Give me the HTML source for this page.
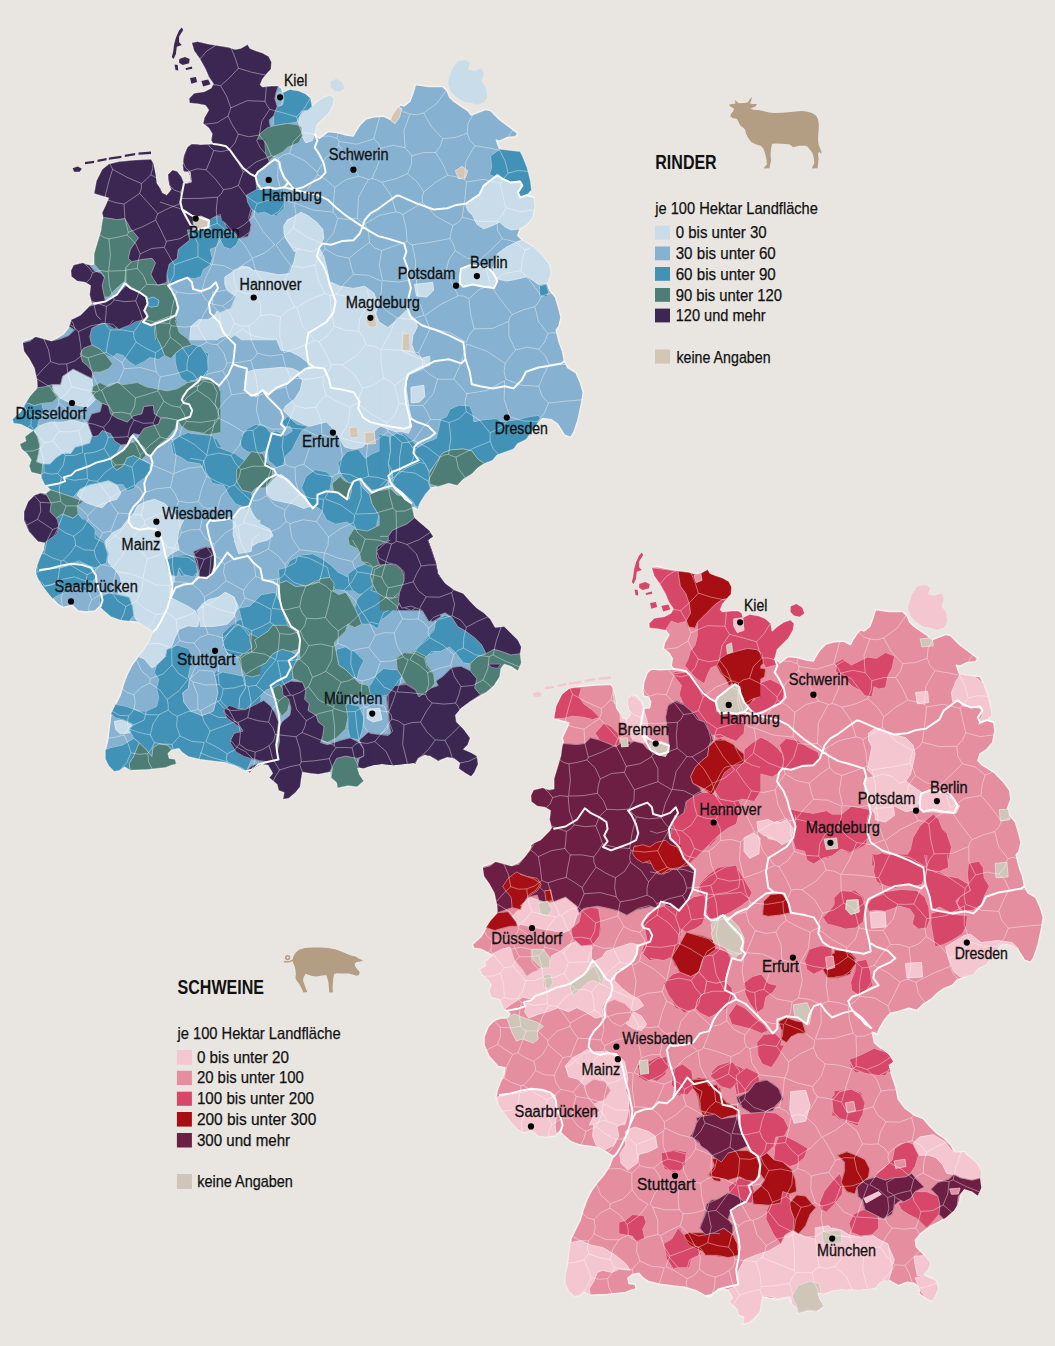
<!DOCTYPE html><html><head><meta charset="utf-8"><title>Rinder und Schweine</title>
<style>html,body{margin:0;padding:0;background:#e9e6e1;}body{width:1055px;height:1346px;overflow:hidden;position:relative;font-family:"Liberation Sans",sans-serif;}svg{position:absolute;left:0;top:0;}text{font-family:"Liberation Sans",sans-serif;fill:#111;}</style></head><body>
<svg width="1055" height="1346" viewBox="0 0 1055 1346">
<defs><clipPath id="ger"><path d="M191.8,42.7 194.1,50.7 199.8,58.7 205.5,68.9 208.9,76.9 213.5,83.7 211.2,88.2 204.4,91.7 194.1,93.3 189.1,98.5 189.6,103.0 197.5,103.7 205.5,105.3 208.9,109.9 204.4,117.8 203.2,123.5 208.9,128.1 212.3,133.7 211.2,140.6 213.5,144.0 199.8,144.7 191.8,144.0 187.3,147.4 183.9,156.5 182.7,165.6 183.9,171.3 188.4,172.0 190.7,177.0 189.6,182.7 183.9,183.3 181.6,177.0 177.1,171.3 172.5,170.1 168.0,174.7 169.1,183.8 171.4,189.5 166.8,195.2 162.3,192.9 160.1,188.2 156.7,183.2 155.5,174.1 154.4,168.4 153.3,162.7 151.0,159.3 135.1,160.0 119.1,161.6 108.9,163.9 102.1,169.6 96.4,180.9 94.1,193.5 100.9,195.7 108.9,198.0 105.5,206.0 102.1,212.8 103.2,217.3 102.1,221.9 100.9,231.0 97.5,242.4 94.1,253.7 94.1,264.0 87.3,264.7 82.7,262.8 73.6,265.1 70.9,270.8 71.4,276.5 77.1,281.0 85.0,282.2 90.7,285.6 89.6,294.7 91.8,302.7 89.6,306.1 80.5,315.2 71.4,319.7 69.1,326.5 63.7,333.6 51.6,341.2 36.4,336.7 22.7,341.2 24.0,351.3 29.2,358.6 34.4,368.0 37.1,380.5 37.5,387.8 30.2,396.1 26.1,402.4 20.9,411.8 12.5,419.1 13.6,423.2 20.9,424.3 29.2,428.4 33.4,430.5 29.2,433.6 25.0,436.8 26.1,440.9 19.8,444.1 21.9,449.3 27.1,453.5 31.3,459.7 29.2,466.0 31.3,472.2 39.6,474.3 41.7,478.5 44.8,484.7 50.0,488.9 46.9,493.1 40.7,493.1 34.4,495.2 28.2,501.4 24.0,511.8 24.0,520.2 29.1,531.4 38.2,541.6 45.0,542.7 43.9,549.6 40.5,556.4 37.1,565.5 35.9,572.3 38.2,579.1 42.7,586.0 49.6,595.1 57.5,604.2 63.2,607.6 72.3,605.3 78.0,611.0 86.0,612.1 95.1,611.0 99.6,606.4 104.2,611.0 111.0,616.7 120.1,620.1 129.2,621.2 138.3,622.4 146.3,626.9 153.1,631.5 149.7,640.6 144.0,649.7 137.2,657.6 131.5,665.6 126.9,674.7 123.5,683.8 120.1,695.2 115.5,704.3 111.0,713.4 109.9,722.5 108.7,731.6 107.6,740.7 105.3,749.8 105.3,758.9 108.7,765.7 114.4,771.4 120.1,770.2 124.6,766.8 130.3,770.2 147.4,769.6 165.6,767.5 171.3,765.2 176.5,763.9 175.1,759.3 169.0,758.4 167.9,753.2 172.0,749.8 178.8,748.2 182.0,752.0 188.3,756.6 199.7,759.3 213.4,761.1 224.7,762.3 236.1,765.7 244.1,770.2 249.8,772.5 254.6,767.5 261.4,764.1 268.2,765.2 272.8,773.2 269.4,777.7 277.3,784.5 278.5,790.2 284.2,792.5 283.0,799.3 288.7,798.2 295.5,792.5 300.1,786.8 301.2,778.9 302.4,772.0 309.2,773.2 318.3,774.3 329.7,772.0 330.8,777.7 336.5,782.3 337.6,788.0 347.9,785.7 357.0,786.8 363.8,781.1 359.2,774.3 357.0,767.5 363.8,768.6 372.9,765.2 382.0,764.1 393.4,765.2 404.7,764.1 413.8,762.9 415.5,764.1 417.8,758.4 424.6,755.0 430.3,756.1 438.2,760.7 447.3,757.3 454.2,758.4 459.9,762.9 458.7,768.6 465.5,773.2 471.2,776.6 474.6,772.0 478.1,764.1 476.9,756.1 471.2,752.7 463.3,749.3 467.8,744.7 470.1,737.9 463.3,728.8 456.4,722.0 455.3,715.2 461.0,708.3 470.1,701.5 479.2,697.0 486.0,692.4 494.0,685.6 499.7,676.5 500.8,668.5 504.2,664.0 511.0,666.3 517.9,670.8 521.3,662.8 520.1,653.7 521.3,646.9 517.9,640.1 511.0,633.3 504.2,626.4 495.1,627.6 490.6,619.6 483.7,612.8 476.9,608.2 470.1,601.4 463.3,593.5 454.2,590.0 445.1,583.2 438.2,574.1 436.0,562.7 431.4,549.1 428.0,540.0 433.2,536.4 429.0,530.2 421.7,523.9 414.4,517.7 412.3,507.3 417.5,509.3 419.6,503.1 424.8,494.7 430.0,488.5 438.4,486.4 448.8,483.3 457.2,485.4 463.4,479.1 471.8,473.9 478.0,467.6 484.3,463.5 492.6,460.3 496.8,455.1 505.1,452.0 513.5,448.9 517.6,443.6 526.0,439.5 530.1,434.3 534.3,428.0 538.5,421.8 542.7,418.6 551.0,419.7 557.3,423.8 561.4,430.1 564.5,435.3 570.8,437.4 573.9,432.2 578.1,419.7 581.2,405.1 583.3,392.6 580.2,382.1 576.0,372.7 567.7,367.5 564.5,361.3 562.5,350.9 559.3,342.5 556.2,330.0 558.8,326.6 561.1,317.5 558.8,308.4 555.4,297.1 549.7,290.2 547.4,283.4 550.9,274.3 549.7,265.2 542.9,256.1 533.8,247.0 522.4,240.2 517.9,235.6 520.1,228.8 527.0,224.3 532.7,217.4 534.9,206.1 533.8,197.0 527.0,194.7 531.5,190.1 530.4,181.0 527.0,167.4 522.4,156.0 520.1,151.5 499.7,149.2 496.3,140.1 499.7,141.2 506.5,137.8 515.6,136.7 517.9,133.3 508.8,126.4 499.7,119.6 490.6,110.5 486.0,109.4 476.9,112.8 471.2,115.1 467.8,110.5 461.0,106.0 454.2,101.4 449.6,96.9 447.3,91.2 442.8,86.6 429.1,86.6 415.5,84.4 413.2,92.3 409.8,101.4 404.1,106.0 400.7,104.8 397.3,108.2 392.7,115.1 390.5,119.6 383.6,116.2 373.8,116.7 365.9,119.0 360.2,124.6 355.6,131.5 353.4,136.0 346.5,134.9 337.4,132.6 328.3,131.5 323.8,134.9 319.2,138.3 314.7,133.7 317.0,124.6 321.5,120.1 328.3,113.3 332.9,105.3 334.0,98.5 330.6,95.1 323.8,97.3 317.0,101.9 312.0,106.4 310.6,98.5 305.6,93.9 298.8,91.0 289.7,89.4 282.8,92.8 281.7,88.2 278.3,86.0 271.5,86.0 262.4,87.1 260.1,84.8 262.4,79.1 266.9,73.5 271.0,68.9 271.5,62.1 268.7,56.4 262.4,53.0 255.5,50.7 249.9,48.4 247.6,44.6 240.8,48.4 235.1,49.6 228.2,47.3 216.9,45.5 207.8,43.9 197.5,41.6Z"/></clipPath><path id="tex" d="M216.1,45.3 L206.9,50.9 L200.0,59.0M231.2,48.3 L235.3,58.1 L238.4,68.2M212.9,84.8 L216.8,84.9 L220.6,85.7M238.4,68.2 L229.9,77.4 L220.6,85.7M513.5,130.0 L510.1,133.2 L508.3,137.6M473.3,114.2 L468.1,123.0 L467.2,133.2M467.2,133.2 L469.8,140.2 L474.9,145.7M499.6,150.3 L487.3,147.7 L474.9,145.7M528.0,171.4 L517.9,170.6 L508.1,173.1M499.6,150.3 L505.2,161.2 L508.1,173.1M498.6,454.4 L493.1,448.7 L490.2,441.3M490.2,441.3 L472.8,448.5 L456.0,457.1M456.0,457.1 L458.4,468.5 L465.3,477.9M52.8,440.9 L48.7,442.3 L44.4,442.7M52.8,440.9 L55.5,435.9 L59.4,431.7M44.4,442.7 L37.1,434.6 L30.8,425.6M59.4,431.7 L54.4,422.1 L53.1,411.3M53.1,411.3 L43.0,415.3 L32.3,415.3M32.3,415.3 L31.3,420.4 L30.8,425.6M59.4,431.7 L69.0,431.8 L78.6,430.5M65.4,455.5 L59.0,448.3 L52.8,440.9M65.4,455.5 L74.4,455.4 L82.8,452.5M78.6,430.5 L81.7,441.3 L82.8,452.5M534.2,209.9 L519.8,211.7 L505.8,207.7M508.1,173.1 L504.1,178.2 L500.2,183.4M505.8,207.7 L502.9,195.5 L500.2,183.4M238.4,68.2 L251.8,72.3 L265.6,75.1M532.6,246.3 L529.2,248.7 L525.2,249.9M525.2,249.9 L515.0,241.8 L502.3,238.7M505.8,207.7 L502.4,215.1 L496.9,221.2M502.3,238.7 L497.6,230.6 L496.9,221.2M566.2,364.6 L557.7,364.2 L549.1,364.5M582.1,399.8 L565.2,401.2 L548.4,403.1M549.1,364.5 L543.5,375.2 L538.8,386.3M538.8,386.3 L541.8,395.7 L548.4,403.1M548.4,403.1 L544.4,413.1 L537.6,421.4M501.2,626.8 L496.3,640.7 L493.1,655.0M493.1,655.0 L506.1,661.5 L519.5,666.9M477.1,757.1 L468.9,761.2 L459.8,763.0M493.1,655.0 L490.9,655.6 L489.1,656.8M491.8,687.5 L487.6,683.5 L483.1,680.0M483.1,680.0 L487.8,668.8 L489.1,656.8M359.2,767.9 L354.5,758.2 L352.1,747.8M352.1,747.8 L344.0,747.5 L336.0,747.7M331.1,778.0 L332.4,768.1 L329.3,758.6M336.0,747.7 L332.2,752.8 L329.3,758.6M374.8,741.5 L383.9,730.6 L391.9,719.0M374.8,741.5 L386.1,751.5 L392.5,765.1M407.5,763.7 L402.7,744.6 L404.0,724.9M404.0,724.9 L398.4,721.0 L391.9,719.0M359.3,742.3 L367.1,743.5 L374.8,741.5M352.1,747.8 L355.1,744.3 L359.3,742.3M420.5,722.1 L425.8,712.2 L432.2,702.9M420.5,722.1 L426.8,731.8 L435.3,739.8M435.3,739.8 L440.1,740.2 L444.9,740.3M444.9,740.3 L452.6,733.1 L460.1,725.6M432.2,702.9 L443.9,704.1 L455.6,703.1M455.6,703.1 L458.0,706.2 L459.8,709.7M404.0,724.9 L412.1,722.5 L420.5,722.1M414.7,763.5 L415.4,762.2 L416.6,761.2M420.1,757.2 L428.6,749.3 L435.3,739.8M452.3,758.1 L449.5,748.8 L444.9,740.3M460.9,686.5 L472.7,685.6 L483.1,680.0M460.9,686.5 L458.8,694.9 L455.6,703.1M207.9,144.3 L210.5,147.6 L213.7,150.5M213.7,150.5 L210.2,160.3 L206.2,169.8M183.2,162.2 L185.3,167.4 L189.4,171.2M206.2,169.8 L197.6,168.8 L189.4,171.2M40.5,448.2 L32.7,451.0 L24.4,451.3M40.5,448.2 L43.6,460.2 L44.2,472.6M44.2,472.6 L42.1,473.9 L40.1,475.2M44.4,442.7 L42.4,445.4 L40.5,448.2M30.8,425.6 L29.1,426.4 L27.6,427.7M65.4,455.5 L63.2,465.3 L57.6,473.6M57.6,473.6 L50.8,474.1 L44.2,472.6M61.3,477.3 L59.6,475.3 L57.6,473.6M61.3,477.3 L59.2,489.3 L60.7,501.3M60.7,501.3 L50.4,502.9 L40.1,502.3M40.1,502.3 L37.2,498.8 L34.1,495.5M24.0,406.1 L27.3,411.4 L32.3,415.3M73.7,536.2 L65.3,532.8 L57.9,527.7M73.7,536.2 L82.6,529.3 L88.3,519.6M57.9,527.7 L62.2,516.8 L66.1,505.9M88.3,519.6 L87.8,517.5 L87.7,515.5M87.7,515.5 L82.8,510.5 L77.6,506.0M66.1,505.9 L71.8,505.9 L77.6,506.0M52.7,529.5 L55.3,528.5 L57.9,527.7M37.5,519.4 L45.1,524.4 L52.7,529.5M37.5,519.4 L40.8,511.1 L40.1,502.3M60.7,501.3 L63.1,503.9 L66.1,505.9M43.8,338.9 L48.5,349.9 L50.7,361.7M36.3,376.6 L43.2,368.9 L50.7,361.7M61.3,477.3 L74.3,480.3 L87.5,478.6M84.4,453.5 L86.7,466.0 L87.5,478.6M77.6,506.0 L82.1,492.5 L88.9,480.1M87.5,478.6 L88.2,479.4 L88.9,480.1M150.3,734.8 L152.9,724.0 L159.0,714.8M128.8,728.9 L139.4,732.6 L150.3,734.8M128.6,715.9 L131.7,712.6 L134.0,708.7M128.8,728.9 L127.3,722.4 L128.6,715.9M159.0,714.8 L145.8,714.6 L134.0,708.7M150.4,678.7 L149.9,680.9 L149.9,683.1M150.4,678.7 L141.1,670.4 L136.3,658.9M122.2,688.2 L127.4,692.8 L134.0,694.6M149.9,683.1 L141.0,687.5 L134.0,694.6M147.8,753.6 L151.7,748.5 L154.4,742.7M147.8,753.6 L148.6,761.7 L152.1,769.0M154.4,742.7 L163.3,744.0 L172.3,744.4M172.3,744.4 L172.6,747.0 L173.3,749.5M175.4,760.1 L176.1,762.0 L176.1,764.0M130.9,752.8 L139.3,754.3 L147.8,753.6M130.9,752.8 L128.1,743.7 L124.1,734.9M124.1,734.9 L126.2,731.7 L128.8,728.9M150.3,734.8 L152.3,738.8 L154.4,742.7M119.5,770.4 L126.8,762.7 L130.9,752.8M199.0,759.1 L201.8,750.9 L204.3,742.5M172.3,744.4 L175.9,740.0 L180.0,736.0M180.0,736.0 L191.6,741.3 L204.3,742.5M239.3,744.1 L234.3,750.3 L227.1,753.7M239.3,744.1 L240.4,733.1 L238.2,722.3M238.2,722.3 L236.8,722.0 L235.4,721.5M235.4,721.5 L222.8,726.4 L210.1,731.0M227.1,753.7 L216.8,747.1 L205.9,741.6M205.9,741.6 L208.0,736.3 L210.1,731.0M255.2,752.0 L246.5,749.5 L239.3,744.1M255.2,752.0 L254.6,761.8 L251.2,771.0M227.4,763.1 L226.3,758.4 L227.1,753.7M220.2,700.4 L229.1,710.0 L235.4,721.5M200.7,710.5 L210.3,705.1 L220.2,700.4M200.7,710.5 L204.0,721.4 L210.1,731.0M446.4,90.2 L436.8,103.4 L423.6,113.0M467.2,133.2 L455.3,137.6 L442.7,138.6M442.7,138.6 L431.6,126.9 L423.6,113.0M474.9,145.7 L465.8,161.4 L464.5,179.5M500.2,183.4 L483.5,179.3 L466.5,182.0M464.5,179.5 L465.5,180.7 L466.5,182.0M496.9,221.2 L479.4,221.6 L462.3,217.3M466.5,182.0 L464.8,199.7 L462.3,217.3M487.8,616.8 L476.8,621.6 L466.4,627.3M489.1,656.8 L475.4,654.8 L463.3,648.1M463.3,648.1 L463.8,637.5 L466.4,627.3M388.2,480.6 L389.4,494.6 L393.1,508.1M388.2,480.6 L394.6,476.8 L399.6,471.3M399.6,471.3 L414.8,473.0 L428.0,481.0M396.0,511.2 L394.5,509.7 L393.1,508.1M396.0,511.2 L404.5,511.1 L412.4,507.8M413.2,507.6 L415.9,507.1 L418.5,506.5M430.9,488.3 L429.2,484.7 L428.0,481.0M414.0,440.4 L408.2,442.4 L402.1,442.7M402.1,442.7 L399.6,456.9 L399.6,471.3M440.0,457.4 L427.8,447.7 L414.0,440.4M440.0,457.4 L434.3,469.4 L428.0,481.0M448.5,454.3 L452.2,456.0 L456.0,457.1M448.5,454.3 L444.0,455.1 L440.0,457.4M294.9,467.4 L299.1,465.2 L303.8,464.5M294.9,467.4 L290.0,466.8 L285.5,464.4M285.5,464.4 L282.1,446.8 L284.1,428.9M286.3,427.7 L285.2,428.3 L284.1,428.9M286.3,427.7 L303.3,429.2 L318.7,436.4M318.7,436.4 L308.9,449.2 L303.8,464.5M299.8,494.6 L311.3,498.4 L323.5,499.2M324.6,498.6 L330.3,488.3 L332.1,476.7M294.9,467.4 L295.7,481.3 L299.8,494.6M303.8,464.5 L316.5,473.9 L332.1,476.7M324.6,498.6 L340.6,504.9 L354.5,515.1M323.5,499.2 L322.4,511.1 L316.5,521.5M316.5,521.5 L322.7,529.1 L328.5,537.0M354.5,515.1 L354.3,518.9 L353.4,522.7M353.4,522.7 L340.3,528.6 L328.5,537.0M430.4,532.2 L419.3,539.6 L406.9,544.5M396.0,511.2 L396.5,526.2 L396.1,541.2M406.9,544.5 L401.6,542.6 L396.1,541.2M251.8,630.7 L261.1,626.9 L269.9,622.1M251.9,652.2 L250.9,641.5 L251.8,630.7M251.9,652.2 L264.5,654.0 L275.7,659.8M275.7,659.8 L278.7,646.9 L279.6,633.7M279.6,633.7 L276.1,626.8 L269.9,622.1M406.9,544.5 L416.3,553.7 L421.1,566.0M436.4,564.9 L428.7,565.0 L421.1,566.0M273.1,780.9 L276.1,775.3 L279.6,770.0M255.2,752.0 L262.5,749.6 L269.2,745.6M269.2,745.6 L272.5,758.6 L279.6,770.0M302.5,772.1 L301.0,768.4 L299.8,764.6M279.6,770.0 L289.6,766.8 L299.8,764.6M329.3,758.6 L315.4,760.7 L301.3,761.8M299.8,764.6 L300.8,763.3 L301.3,761.8M388.9,711.8 L391.2,715.0 L391.9,719.0M388.9,711.8 L392.7,702.1 L396.1,692.4M425.5,694.5 L411.2,692.8 L396.9,691.9M425.5,694.5 L427.9,699.4 L432.2,702.9M176.4,291.8 L172.2,307.5 L169.6,323.5M176.4,291.8 L188.8,293.9 L201.4,292.7M210.1,303.4 L205.0,298.6 L201.4,292.7M210.1,303.4 L203.7,314.4 L197.7,325.7M197.7,325.7 L184.4,327.1 L171.1,325.7M169.6,323.5 L170.6,324.5 L171.1,325.7M233.4,270.4 L223.4,265.5 L212.3,264.5M222.3,306.0 L231.4,299.9 L237.2,290.5M222.3,306.0 L216.1,304.8 L210.1,303.4M237.2,290.5 L234.2,280.7 L233.4,270.4M211.9,264.7 L205.4,278.2 L201.4,292.7M217.1,344.7 L228.3,336.1 L234.4,323.4M222.3,306.0 L230.3,313.4 L234.4,323.4M207.1,342.3 L201.9,334.3 L197.7,325.7M217.1,344.7 L211.9,344.2 L207.1,342.3M110.0,163.6 L111.3,166.5 L112.6,169.3M112.6,169.3 L108.4,183.0 L105.0,196.9M137.3,268.3 L138.2,261.0 L140.2,253.9M108.6,271.1 L123.0,270.7 L137.3,268.3M108.9,238.8 L110.4,255.0 L108.6,271.1M108.9,238.8 L118.0,237.2 L126.9,234.9M126.9,234.9 L135.4,243.1 L140.2,253.9M217.2,223.4 L216.3,210.3 L217.5,197.2M217.2,223.4 L205.5,227.9 L193.0,229.1M217.5,197.2 L199.7,198.4 L181.8,198.5M193.0,229.1 L185.1,217.1 L179.6,203.9M179.6,203.9 L180.1,201.0 L181.8,198.5M206.2,169.8 L215.4,179.1 L223.4,189.5M184.2,183.3 L182.9,188.1 L180.3,192.2M223.4,189.5 L221.3,194.0 L217.5,197.2M181.8,198.5 L181.3,195.3 L180.3,192.2M153.2,162.7 L152.6,168.9 L150.7,174.8M180.3,192.2 L174.6,190.2 L170.1,186.2M156.0,177.9 L153.4,176.2 L150.7,174.8M112.6,169.3 L126.7,177.1 L141.4,183.5M150.7,174.8 L146.3,179.4 L141.4,183.5M319.0,341.7 L316.8,341.0 L314.6,340.4M319.0,341.7 L328.0,335.4 L334.2,326.4M314.6,340.4 L302.5,325.6 L296.9,307.3M334.2,326.4 L331.2,311.1 L329.9,295.6M296.9,307.3 L310.4,299.2 L325.1,293.7M329.9,295.6 L327.7,294.3 L325.1,293.7M248.9,326.1 L241.4,326.2 L234.4,323.4M237.2,290.5 L246.3,293.3 L255.8,294.3M248.9,326.1 L255.2,321.3 L260.7,315.6M255.8,294.3 L260.6,304.4 L260.7,315.6M283.8,352.8 L299.5,347.4 L314.6,340.4M283.8,352.8 L279.6,335.1 L280.4,316.9M296.9,307.3 L295.8,307.1 L294.6,307.0M280.4,316.9 L286.9,311.1 L294.6,307.0M150.4,678.7 L162.8,674.1 L172.1,664.9M172.1,664.9 L171.8,656.6 L171.8,648.3M147.6,643.9 L160.1,643.6 L171.8,648.3M52.7,529.5 L46.9,540.8 L44.1,553.2M37.5,519.4 L31.9,522.4 L26.3,525.3M44.1,553.2 L43.0,553.7 L41.8,553.7M128.6,715.9 L119.8,715.4 L112.1,711.2M134.0,708.7 L135.2,701.7 L134.0,694.6M124.1,734.9 L116.1,737.1 L107.9,738.1M73.7,536.2 L75.2,540.6 L75.6,545.3M75.6,545.3 L70.2,553.4 L63.2,560.2M44.1,553.2 L52.2,557.8 L61.2,560.8M63.2,560.2 L62.2,560.5 L61.2,560.8M42.9,586.2 L50.5,585.3 L57.6,582.5M61.2,560.8 L59.1,571.6 L57.6,582.5M62.6,607.2 L61.2,597.7 L64.1,588.6M64.1,588.6 L60.8,585.6 L57.6,582.5M286.3,427.7 L290.9,416.8 L295.3,405.7M318.7,436.4 L320.4,435.8 L321.9,434.9M295.3,405.7 L305.5,408.4 L315.9,407.1M315.9,407.1 L321.2,420.5 L321.9,434.9M173.8,473.5 L176.1,456.3 L172.3,439.5M173.8,473.5 L187.6,468.2 L202.3,466.6M202.3,466.6 L204.0,460.8 L206.8,455.5M206.7,455.1 L194.2,444.2 L179.5,436.2M179.5,436.2 L176.3,438.6 L172.3,439.5M160.3,376.8 L173.9,374.4 L187.1,370.2M160.3,376.8 L158.0,374.6 L156.3,371.8M156.3,371.8 L154.7,362.3 L155.5,352.7M187.1,370.2 L187.0,363.4 L188.6,356.8M188.6,356.8 L181.1,345.5 L170.3,337.2M170.3,337.2 L164.5,346.5 L155.5,352.7M207.1,342.3 L196.3,347.5 L188.6,356.8M171.1,325.7 L169.6,331.4 L170.3,337.2M109.9,501.3 L97.3,506.0 L87.7,515.5M109.9,501.3 L110.1,499.7 L110.2,498.1M88.9,480.1 L93.1,481.0 L97.4,481.2M110.2,498.1 L104.0,489.5 L97.4,481.2M149.9,683.1 L159.8,689.9 L167.1,699.5M172.1,664.9 L178.7,673.7 L188.0,679.4M188.0,679.4 L178.9,690.8 L167.1,699.5M180.0,736.0 L176.6,726.4 L177.3,716.3M200.7,710.5 L199.2,710.1 L197.9,709.5M197.9,709.5 L187.2,711.9 L177.3,716.3M159.0,714.8 L163.5,712.3 L168.2,710.2M177.3,716.3 L172.4,713.8 L168.2,710.2M167.1,699.5 L168.2,704.8 L168.2,710.2M244.9,684.8 L246.5,685.7 L248.1,686.6M244.9,684.8 L234.1,687.9 L223.0,688.9M223.0,688.9 L222.2,694.8 L220.2,700.4M238.2,722.3 L243.0,720.1 L247.7,717.7M247.7,717.7 L251.2,702.2 L248.1,686.6M240.6,658.3 L245.8,654.5 L251.9,652.2M240.6,658.3 L241.7,671.7 L244.9,684.8M275.9,660.0 L265.4,672.2 L256.0,685.4M256.0,685.4 L252.0,685.8 L248.1,686.6M201.8,660.7 L210.3,663.4 L219.1,662.2M201.8,660.7 L194.3,669.1 L189.9,679.6M189.9,679.6 L191.5,680.5 L192.6,681.9M192.6,681.9 L205.7,684.9 L219.2,684.7M219.2,684.7 L218.0,673.4 L219.1,662.2M193.9,643.0 L199.7,651.0 L201.8,660.7M193.9,643.0 L186.7,642.5 L179.7,640.7M171.8,648.3 L175.8,644.6 L179.7,640.7M197.9,709.5 L197.7,695.2 L192.6,681.9M223.0,688.9 L221.4,686.6 L219.2,684.7M240.6,658.3 L233.9,657.2 L227.8,654.1M227.8,654.1 L223.9,658.7 L219.1,662.2M227.8,654.1 L223.9,646.5 L222.8,638.1M193.9,643.0 L200.3,637.3 L208.2,634.1M208.2,634.1 L215.6,635.7 L222.8,638.1M251.8,630.7 L243.9,626.9 L235.6,623.9M222.8,638.1 L230.3,632.0 L235.6,623.9M269.9,622.1 L270.9,615.8 L271.1,609.4M245.0,597.9 L258.4,602.8 L271.1,609.4M245.0,597.9 L240.5,606.4 L233.8,613.3M233.8,613.3 L235.9,618.4 L235.6,623.9M423.6,113.0 L416.9,114.8 L409.9,114.0M409.9,114.0 L403.4,111.8 L398.4,107.1M338.4,132.8 L337.2,135.7 L337.3,138.7M337.3,138.7 L338.4,139.9 L338.9,141.4M379.8,116.4 L376.7,127.6 L373.8,138.9M338.9,141.4 L356.7,144.2 L373.8,138.9M405.1,147.7 L404.0,130.3 L409.9,114.0M405.1,147.7 L392.8,145.3 L380.6,148.2M380.6,148.2 L378.1,142.9 L373.8,138.9M310.4,98.3 L304.4,108.2 L296.6,116.8M337.3,138.7 L329.9,136.1 L322.0,136.2M316.2,135.3 L309.2,133.1 L301.9,132.9M296.6,116.8 L299.0,124.9 L301.9,132.9M226.9,231.5 L229.4,231.8 L232.0,231.8M232.0,231.8 L243.8,225.0 L253.9,216.1M217.2,223.4 L222.2,227.2 L226.9,231.5M238.4,185.5 L246.2,196.1 L257.0,203.6M238.4,185.5 L231.2,188.5 L223.4,189.5M253.9,216.1 L254.9,209.7 L257.0,203.6M372.0,178.4 L370.2,179.2 L368.3,179.4M372.0,178.4 L378.4,163.9 L380.6,148.2M338.8,145.4 L338.7,143.4 L338.9,141.4M338.8,145.4 L349.4,160.3 L358.6,176.2M358.6,176.2 L363.5,177.6 L368.3,179.4M381.9,182.2 L377.1,180.0 L372.0,178.4M381.9,182.2 L391.3,196.0 L396.0,211.9M364.9,224.0 L379.4,215.4 L396.0,211.9M364.9,224.0 L360.9,221.7 L357.5,218.5M368.3,179.4 L358.4,197.7 L357.5,218.5M301.9,132.9 L293.3,141.7 L289.5,153.4M338.8,145.4 L326.2,157.3 L317.1,172.1M289.5,153.4 L304.7,160.7 L317.1,172.1M452.8,225.5 L435.9,216.2 L422.5,202.3M452.8,225.5 L451.1,232.0 L450.0,238.5M407.2,241.2 L406.0,227.7 L402.8,214.6M422.5,202.3 L412.7,208.5 L402.8,214.6M407.2,241.2 L409.4,243.6 L412.4,244.8M412.4,244.8 L431.3,242.1 L450.0,238.5M450.8,665.5 L452.1,660.0 L453.7,654.5M450.8,665.5 L438.9,668.3 L427.6,672.6M453.7,654.5 L442.6,644.9 L429.8,637.8M429.8,637.8 L418.1,647.2 L409.9,659.6M427.6,672.6 L419.4,665.2 L409.9,659.6M460.9,686.5 L454.4,676.7 L450.8,665.5M463.3,648.1 L458.0,650.4 L453.7,654.5M425.5,694.5 L428.9,683.8 L427.6,672.6M408.2,659.7 L402.2,675.7 L396.9,691.9M418.0,618.9 L420.3,607.2 L426.2,596.8M418.0,618.9 L424.0,622.8 L428.4,628.3M428.4,628.3 L438.9,619.4 L452.2,615.8M426.2,596.8 L439.3,597.2 L451.6,592.6M452.2,615.8 L454.5,604.1 L451.6,592.6M466.4,627.3 L460.6,620.0 L452.2,615.8M429.8,637.8 L428.0,633.2 L428.4,628.3M453.7,589.7 L452.7,591.2 L451.6,592.6M421.1,566.0 L416.6,573.6 L413.2,581.8M413.2,581.8 L418.2,590.6 L426.2,596.8M260.1,424.0 L256.3,410.0 L258.2,395.7M284.1,428.9 L271.6,429.1 L260.1,424.0M295.3,405.7 L288.7,397.3 L285.9,386.9M258.2,395.7 L271.9,390.7 L285.9,386.9M248.9,326.1 L251.4,340.2 L257.3,353.3M260.7,315.6 L270.7,314.3 L280.4,316.9M257.3,353.3 L269.9,356.1 L282.6,354.4M331.2,365.1 L328.4,371.9 L323.0,376.7M323.0,376.7 L306.8,379.4 L290.4,377.8M319.0,341.7 L325.7,353.1 L331.2,365.1M282.6,354.4 L285.4,366.5 L290.4,377.8M323.0,376.7 L323.4,386.3 L326.3,395.4M315.9,407.1 L320.2,400.5 L326.3,395.4M285.9,386.9 L288.4,382.5 L290.4,377.8M299.8,494.6 L291.6,501.5 L285.0,509.9M285.0,509.9 L284.3,515.9 L286.4,521.5M316.5,521.5 L302.9,519.8 L289.7,523.7M289.7,523.7 L288.0,522.6 L286.4,521.5M285.0,509.9 L274.4,504.8 L266.8,495.8M285.5,464.4 L278.4,467.2 L271.0,469.1M266.8,495.8 L266.8,482.1 L271.0,469.1M260.1,424.0 L256.7,427.5 L252.8,430.5M252.8,430.5 L256.1,449.3 L265.1,466.2M271.0,469.1 L268.4,467.0 L265.1,466.2M243.5,432.2 L248.0,430.3 L252.8,430.5M231.1,455.5 L239.7,445.1 L243.5,432.2M231.1,455.5 L235.3,463.1 L240.9,469.6M265.1,466.2 L252.8,466.2 L240.9,469.6M367.6,443.6 L353.6,441.5 L340.1,437.5M367.6,443.6 L366.2,460.0 L368.6,476.3M338.4,473.1 L342.3,455.6 L339.5,437.8M338.4,473.1 L350.1,474.4 L360.7,479.7M360.7,479.7 L364.5,477.7 L368.6,476.3M357.6,403.6 L353.6,404.8 L350.2,407.3M350.2,407.3 L348.3,423.4 L340.1,437.5M387.0,422.6 L386.5,427.2 L388.0,431.6M387.0,422.6 L371.6,414.2 L357.6,403.6M388.0,431.6 L378.5,438.7 L367.6,443.6M402.1,442.7 L395.4,436.7 L388.0,431.6M388.2,480.6 L378.6,477.6 L368.6,476.3M321.9,434.9 L330.6,437.1 L339.5,437.8M332.1,476.7 L335.2,474.9 L338.4,473.1M355.4,514.1 L361.3,497.4 L360.7,479.7M326.3,395.4 L338.0,401.8 L350.2,407.3M355.4,514.1 L374.6,513.4 L393.1,508.1M365.1,539.0 L361.1,551.5 L352.5,561.5M365.1,539.0 L378.6,540.1 L391.6,543.9M391.6,543.9 L386.4,560.4 L381.7,577.1M381.7,577.1 L369.7,573.8 L357.4,571.9M357.4,571.9 L354.1,567.2 L352.5,561.5M353.4,522.7 L357.3,532.3 L365.1,539.0M324.6,552.8 L338.2,558.2 L352.5,561.5M328.5,537.0 L328.0,545.2 L324.6,552.8M396.1,541.2 L394.1,543.0 L391.6,543.9M388.1,587.9 L400.7,585.2 L413.2,581.8M388.1,587.9 L384.4,582.8 L381.7,577.1M418.0,618.9 L410.3,619.4 L402.5,618.9M388.1,587.9 L386.8,592.5 L386.2,597.2M402.5,618.9 L396.9,606.2 L386.2,597.2M361.7,612.0 L354.7,599.7 L343.9,590.5M343.9,590.5 L351.8,582.0 L357.4,571.9M386.2,597.2 L374.9,605.6 L362.3,612.0M343.9,590.5 L337.5,589.6 L331.2,591.2M331.2,591.2 L328.9,604.5 L325.4,617.5M361.7,612.0 L350.9,622.6 L338.2,630.9M338.2,630.9 L331.2,624.7 L325.4,617.5M279.6,633.7 L290.3,634.4 L300.4,631.0M299.7,606.6 L286.1,609.8 L272.1,608.5M299.7,606.6 L302.2,612.9 L306.5,618.2M306.5,618.2 L304.9,625.3 L300.4,631.0M359.3,742.3 L356.8,727.0 L355.3,711.5M388.9,711.8 L376.0,710.5 L363.8,706.3M363.8,706.3 L359.6,708.9 L355.3,711.5M375.1,676.5 L383.8,686.9 L396.1,692.4M375.1,676.5 L368.8,679.4 L362.2,680.9M363.8,706.3 L361.1,693.7 L362.2,680.9M169.2,284.1 L158.0,284.8 L146.9,284.3M146.9,284.3 L139.5,291.3 L135.7,300.8M169.6,323.5 L155.9,322.5 L142.5,319.0M176.4,291.8 L172.3,288.4 L169.2,284.1M142.5,319.0 L139.5,309.8 L135.7,300.8M92.6,272.6 L100.3,270.5 L108.2,271.6M92.6,272.6 L90.4,278.4 L86.1,282.8M108.2,271.6 L109.4,286.1 L114.1,299.9M91.4,301.0 L98.8,303.8 L106.4,306.4M106.4,306.4 L110.9,303.9 L114.1,299.9M99.8,234.8 L104.0,237.6 L108.9,238.8M84.3,263.5 L88.9,267.6 L92.6,272.6M135.7,300.8 L124.8,301.7 L114.1,299.9M137.3,268.3 L143.4,275.5 L146.9,284.3M78.4,331.6 L91.2,325.7 L105.0,323.4M69.8,324.3 L74.3,327.7 L78.4,331.6M105.0,323.4 L105.9,314.9 L106.4,306.4M174.3,264.8 L169.3,256.0 L164.2,247.3M174.3,264.8 L186.1,260.6 L198.0,256.7M198.0,256.7 L197.9,243.4 L191.8,231.6M191.8,231.6 L179.9,238.8 L166.2,241.3M166.2,241.3 L165.5,244.4 L164.2,247.3M140.2,253.9 L151.6,248.5 L164.2,247.3M169.2,284.1 L174.0,275.1 L174.3,264.8M211.9,264.7 L204.9,260.8 L198.0,256.7M226.9,231.5 L216.1,246.5 L212.3,264.5M193.0,229.1 L192.2,230.2 L191.8,231.6M155.6,220.1 L142.3,226.9 L128.3,232.3M155.6,220.1 L156.4,216.8 L157.8,213.7M157.8,213.7 L148.8,203.4 L139.6,193.5M128.3,232.3 L124.9,218.4 L124.0,204.1M124.0,204.1 L131.8,198.8 L139.6,193.5M126.9,234.9 L127.8,233.7 L128.3,232.3M166.2,241.3 L161.1,230.6 L155.6,220.1M179.6,203.9 L168.5,208.3 L157.8,213.7M141.4,183.5 L141.3,188.6 L139.6,193.5M108.0,200.2 L115.9,202.7 L124.0,204.1M407.2,241.2 L394.5,246.0 L381.7,250.5M402.8,214.6 L399.7,212.6 L396.0,211.9M364.9,224.0 L368.6,232.9 L369.5,242.5M381.7,250.5 L374.7,247.9 L369.5,242.5M412.4,244.8 L415.7,261.7 L414.8,279.0M414.8,279.0 L398.9,282.1 L382.6,280.6M381.7,250.5 L379.3,265.6 L382.6,280.6M75.6,545.3 L84.3,549.8 L94.2,550.4M88.3,519.6 L95.4,526.1 L102.8,532.5M102.8,532.5 L98.4,541.4 L94.2,550.4M342.0,364.8 L354.6,374.6 L362.7,388.3M342.0,364.8 L355.4,356.6 L365.9,345.1M365.9,345.1 L373.7,346.0 L380.8,349.4M380.8,349.4 L381.2,363.9 L383.6,378.2M383.6,378.2 L373.9,384.9 L362.7,388.3M331.2,365.1 L336.6,364.3 L342.0,364.8M357.6,403.6 L359.7,395.8 L362.7,388.3M358.6,331.2 L363.7,337.4 L365.9,345.1M334.2,326.4 L346.1,330.3 L358.6,331.2M387.0,422.6 L395.3,414.2 L399.0,402.9M399.0,402.9 L396.9,394.2 L394.6,385.6M394.6,385.6 L389.7,380.9 L383.6,378.2M186.4,421.4 L184.0,413.9 L180.0,407.3M186.4,421.4 L200.8,422.4 L215.1,420.2M180.0,407.3 L187.2,397.3 L197.1,390.1M197.1,390.1 L209.2,398.4 L218.6,409.6M218.6,409.6 L218.3,413.8 L218.0,417.9M215.1,420.2 L216.8,419.4 L218.0,417.9M160.2,437.1 L166.2,438.6 L172.3,439.5M163.8,401.3 L171.4,405.7 L180.0,407.3M163.8,401.3 L157.7,411.7 L153.1,422.9M153.1,422.9 L156.7,429.9 L160.2,437.1M179.5,436.2 L181.6,428.1 L186.4,421.4M206.7,455.1 L210.5,437.6 L215.1,420.2M187.1,370.2 L192.9,373.3 L196.8,378.7M157.9,390.9 L161.0,396.0 L163.8,401.3M196.8,378.7 L198.3,384.3 L197.1,390.1M157.9,390.9 L158.8,383.8 L160.3,376.8M231.1,455.5 L219.0,453.1 L206.8,455.5M243.5,432.2 L231.2,424.4 L218.0,417.9M84.9,422.3 L83.6,418.8 L83.2,415.0M78.6,430.5 L82.3,426.9 L84.9,422.3M53.1,411.3 L56.9,407.9 L58.8,403.2M83.2,415.0 L70.0,411.3 L58.8,403.2M36.7,378.7 L50.1,387.0 L58.7,400.1M58.8,403.2 L58.9,401.6 L58.7,400.1M135.5,397.8 L134.6,406.4 L130.5,414.0M157.9,390.9 L146.8,394.5 L135.5,397.8M153.1,422.9 L143.3,423.3 L134.1,420.0M130.5,414.0 L131.7,417.3 L134.1,420.0M105.0,323.4 L107.4,327.0 L110.4,329.9M142.5,319.0 L138.4,325.7 L133.7,332.0M110.4,329.9 L122.2,329.9 L133.7,332.0M155.5,352.7 L145.5,348.0 L136.1,342.1M136.1,342.1 L133.9,337.3 L133.7,332.0M115.5,465.1 L123.9,464.2 L131.9,467.2M115.5,465.1 L109.5,457.0 L104.2,448.4M127.9,436.6 L118.1,437.3 L108.2,437.2M127.9,436.6 L135.9,444.6 L140.2,455.2M131.9,467.2 L135.2,462.3 L139.7,458.4M104.2,448.4 L106.7,443.0 L108.2,437.2M140.2,455.2 L139.9,456.8 L139.7,458.4M110.2,498.1 L122.1,491.1 L134.6,485.1M97.4,481.2 L105.5,472.1 L115.5,465.1M134.6,485.1 L133.7,476.1 L131.9,467.2M84.4,453.5 L94.6,452.3 L104.2,448.4M113.0,412.8 L109.3,420.9 L103.4,427.4M113.0,412.8 L121.8,412.2 L130.5,414.0M134.1,420.0 L130.0,427.9 L127.9,436.6M103.4,427.4 L105.9,432.3 L108.2,437.2M160.2,437.1 L149.5,445.4 L140.2,455.2M142.8,493.3 L156.3,488.8 L170.5,487.3M142.8,493.3 L139.7,488.2 L134.6,485.1M173.4,473.9 L156.2,466.8 L139.7,458.4M173.4,473.9 L172.1,480.6 L170.5,487.3M84.9,422.3 L94.3,424.3 L103.4,427.4M226.3,580.7 L223.5,572.7 L224.5,564.3M226.3,580.7 L235.0,585.5 L243.6,590.4M224.5,564.3 L235.4,557.7 L248.0,556.5M243.6,590.4 L248.8,582.7 L255.7,576.4M255.7,576.4 L254.6,566.0 L249.2,557.0M245.0,597.9 L243.5,594.3 L243.6,590.4M277.7,579.0 L266.4,580.3 L255.7,576.4M277.7,579.0 L276.5,594.0 L272.1,608.5M268.4,549.0 L259.1,553.7 L249.2,557.0M271.0,531.5 L270.1,540.3 L268.4,549.0M271.0,531.5 L257.3,526.5 L243.3,522.7M248.0,556.5 L240.4,542.0 L238.0,525.8M238.0,525.8 L241.0,524.9 L243.3,522.7M266.8,495.8 L259.6,499.8 L251.6,501.3M271.0,531.5 L279.6,527.8 L286.4,521.5M243.3,522.7 L247.7,512.1 L251.6,501.3M240.9,469.6 L239.0,478.0 L234.3,485.1M251.6,501.3 L242.8,493.3 L234.3,485.1M423.8,191.9 L416.9,181.7 L407.6,173.7M423.8,191.9 L435.1,182.6 L447.7,175.2M435.7,152.5 L423.5,152.6 L411.8,155.7M435.7,152.5 L442.5,163.4 L447.7,175.2M411.8,155.7 L411.2,165.0 L407.6,173.7M422.5,202.3 L422.2,197.0 L423.8,191.9M381.9,182.2 L395.1,179.1 L407.6,173.7M452.8,225.5 L458.3,222.3 L462.3,217.3M464.5,179.5 L456.2,176.9 L447.7,175.2M442.7,138.6 L440.4,146.2 L435.7,152.5M405.1,147.7 L408.5,151.6 L411.8,155.7M257.0,203.6 L269.9,199.8 L283.0,197.1M238.4,185.5 L240.6,178.7 L243.3,171.9M278.5,158.1 L277.6,178.0 L283.0,197.1M278.5,158.1 L275.1,156.6 L271.4,155.9M243.3,171.9 L256.2,161.9 L271.4,155.9M213.7,150.5 L221.5,151.7 L229.2,149.7M243.3,171.9 L237.0,160.3 L229.2,149.7M349.2,258.2 L359.1,250.0 L369.5,242.5M357.5,218.5 L347.6,219.3 L337.8,218.5M337.8,218.5 L333.6,232.7 L324.4,244.2M349.2,258.2 L336.3,255.6 L325.1,248.8M324.4,244.2 L324.5,246.5 L325.1,248.8M333.1,212.1 L333.7,199.8 L334.9,187.4M333.1,212.1 L313.3,210.1 L294.6,203.0M294.6,203.0 L307.3,189.9 L317.5,174.7M334.9,187.4 L326.7,180.4 L317.5,174.7M337.8,218.5 L335.6,215.2 L333.1,212.1M358.6,176.2 L345.7,179.6 L334.9,187.4M293.4,227.9 L308.0,237.7 L324.4,244.2M294.2,203.2 L296.1,215.6 L293.4,227.9M278.5,158.1 L283.6,154.8 L289.5,153.4M283.0,197.1 L287.9,201.4 L294.2,203.2M317.1,172.1 L317.0,173.5 L317.5,174.7M414.0,440.4 L421.5,429.4 L430.5,419.5M399.0,402.9 L410.9,405.6 L423.1,405.6M430.5,419.5 L427.3,412.3 L423.1,405.6M448.5,454.3 L450.9,438.5 L449.1,422.6M430.5,419.5 L440.0,419.6 L449.1,422.6M381.2,349.2 L399.9,350.3 L418.6,352.7M394.6,385.6 L407.8,375.4 L423.2,368.9M418.6,352.7 L422.3,360.4 L423.2,368.9M423.1,405.6 L433.2,393.9 L437.6,379.1M423.2,368.9 L429.9,374.6 L437.6,379.1M557.0,333.3 L552.4,332.5 L547.9,333.6M549.1,364.5 L545.4,355.9 L538.8,349.2M547.9,333.6 L544.6,342.2 L538.8,349.2M551.8,292.8 L546.6,294.3 L541.5,296.1M525.2,249.9 L522.1,260.1 L521.0,270.6M521.0,270.6 L531.7,283.0 L541.5,296.1M547.9,333.6 L538.5,321.5 L534.8,306.6M541.5,296.1 L538.9,301.8 L534.8,306.6M416.4,280.1 L431.5,275.6 L446.3,270.4M450.0,238.5 L453.4,244.1 L455.2,250.5M455.2,250.5 L448.9,259.6 L446.3,270.4M502.3,238.7 L491.5,249.3 L480.5,259.6M455.2,250.5 L466.8,258.1 L480.5,259.6M521.0,270.6 L504.2,273.5 L490.4,283.5M480.5,259.6 L486.7,271.0 L490.4,283.5M512.2,314.6 L523.3,309.9 L534.8,306.6M512.2,314.6 L500.9,299.9 L490.0,284.9M258.1,395.6 L256.2,377.6 L250.7,360.3M258.1,395.6 L244.8,392.8 L231.4,394.9M231.4,394.9 L228.5,382.2 L222.7,370.5M250.7,360.3 L238.8,362.3 L226.8,363.1M226.8,363.1 L225.6,367.3 L222.7,370.5M257.3,353.3 L254.5,357.3 L250.7,360.3M218.6,409.6 L224.4,401.7 L231.4,394.9M196.8,378.7 L209.5,373.6 L222.7,370.5M217.1,344.7 L223.9,352.9 L226.8,363.1M284.5,574.1 L285.5,569.4 L285.1,564.6M284.5,574.1 L293.8,582.4 L305.7,586.4M285.1,564.6 L291.5,556.3 L299.8,549.8M305.7,586.4 L312.0,583.0 L319.2,582.6M319.2,582.6 L323.0,567.9 L324.4,552.9M299.8,549.8 L312.1,551.2 L324.4,552.9M268.4,549.0 L277.9,555.6 L285.1,564.6M277.7,579.0 L281.6,577.3 L284.5,574.1M299.7,606.6 L301.9,596.3 L305.7,586.4M289.7,523.7 L291.8,537.9 L299.8,549.8M325.4,617.5 L316.0,618.8 L306.5,618.2M331.2,591.2 L325.8,586.0 L319.2,582.6M380.6,661.6 L392.3,660.9 L403.3,656.9M380.6,661.6 L374.4,654.7 L368.8,647.4M368.8,647.4 L372.2,641.4 L375.4,635.3M375.4,635.3 L384.6,632.7 L394.2,633.0M403.3,656.9 L396.9,645.6 L394.2,633.0M408.2,659.7 L405.6,658.5 L403.3,656.9M375.1,676.5 L377.9,669.1 L380.6,661.6M402.5,618.9 L398.3,625.9 L394.2,633.0M362.3,612.0 L369.5,623.3 L375.4,635.3M338.2,630.9 L338.3,637.2 L337.7,643.5M368.8,647.4 L359.9,648.8 L351.2,651.0M351.2,651.0 L345.1,646.0 L337.7,643.5M362.2,680.9 L358.2,679.9 L355.1,677.3M351.2,651.0 L350.8,664.5 L355.1,677.3M333.6,707.4 L335.8,694.4 L341.1,682.3M355.3,711.5 L344.3,711.9 L333.8,708.4M355.1,677.3 L348.5,680.8 L341.1,682.3M336.0,747.7 L335.0,746.7 L334.4,745.4M333.8,708.4 L333.2,709.3 L332.6,710.2M334.4,745.4 L334.7,727.7 L332.6,710.2M336.1,294.1 L344.4,283.7 L353.5,274.2M336.1,294.1 L352.6,297.7 L365.7,308.2M353.5,274.2 L368.4,275.3 L381.9,281.4M381.9,281.4 L381.4,291.7 L378.2,301.5M365.7,308.2 L372.2,305.4 L378.2,301.5M325.1,293.7 L318.1,280.0 L315.0,264.9M315.0,264.9 L319.6,256.6 L325.1,248.8M349.2,258.2 L351.0,266.3 L353.5,274.2M329.9,295.6 L333.2,295.4 L336.1,294.1M358.6,331.2 L359.7,319.0 L365.7,308.2M423.9,315.1 L418.1,298.1 L416.4,280.1M423.9,315.1 L410.6,319.6 L396.6,317.6M396.6,317.6 L386.4,310.7 L378.2,301.5M381.2,349.2 L389.9,333.9 L396.6,317.6M178.4,501.2 L175.2,493.9 L170.5,487.3M173.8,513.0 L158.6,514.1 L144.7,520.5M178.4,501.2 L176.7,507.3 L173.8,513.0M142.8,493.3 L143.9,504.3 L141.3,515.0M141.3,515.0 L142.5,518.1 L144.7,520.5M109.9,501.3 L113.8,507.3 L118.0,513.1M141.3,515.0 L129.7,513.8 L118.0,513.1M102.8,532.5 L106.7,531.9 L110.6,531.4M118.0,513.1 L114.2,522.2 L110.6,531.4M112.8,567.2 L106.7,565.5 L100.5,564.5M112.8,567.2 L114.6,569.2 L116.0,571.5M116.0,571.5 L113.4,582.0 L111.9,592.8M100.5,564.5 L94.8,571.0 L87.0,574.8M111.9,592.8 L101.1,594.1 L91.8,599.8M87.0,574.8 L86.4,580.0 L84.5,585.0M91.8,599.8 L88.7,592.2 L84.5,585.0M126.8,543.0 L118.2,537.9 L110.6,531.4M126.8,543.0 L122.1,556.4 L112.8,567.2M94.2,550.4 L96.0,558.0 L100.5,564.5M63.2,560.2 L74.9,567.8 L87.0,574.8M125.8,606.4 L117.6,600.8 L111.9,592.8M120.7,620.2 L123.9,613.5 L125.8,606.4M88.6,611.8 L89.1,605.5 L91.8,599.8M64.1,588.6 L74.5,587.9 L84.5,585.0M136.1,342.1 L129.0,352.3 L122.2,362.6M110.4,329.9 L108.0,341.1 L106.2,352.4M106.2,352.4 L114.4,357.3 L122.2,362.6M113.0,412.8 L106.6,402.0 L101.7,390.3M135.5,397.8 L126.8,390.1 L118.4,382.2M101.7,390.3 L109.3,384.7 L118.4,382.2M156.3,371.8 L140.5,367.6 L124.1,368.8M118.4,382.2 L121.3,375.5 L124.1,368.8M124.1,368.8 L123.1,365.7 L122.2,362.6M213.2,555.0 L219.8,558.5 L224.5,564.3M213.2,555.0 L213.5,549.6 L214.4,544.3M237.0,525.8 L224.4,533.5 L214.4,544.3M181.4,532.9 L177.6,540.2 L174.1,547.6M181.4,532.9 L190.4,529.9 L199.9,529.6M204.2,559.2 L188.4,555.3 L174.1,547.6M213.2,555.0 L208.7,557.3 L204.2,559.2M214.4,544.3 L205.6,538.5 L199.9,529.6M198.5,501.6 L202.2,506.0 L207.0,509.1M198.5,501.6 L201.7,488.6 L206.7,476.2M206.7,476.2 L217.8,482.1 L229.5,486.6M229.5,486.6 L220.9,496.4 L217.4,508.9M207.0,509.1 L212.2,507.8 L217.4,508.9M181.4,532.9 L179.5,522.2 L173.8,513.0M199.9,529.6 L202.2,518.9 L207.0,509.1M178.4,501.2 L188.4,502.7 L198.5,501.6M202.3,466.6 L204.3,471.5 L206.7,476.2M234.3,485.1 L231.9,485.9 L229.5,486.6M237.0,525.8 L227.5,517.0 L217.4,508.9M259.3,135.0 L248.7,136.8 L238.3,134.1M259.3,135.0 L261.8,121.1 L269.7,109.3M265.0,101.3 L267.1,105.5 L269.7,109.3M265.0,101.3 L247.2,100.7 L230.8,107.8M238.3,134.1 L232.6,125.4 L228.0,116.0M228.0,116.0 L229.5,112.0 L230.8,107.8M271.4,155.9 L266.7,144.7 L259.3,135.0M229.2,149.7 L235.1,142.7 L238.3,134.1M296.6,116.8 L283.2,112.9 L269.7,109.3M266.3,86.6 L265.8,94.0 L265.0,101.3M220.6,85.7 L226.7,96.3 L230.8,107.8M204.2,124.3 L217.0,122.8 L228.0,116.0M274.8,245.0 L264.5,253.1 L252.4,258.1M276.0,245.0 L283.2,255.7 L291.3,265.8M252.3,258.5 L256.2,272.2 L264.6,283.8M291.3,265.8 L287.4,274.9 L282.6,283.5M264.6,283.8 L273.6,284.0 L282.6,283.5M253.9,216.1 L263.1,231.4 L274.8,245.0M293.4,227.9 L284.6,236.4 L276.0,245.0M232.0,231.8 L243.7,243.7 L252.4,258.1M315.0,264.9 L303.2,267.6 L291.3,265.8M233.4,270.4 L243.1,265.0 L252.3,258.5M255.8,294.3 L259.0,288.1 L264.6,283.8M294.6,307.0 L288.8,295.1 L282.6,283.5M449.1,422.6 L458.8,418.8 L466.3,411.6M490.2,441.3 L490.1,437.1 L490.1,432.8M466.3,411.6 L479.8,420.4 L490.1,432.8M537.6,421.4 L523.6,421.0 L510.1,416.9M490.1,432.8 L502.0,427.2 L510.1,416.9M446.3,270.4 L451.8,283.3 L458.3,295.7M490.0,284.9 L478.3,290.1 L468.9,298.8M458.3,295.7 L463.9,296.1 L468.9,298.8M458.3,295.7 L440.7,304.4 L424.7,315.7M418.6,352.7 L424.3,340.8 L430.0,328.9M424.7,315.7 L427.3,322.3 L430.0,328.9M538.8,386.3 L521.7,385.3 L505.7,379.2M510.1,416.9 L504.1,399.2 L504.7,380.6M466.3,411.6 L464.9,402.6 L466.7,393.7M504.7,380.6 L486.9,390.5 L466.7,393.7M437.6,379.1 L445.7,379.4 L453.8,379.0M453.8,379.0 L460.3,386.2 L466.7,393.7M332.9,646.7 L331.8,659.8 L325.7,671.4M332.9,646.7 L320.9,644.0 L308.7,645.5M308.7,645.5 L305.2,653.0 L299.7,659.3M299.7,659.3 L308.1,666.8 L312.4,677.2M312.4,677.2 L319.2,674.7 L325.7,671.4M337.7,643.5 L335.3,645.0 L332.9,646.7M341.1,682.3 L333.6,676.6 L325.7,671.4M300.4,631.0 L303.6,638.8 L308.7,645.5M277.5,660.8 L288.7,660.9 L299.7,659.3M333.6,707.4 L318.6,699.9 L308.5,686.7M308.5,686.7 L310.7,682.1 L312.4,677.2M306.2,720.6 L304.8,726.8 L302.0,732.5M306.2,720.6 L296.8,709.5 L292.9,695.4M296.0,736.8 L285.6,735.6 L275.3,734.5M296.0,736.8 L298.9,734.6 L302.0,732.5M275.3,734.5 L273.0,727.8 L268.6,722.2M268.6,722.2 L271.7,710.3 L279.3,700.5M279.3,700.5 L284.3,696.7 L290.5,695.1M290.5,695.1 L291.7,695.1 L292.9,695.4M334.4,745.4 L318.1,739.0 L302.0,732.5M332.6,710.2 L318.7,713.5 L306.2,720.6M308.5,686.7 L301.1,691.9 L292.9,695.4M301.3,761.8 L299.9,749.0 L296.0,736.8M269.2,745.6 L273.6,740.8 L275.3,734.5M247.7,717.7 L258.0,720.7 L268.6,722.2M256.0,685.4 L266.9,694.1 L279.3,700.5M277.5,660.8 L281.2,679.0 L290.5,695.1M81.8,355.4 L84.8,356.9 L88.1,357.8M81.8,355.4 L74.9,360.9 L66.7,363.9M88.1,357.8 L92.7,374.3 L99.5,390.0M66.7,363.9 L68.2,375.6 L71.9,386.7M71.9,386.7 L83.7,389.8 L95.7,391.9M95.7,391.9 L97.8,391.4 L99.5,390.0M78.4,331.6 L80.4,343.5 L81.8,355.4M106.2,352.4 L97.1,354.8 L88.1,357.8M50.7,361.7 L58.5,364.2 L66.7,363.9M101.7,390.3 L100.6,390.4 L99.5,390.0M58.7,400.1 L65.9,394.0 L71.9,386.7M83.2,415.0 L87.8,402.5 L95.7,391.9M147.4,558.9 L158.8,555.4 L167.9,547.7M147.4,558.9 L139.6,549.8 L130.2,542.2M167.9,547.7 L158.4,533.8 L144.4,524.4M130.2,542.2 L136.3,532.5 L144.4,524.4M116.0,571.5 L129.8,573.8 L143.2,578.1M126.8,543.0 L128.5,542.4 L130.2,542.2M143.2,578.1 L145.0,568.4 L147.4,558.9M144.7,520.5 L144.6,522.5 L144.4,524.4M173.1,548.2 L170.6,547.6 L167.9,547.7M125.8,606.4 L131.0,604.0 L136.2,601.5M136.2,601.5 L141.5,590.6 L143.5,578.6M147.8,627.9 L153.2,622.0 L155.8,614.5M136.2,601.5 L145.4,608.9 L155.8,614.5M515.6,350.0 L508.9,336.4 L508.8,321.3M515.6,350.0 L510.2,356.6 L505.2,363.5M505.2,363.5 L487.2,351.4 L466.8,343.9M508.8,321.3 L492.2,328.5 L474.1,328.9M474.1,328.9 L469.2,335.0 L466.4,342.3M538.8,349.2 L527.1,347.1 L515.6,350.0M512.2,314.6 L509.8,317.5 L508.8,321.3M505.7,379.2 L504.1,371.4 L505.2,363.5M453.8,379.0 L461.4,361.9 L466.8,343.9M468.9,298.8 L470.6,314.0 L474.1,328.9M430.0,328.9 L449.4,332.3 L466.4,342.3M176.1,619.5 L171.2,615.3 L165.7,611.9M176.1,619.5 L190.5,614.5 L203.1,606.1M165.7,611.9 L170.1,599.0 L169.3,585.4M192.5,584.3 L183.8,582.0 L174.9,581.9M192.5,584.3 L199.3,589.8 L204.3,596.9M174.9,581.9 L171.8,583.2 L169.3,585.4M204.3,596.9 L204.6,600.0 L204.8,603.0M203.1,606.1 L204.2,604.7 L204.8,603.0M179.7,640.7 L177.1,630.3 L176.1,619.5M155.8,614.5 L161.0,614.0 L165.7,611.9M208.2,634.1 L203.1,620.5 L203.1,606.1M143.5,578.6 L155.6,585.0 L169.3,585.4M204.2,559.2 L198.9,572.0 L192.5,584.3M173.1,548.2 L172.4,565.1 L174.9,581.9M226.3,580.7 L216.0,589.8 L204.3,596.9M233.8,613.3 L218.8,609.5 L204.8,603.0"/><path id="stb" d="M213.5,144.0 219.6,144.7 226.0,146.3 230.5,150.8 236.2,158.8 243.0,167.9 249.9,173.6 255.5,176.5M255.5,176.5 257.8,172.0 263.5,167.9 269.2,163.3 274.9,159.2 279.4,162.2 280.6,169.0 284.0,177.0 288.5,182.7 284.0,187.2 276.0,188.8 268.1,187.2 261.2,188.8 257.4,183.8 255.5,176.5M315.1,134.2 317.4,140.6 314.7,147.4 319.2,154.2 323.8,163.3 325.6,172.4 320.4,178.1 312.4,182.0 303.3,187.2 294.2,189.5 288.5,182.7M284.0,187.2 296.5,190.2 307.9,192.9 319.2,195.6 328.3,200.2 336.3,207.7 345.4,215.2 354.5,221.3 362.5,226.6M362.5,226.6 364.7,220.2 370.4,213.4 378.4,208.8 387.5,202.0 396.6,195.6 399.6,195.8 409.8,200.4 417.8,203.8 433.7,209.5 447.3,208.3 456.4,204.9 465.5,203.8 472.4,199.2 479.2,194.7 483.7,185.6 492.8,178.8 497.4,175.4 503.1,179.2 511.0,182.6 520.1,181.5 522.4,185.6 517.9,192.4 520.1,197.4 527.0,195.1 533.8,197.0M362.5,226.6 359.7,233.8 353.4,240.2 342.0,241.1 331.1,244.8 322.7,243.4 319.2,247.5 317.0,256.6 323.3,265.7 327.2,274.8 329.5,283.9 335.6,301.4 333.3,312.7 326.5,321.8 317.4,327.5 308.3,333.2 306.0,346.9 308.3,362.8 314.0,367.3M362.5,226.6 370.4,231.6 378.4,236.1 388.6,238.8 404.1,243.6 406.4,251.6 404.1,258.4 407.5,267.5 408.7,278.9 410.9,288.0 408.7,297.1 407.5,308.4 410.9,317.5 422.3,325.5 436.0,330.0 449.6,335.7 463.4,342.5 465.5,359.2M459.9,276.6 461.0,268.6 470.1,265.2 488.3,267.5 494.0,274.3 497.4,281.1 494.0,288.0 483.7,286.8 472.4,284.5 463.3,286.8 459.9,283.4 459.9,276.6M183.9,183.3 182.1,192.9 180.5,202.0 182.1,209.3 191.8,215.6 200.9,217.9 208.9,220.6 208.2,227.0 199.1,229.7 190.7,225.2 182.1,209.3M314.0,367.3 324.2,368.5 328.8,378.7 331.0,387.8 344.7,390.1 353.8,392.4 359.5,401.5 358.3,408.3 362.9,417.4 369.7,421.9 378.8,424.2 390.2,426.5 403.8,428.8 410.7,426.5M410.7,426.5 409.5,417.4 406.1,403.7 405.0,390.1 406.1,381.0 408.4,374.2 417.5,369.6 434.2,361.3 448.8,359.2 461.3,363.4 465.5,359.2M465.5,359.2 469.7,371.7 471.8,384.2 480.1,386.3 492.6,388.4 505.1,386.3 513.5,388.4 521.8,380.0 526.0,371.7 538.5,367.5 551.0,365.5 561.4,363.4 564.5,361.3M411.3,418.6 416.5,421.8 428.0,425.9 435.3,433.2 430.0,437.4 418.6,442.6 414.4,446.8 413.4,453.0 418.6,460.3 411.3,463.5 400.9,468.7 392.5,471.8 388.3,476.0 390.4,482.2 395.6,489.5 401.9,494.7 405.0,498.9 411.3,503.1M276.4,474.3 285.5,478.8 292.4,485.6 299.2,492.5 306.0,499.3 312.8,508.4 317.4,503.8 317.4,494.7 326.5,491.3 337.9,492.5 347.0,499.3 349.2,490.2 353.8,481.1 360.6,478.8 365.2,485.6 372.0,492.5 383.4,487.9 392.5,485.6 401.6,492.5 411.3,503.2M262.8,390.1 267.3,396.9 274.2,403.7 281.0,410.6 283.3,417.4 281.0,424.2 285.5,428.8 281.0,435.6 271.9,433.3 268.5,444.7 266.2,453.8 265.1,465.2 274.2,469.7 276.4,474.3M262.8,390.1 268.5,394.6 276.4,387.8 287.8,383.3 296.9,375.3 306.0,368.5 314.0,367.3M94.1,303.8 105.5,301.5 116.9,294.7 124.8,283.3 130.5,287.9 139.6,292.4 146.4,297.0 147.6,303.8 144.2,310.6 147.6,316.3 143.0,322.0 151.0,325.4 160.1,322.0 169.2,318.6 176.0,315.2 178.3,308.3 176.0,299.2 171.5,290.1 168.1,285.6 178.3,281.0 187.4,277.6 191.9,282.2 193.1,289.0 201.0,291.3 210.1,287.9 215.8,282.2 218.1,287.9 212.4,297.0 209.0,303.8 210.1,312.9 219.2,322.0 223.8,333.4 235.2,344.7 234.0,356.1 232.9,364.1 238.9,366.2 246.9,368.5 245.7,381.0 244.6,390.1 251.4,395.8 258.2,393.5 262.8,390.1M132.8,435.5 138.0,441.7 142.2,448.0 146.4,454.2 150.5,456.3 153.6,452.1 156.8,448.0 163.0,443.8 169.3,439.6 173.5,435.5 176.6,429.2 177.6,420.9 183.9,418.8 190.1,416.7 192.2,410.4 189.1,404.2 183.9,403.1 181.8,400.0 182.8,397.1 187.4,390.2 198.8,381.1 201.0,376.6 210.1,378.9 219.2,385.7 228.3,374.3 232.9,364.1M40.0,487.6 48.3,485.5 58.8,483.4 65.0,481.3 64.0,477.2 71.3,475.1 75.5,470.9 81.7,468.8 90.0,465.7 96.3,462.6 104.6,460.5 110.9,458.4 117.2,454.2 123.4,450.0 127.6,444.8 130.7,438.6 132.8,435.5M150.5,456.3 152.6,462.6 150.5,470.9 146.4,477.2 144.3,483.4 145.3,491.8 140.1,500.1 133.8,506.4 129.7,513.6 128.6,522.0 132.8,527.6 140.1,529.7 148.4,528.2 155.7,528.9 159.9,534.5 163.0,543.9 165.1,554.3 168.2,564.7 170.3,575.2 172.4,585.6 171.4,593.9 169.7,600.2 167.2,608.5 163.0,616.9 159.9,623.1 156.8,628.3 153.6,631.5M169.7,600.2 175.5,587.7 183.9,584.5 192.2,583.5 198.5,577.3 206.8,578.3 213.1,573.1 215.2,564.7 214.7,554.3 212.0,546.0 208.9,535.5 206.8,525.1 210.0,519.9M40.0,570.0 50.4,568.5 60.9,565.8 71.3,563.7 81.7,564.7 91.1,567.9 95.9,575.2 96.7,583.5 100.5,591.8 102.6,600.2 100.5,606.4M278.5,585.5 279.6,599.1 281.9,608.2 286.4,617.3 291.0,626.4 297.8,631.0 300.1,640.1 299.0,651.5 295.5,656.0 288.7,660.6 291.0,667.4 286.4,676.5 277.3,681.0 270.5,685.6 275.1,699.2 278.5,712.9 279.6,722.0 278.5,733.4 276.2,744.7 277.3,753.8 278.5,759.5 268.2,761.8 259.1,764.1 252.3,769.8 246.6,770.9M276.4,474.3 267.3,478.8 258.2,487.9 253.7,494.7 249.1,506.1 240.0,508.4 233.2,517.5 224.1,519.8 212.7,520.9 210.0,519.9M213.0,573.0 220.5,562.7 227.3,552.5 234.1,559.3 247.8,555.9 253.5,562.7 260.3,568.4 262.6,579.8 272.8,582.1 278.5,585.5"/></defs>
<g transform="translate(0,0)">
<path d="M191.8,42.7 194.1,50.7 199.8,58.7 205.5,68.9 208.9,76.9 213.5,83.7 211.2,88.2 204.4,91.7 194.1,93.3 189.1,98.5 189.6,103.0 197.5,103.7 205.5,105.3 208.9,109.9 204.4,117.8 203.2,123.5 208.9,128.1 212.3,133.7 211.2,140.6 213.5,144.0 199.8,144.7 191.8,144.0 187.3,147.4 183.9,156.5 182.7,165.6 183.9,171.3 188.4,172.0 190.7,177.0 189.6,182.7 183.9,183.3 181.6,177.0 177.1,171.3 172.5,170.1 168.0,174.7 169.1,183.8 171.4,189.5 166.8,195.2 162.3,192.9 160.1,188.2 156.7,183.2 155.5,174.1 154.4,168.4 153.3,162.7 151.0,159.3 135.1,160.0 119.1,161.6 108.9,163.9 102.1,169.6 96.4,180.9 94.1,193.5 100.9,195.7 108.9,198.0 105.5,206.0 102.1,212.8 103.2,217.3 102.1,221.9 100.9,231.0 97.5,242.4 94.1,253.7 94.1,264.0 87.3,264.7 82.7,262.8 73.6,265.1 70.9,270.8 71.4,276.5 77.1,281.0 85.0,282.2 90.7,285.6 89.6,294.7 91.8,302.7 89.6,306.1 80.5,315.2 71.4,319.7 69.1,326.5 63.7,333.6 51.6,341.2 36.4,336.7 22.7,341.2 24.0,351.3 29.2,358.6 34.4,368.0 37.1,380.5 37.5,387.8 30.2,396.1 26.1,402.4 20.9,411.8 12.5,419.1 13.6,423.2 20.9,424.3 29.2,428.4 33.4,430.5 29.2,433.6 25.0,436.8 26.1,440.9 19.8,444.1 21.9,449.3 27.1,453.5 31.3,459.7 29.2,466.0 31.3,472.2 39.6,474.3 41.7,478.5 44.8,484.7 50.0,488.9 46.9,493.1 40.7,493.1 34.4,495.2 28.2,501.4 24.0,511.8 24.0,520.2 29.1,531.4 38.2,541.6 45.0,542.7 43.9,549.6 40.5,556.4 37.1,565.5 35.9,572.3 38.2,579.1 42.7,586.0 49.6,595.1 57.5,604.2 63.2,607.6 72.3,605.3 78.0,611.0 86.0,612.1 95.1,611.0 99.6,606.4 104.2,611.0 111.0,616.7 120.1,620.1 129.2,621.2 138.3,622.4 146.3,626.9 153.1,631.5 149.7,640.6 144.0,649.7 137.2,657.6 131.5,665.6 126.9,674.7 123.5,683.8 120.1,695.2 115.5,704.3 111.0,713.4 109.9,722.5 108.7,731.6 107.6,740.7 105.3,749.8 105.3,758.9 108.7,765.7 114.4,771.4 120.1,770.2 124.6,766.8 130.3,770.2 147.4,769.6 165.6,767.5 171.3,765.2 176.5,763.9 175.1,759.3 169.0,758.4 167.9,753.2 172.0,749.8 178.8,748.2 182.0,752.0 188.3,756.6 199.7,759.3 213.4,761.1 224.7,762.3 236.1,765.7 244.1,770.2 249.8,772.5 254.6,767.5 261.4,764.1 268.2,765.2 272.8,773.2 269.4,777.7 277.3,784.5 278.5,790.2 284.2,792.5 283.0,799.3 288.7,798.2 295.5,792.5 300.1,786.8 301.2,778.9 302.4,772.0 309.2,773.2 318.3,774.3 329.7,772.0 330.8,777.7 336.5,782.3 337.6,788.0 347.9,785.7 357.0,786.8 363.8,781.1 359.2,774.3 357.0,767.5 363.8,768.6 372.9,765.2 382.0,764.1 393.4,765.2 404.7,764.1 413.8,762.9 415.5,764.1 417.8,758.4 424.6,755.0 430.3,756.1 438.2,760.7 447.3,757.3 454.2,758.4 459.9,762.9 458.7,768.6 465.5,773.2 471.2,776.6 474.6,772.0 478.1,764.1 476.9,756.1 471.2,752.7 463.3,749.3 467.8,744.7 470.1,737.9 463.3,728.8 456.4,722.0 455.3,715.2 461.0,708.3 470.1,701.5 479.2,697.0 486.0,692.4 494.0,685.6 499.7,676.5 500.8,668.5 504.2,664.0 511.0,666.3 517.9,670.8 521.3,662.8 520.1,653.7 521.3,646.9 517.9,640.1 511.0,633.3 504.2,626.4 495.1,627.6 490.6,619.6 483.7,612.8 476.9,608.2 470.1,601.4 463.3,593.5 454.2,590.0 445.1,583.2 438.2,574.1 436.0,562.7 431.4,549.1 428.0,540.0 433.2,536.4 429.0,530.2 421.7,523.9 414.4,517.7 412.3,507.3 417.5,509.3 419.6,503.1 424.8,494.7 430.0,488.5 438.4,486.4 448.8,483.3 457.2,485.4 463.4,479.1 471.8,473.9 478.0,467.6 484.3,463.5 492.6,460.3 496.8,455.1 505.1,452.0 513.5,448.9 517.6,443.6 526.0,439.5 530.1,434.3 534.3,428.0 538.5,421.8 542.7,418.6 551.0,419.7 557.3,423.8 561.4,430.1 564.5,435.3 570.8,437.4 573.9,432.2 578.1,419.7 581.2,405.1 583.3,392.6 580.2,382.1 576.0,372.7 567.7,367.5 564.5,361.3 562.5,350.9 559.3,342.5 556.2,330.0 558.8,326.6 561.1,317.5 558.8,308.4 555.4,297.1 549.7,290.2 547.4,283.4 550.9,274.3 549.7,265.2 542.9,256.1 533.8,247.0 522.4,240.2 517.9,235.6 520.1,228.8 527.0,224.3 532.7,217.4 534.9,206.1 533.8,197.0 527.0,194.7 531.5,190.1 530.4,181.0 527.0,167.4 522.4,156.0 520.1,151.5 499.7,149.2 496.3,140.1 499.7,141.2 506.5,137.8 515.6,136.7 517.9,133.3 508.8,126.4 499.7,119.6 490.6,110.5 486.0,109.4 476.9,112.8 471.2,115.1 467.8,110.5 461.0,106.0 454.2,101.4 449.6,96.9 447.3,91.2 442.8,86.6 429.1,86.6 415.5,84.4 413.2,92.3 409.8,101.4 404.1,106.0 400.7,104.8 397.3,108.2 392.7,115.1 390.5,119.6 383.6,116.2 373.8,116.7 365.9,119.0 360.2,124.6 355.6,131.5 353.4,136.0 346.5,134.9 337.4,132.6 328.3,131.5 323.8,134.9 319.2,138.3 314.7,133.7 317.0,124.6 321.5,120.1 328.3,113.3 332.9,105.3 334.0,98.5 330.6,95.1 323.8,97.3 317.0,101.9 312.0,106.4 310.6,98.5 305.6,93.9 298.8,91.0 289.7,89.4 282.8,92.8 281.7,88.2 278.3,86.0 271.5,86.0 262.4,87.1 260.1,84.8 262.4,79.1 266.9,73.5 271.0,68.9 271.5,62.1 268.7,56.4 262.4,53.0 255.5,50.7 249.9,48.4 247.6,44.6 240.8,48.4 235.1,49.6 228.2,47.3 216.9,45.5 207.8,43.9 197.5,41.6Z" fill="#86b1d0" stroke="#f4f1ee" stroke-width="1.5" stroke-linejoin="round"/>
<g clip-path="url(#ger)">
<path d="M227.2,276.5 242.0,266.3 250.0,267.4 253.4,271.9 265.9,274.2 276.1,277.6 287.5,276.5 300.0,274.2 300.0,340.0 242.0,340.0 232.9,333.4 219.2,337.9 217.0,340.0 189.7,340.0 190.8,326.5 198.8,319.7 207.9,319.7 219.2,312.9 235.2,309.5 236.3,299.2 228.3,287.9Z" fill="#c8dcea" stroke="#c8dcea" stroke-width="0.6"/>
<path d="M227.2,276.5L242.0,266.3L250.0,267.4L253.4,271.9L265.9,274.2L276.1,277.6L287.5,276.5L300.0,274.2M242.0,340.0L232.9,333.4L219.2,337.9L217.0,340.0M189.7,340.0L190.8,326.5L198.8,319.7L207.9,319.7L219.2,312.9L235.2,309.5L236.3,299.2L228.3,287.9L227.2,276.5" fill="none" stroke="#fff" stroke-opacity="0.5" stroke-width="0.8" stroke-linejoin="round"/>
<path d="M287.5,219.6 300.0,215.1 300.0,249.2 294.3,251.5 285.2,237.8 284.1,226.4Z" fill="#c8dcea" stroke="#c8dcea" stroke-width="0.6"/>
<path d="M287.5,219.6L300.0,215.1M300.0,249.2L294.3,251.5L285.2,237.8L284.1,226.4L287.5,219.6" fill="none" stroke="#fff" stroke-opacity="0.5" stroke-width="0.8" stroke-linejoin="round"/>
<path d="M299.9,115.5 305.6,109.9 311.3,107.6 317.0,101.9 323.8,97.3 330.6,95.1 334.0,98.5 332.9,105.3 328.3,113.3 321.5,120.1 317.0,124.6 314.7,133.7 312.4,140.6 305.6,142.8 302.2,136.0 302.2,129.2 298.8,122.4Z" fill="#c8dcea" stroke="#c8dcea" stroke-width="0.6"/>
<path d="M299.9,115.5L305.6,109.9L311.3,107.6L317.0,101.9L323.8,97.3L330.6,95.1L334.0,98.5L332.9,105.3L328.3,113.3L321.5,120.1L317.0,124.6L314.7,133.7L312.4,140.6L305.6,142.8L302.2,136.0L302.2,129.2L298.8,122.4L299.9,115.5" fill="none" stroke="#fff" stroke-opacity="0.5" stroke-width="0.8" stroke-linejoin="round"/>
<path d="M284.0,224.7 291.9,217.9 301.0,212.2 307.9,215.6 317.0,222.5 322.7,229.3 323.8,238.4 319.2,247.5 312.4,252.0 303.3,249.8 294.2,247.5 287.4,240.7 284.0,233.8Z" fill="#c8dcea" stroke="#c8dcea" stroke-width="0.6"/>
<path d="M284.0,224.7L291.9,217.9L301.0,212.2L307.9,215.6L317.0,222.5L322.7,229.3L323.8,238.4L319.2,247.5L312.4,252.0L303.3,249.8L294.2,247.5L287.4,240.7L284.0,233.8L284.0,224.7" fill="none" stroke="#fff" stroke-opacity="0.5" stroke-width="0.8" stroke-linejoin="round"/>
<path d="M224.8,277.1 235.1,270.2 246.4,266.8 253.3,270.2 266.9,272.5 278.3,274.8 289.7,273.6 294.2,261.1 296.5,249.8 303.3,249.8 312.4,252.0 319.2,247.5 323.8,256.6 327.2,270.2 329.5,281.6 339.7,286.2 353.4,288.4 364.7,286.2 373.8,293.0 378.4,304.4 373.8,320.1 212.3,320.1 216.9,311.2 226.0,304.4 228.2,293.0 224.8,283.9Z" fill="#c8dcea" stroke="#c8dcea" stroke-width="0.6"/>
<path d="M224.8,277.1L235.1,270.2L246.4,266.8L253.3,270.2L266.9,272.5L278.3,274.8L289.7,273.6L294.2,261.1L296.5,249.8L303.3,249.8L312.4,252.0L319.2,247.5L323.8,256.6L327.2,270.2L329.5,281.6L339.7,286.2L353.4,288.4L364.7,286.2L373.8,293.0L378.4,304.4L373.8,320.1M212.3,320.1L216.9,311.2L226.0,304.4L228.2,293.0L224.8,283.9L224.8,277.1" fill="none" stroke="#fff" stroke-opacity="0.5" stroke-width="0.8" stroke-linejoin="round"/>
<path d="M465.5,203.8 472.4,199.2 479.2,194.7 483.7,185.6 492.8,178.8 497.4,175.4 503.1,179.2 511.0,182.6 520.1,181.5 522.4,185.6 517.9,192.4 520.1,197.4 527.0,195.1 533.8,197.0 534.9,206.1 532.7,217.4 527.0,224.3 520.1,228.8 511.0,230.0 504.2,226.5 499.7,222.0 492.8,225.4 483.7,228.8 476.9,224.3 472.4,215.2 467.8,210.6Z" fill="#c8dcea" stroke="#c8dcea" stroke-width="0.6"/>
<path d="M465.5,203.8L472.4,199.2L479.2,194.7L483.7,185.6L492.8,178.8L497.4,175.4L503.1,179.2L511.0,182.6L520.1,181.5L522.4,185.6L517.9,192.4L520.1,197.4L527.0,195.1L533.8,197.0L534.9,206.1L532.7,217.4L527.0,224.3L520.1,228.8L511.0,230.0L504.2,226.5L499.7,222.0L492.8,225.4L483.7,228.8L476.9,224.3L472.4,215.2L467.8,210.6L465.5,203.8" fill="none" stroke="#fff" stroke-opacity="0.5" stroke-width="0.8" stroke-linejoin="round"/>
<path d="M497.4,253.8 506.5,247.0 517.9,241.3 522.4,240.2 533.8,247.0 542.9,256.1 549.7,265.2 550.9,274.3 547.4,283.4 538.3,284.5 533.8,281.1 527.0,276.6 517.9,278.9 506.5,281.1 497.4,278.9 494.0,274.3 492.8,267.5 496.3,260.7Z" fill="#c8dcea" stroke="#c8dcea" stroke-width="0.6"/>
<path d="M497.4,253.8L506.5,247.0L517.9,241.3L522.4,240.2L533.8,247.0L542.9,256.1L549.7,265.2L550.9,274.3L547.4,283.4L538.3,284.5L533.8,281.1L527.0,276.6L517.9,278.9L506.5,281.1L497.4,278.9L494.0,274.3L492.8,267.5L496.3,260.7L497.4,253.8" fill="none" stroke="#fff" stroke-opacity="0.5" stroke-width="0.8" stroke-linejoin="round"/>
<path d="M459.9,276.6 461.0,268.6 470.1,265.2 488.3,267.5 494.0,274.3 497.4,281.1 494.0,288.0 483.7,286.8 472.4,284.5 463.3,286.8 459.9,283.4Z" fill="#c8dcea" stroke="#c8dcea" stroke-width="0.6"/>
<path d="M459.9,276.6L461.0,268.6L470.1,265.2L488.3,267.5L494.0,274.3L497.4,281.1L494.0,288.0L483.7,286.8L472.4,284.5L463.3,286.8L459.9,283.4L459.9,276.6" fill="none" stroke="#fff" stroke-opacity="0.5" stroke-width="0.8" stroke-linejoin="round"/>
<path d="M414.4,284.5 432.6,282.3 433.7,290.2 426.9,297.1 416.6,295.9Z" fill="#c8dcea" stroke="#c8dcea" stroke-width="0.6"/>
<path d="M414.4,284.5L432.6,282.3L433.7,290.2L426.9,297.1L416.6,295.9L414.4,284.5" fill="none" stroke="#fff" stroke-opacity="0.5" stroke-width="0.8" stroke-linejoin="round"/>
<path d="M33.4,430.5 37.5,426.4 50.0,422.2 62.6,422.2 73.0,420.1 87.6,424.3 91.8,436.8 89.7,443.0 83.4,445.1 75.1,447.2 70.9,453.5 62.6,453.5 56.3,457.6 50.0,463.9 42.7,463.9 36.5,461.8 38.6,453.5 39.6,445.1 37.5,436.8Z" fill="#c8dcea" stroke="#c8dcea" stroke-width="0.6"/>
<path d="M33.4,430.5L37.5,426.4L50.0,422.2L62.6,422.2L73.0,420.1L87.6,424.3L91.8,436.8L89.7,443.0L83.4,445.1L75.1,447.2L70.9,453.5L62.6,453.5L56.3,457.6L50.0,463.9L42.7,463.9L36.5,461.8L38.6,453.5L39.6,445.1L37.5,436.8L33.4,430.5" fill="none" stroke="#fff" stroke-opacity="0.5" stroke-width="0.8" stroke-linejoin="round"/>
<path d="M62.6,376.3 68.8,372.1 73.0,369.0 79.2,372.1 85.5,375.3 91.8,378.4 92.8,386.7 91.8,393.0 95.9,399.2 91.8,403.4 87.6,407.6 79.2,405.5 70.9,403.4 62.6,399.2 58.4,397.2 53.2,390.9 52.1,384.6 60.5,384.6Z" fill="#c8dcea" stroke="#c8dcea" stroke-width="0.6"/>
<path d="M62.6,376.3L68.8,372.1L73.0,369.0L79.2,372.1L85.5,375.3L91.8,378.4L92.8,386.7L91.8,393.0L95.9,399.2L91.8,403.4L87.6,407.6L79.2,405.5L70.9,403.4L62.6,399.2L58.4,397.2L53.2,390.9L52.1,384.6L60.5,384.6L62.6,376.3" fill="none" stroke="#fff" stroke-opacity="0.5" stroke-width="0.8" stroke-linejoin="round"/>
<path d="M83.4,450.3 90.7,449.3 92.8,457.6 89.7,463.9 83.4,461.8Z" fill="#c8dcea" stroke="#c8dcea" stroke-width="0.6"/>
<path d="M83.4,450.3L90.7,449.3L92.8,457.6L89.7,463.9L83.4,461.8L83.4,450.3" fill="none" stroke="#fff" stroke-opacity="0.5" stroke-width="0.8" stroke-linejoin="round"/>
<path d="M80.3,488.9 89.7,484.7 100.1,482.7 108.4,480.6 116.8,484.7 120.9,493.1 116.8,499.3 108.4,501.4 102.2,507.7 93.8,505.6 83.4,501.4 77.2,495.2Z" fill="#c8dcea" stroke="#c8dcea" stroke-width="0.6"/>
<path d="M80.3,488.9L89.7,484.7L100.1,482.7L108.4,480.6L116.8,484.7L120.9,493.1L116.8,499.3L108.4,501.4L102.2,507.7L93.8,505.6L83.4,501.4L77.2,495.2L80.3,488.9" fill="none" stroke="#fff" stroke-opacity="0.5" stroke-width="0.8" stroke-linejoin="round"/>
<path d="M105.3,541.0 112.6,532.7 120.9,528.5 127.2,520.2 133.5,513.9 137.6,505.6 146.0,501.4 154.3,499.3 164.7,503.5 173.1,511.8 179.3,520.2 177.3,530.6 173.1,536.9 173.1,545.2 171.0,553.6 164.7,557.7 162.7,566.1 160.6,578.6 166.8,589.0 164.7,600.1 116.8,600.1 118.9,591.1 123.0,580.7 120.9,570.2 112.6,561.9 108.4,553.6 104.3,547.3Z" fill="#c8dcea" stroke="#c8dcea" stroke-width="0.6"/>
<path d="M105.3,541.0L112.6,532.7L120.9,528.5L127.2,520.2L133.5,513.9L137.6,505.6L146.0,501.4L154.3,499.3L164.7,503.5L173.1,511.8L179.3,520.2L177.3,530.6L173.1,536.9L173.1,545.2L171.0,553.6L164.7,557.7L162.7,566.1L160.6,578.6L166.8,589.0L164.7,600.1M116.8,600.1L118.9,591.1L123.0,580.7L120.9,570.2L112.6,561.9L108.4,553.6L104.3,547.3L105.3,541.0" fill="none" stroke="#fff" stroke-opacity="0.5" stroke-width="0.8" stroke-linejoin="round"/>
<path d="M235.5,290.0 220.7,301.4 219.6,312.7 221.8,328.7 230.9,337.8 242.3,328.7 251.4,335.5 267.3,338.9 276.4,338.9 281.0,350.3 290.1,351.4 299.2,356.0 308.3,362.8 309.4,368.5 301.5,373.0 292.4,368.5 281.0,367.3 269.6,368.5 256.0,369.6 246.9,371.9 244.6,383.3 246.9,392.4 256.0,396.9 262.8,390.1 268.5,394.6 276.4,387.8 287.8,383.3 296.9,375.3 302.6,379.9 300.3,390.1 294.6,399.2 285.5,406.0 283.3,410.6 290.1,417.4 299.2,421.9 308.3,426.5 317.4,424.2 326.5,421.9 331.0,426.5 337.9,435.6 344.7,447.0 353.8,449.2 362.9,447.0 369.7,437.9 376.5,428.8 383.4,424.2 390.2,426.5 399.3,431.0 408.4,433.3 411.8,426.5 409.5,417.4 406.1,403.7 405.0,390.1 406.1,381.0 408.4,374.2 417.5,369.6 430.0,365.1 430.0,356.0 422.0,358.2 415.2,353.7 411.8,344.6 412.9,335.5 417.5,326.4 415.2,319.6 408.4,312.7 406.1,310.5 394.7,321.8 387.9,327.5 378.8,321.8 375.4,312.7 372.0,308.2 367.4,290.0Z" fill="#c8dcea" stroke="#c8dcea" stroke-width="0.6"/>
<path d="M235.5,290.0L220.7,301.4L219.6,312.7L221.8,328.7L230.9,337.8L242.3,328.7L251.4,335.5L267.3,338.9L276.4,338.9L281.0,350.3L290.1,351.4L299.2,356.0L308.3,362.8L309.4,368.5L301.5,373.0L292.4,368.5L281.0,367.3L269.6,368.5L256.0,369.6L246.9,371.9L244.6,383.3L246.9,392.4L256.0,396.9L262.8,390.1L268.5,394.6L276.4,387.8L287.8,383.3L296.9,375.3L302.6,379.9L300.3,390.1L294.6,399.2L285.5,406.0L283.3,410.6L290.1,417.4L299.2,421.9L308.3,426.5L317.4,424.2L326.5,421.9L331.0,426.5L337.9,435.6L344.7,447.0L353.8,449.2L362.9,447.0L369.7,437.9L376.5,428.8L383.4,424.2L390.2,426.5L399.3,431.0L408.4,433.3L411.8,426.5L409.5,417.4L406.1,403.7L405.0,390.1L406.1,381.0L408.4,374.2L417.5,369.6L430.0,365.1M430.0,356.0L422.0,358.2L415.2,353.7L411.8,344.6L412.9,335.5L417.5,326.4L415.2,319.6L408.4,312.7L406.1,310.5L394.7,321.8L387.9,327.5L378.8,321.8L375.4,312.7L372.0,308.2L367.4,290.0" fill="none" stroke="#fff" stroke-opacity="0.5" stroke-width="0.8" stroke-linejoin="round"/>
<path d="M266.2,487.9 274.2,478.8 281.0,474.3 290.1,481.1 296.9,490.2 306.0,497.0 310.6,506.1 303.7,508.4 292.4,503.8 281.0,501.6 271.9,499.3 267.3,494.7Z" fill="#c8dcea" stroke="#c8dcea" stroke-width="0.6"/>
<path d="M266.2,487.9L274.2,478.8L281.0,474.3L290.1,481.1L296.9,490.2L306.0,497.0L310.6,506.1L303.7,508.4L292.4,503.8L281.0,501.6L271.9,499.3L267.3,494.7L266.2,487.9" fill="none" stroke="#fff" stroke-opacity="0.5" stroke-width="0.8" stroke-linejoin="round"/>
<path d="M233.2,519.8 240.0,508.4 249.1,506.1 253.7,515.2 260.5,524.3 269.6,528.9 273.0,535.7 267.3,540.2 258.2,542.5 246.9,549.3 237.8,547.1 233.2,535.7Z" fill="#c8dcea" stroke="#c8dcea" stroke-width="0.6"/>
<path d="M233.2,519.8L240.0,508.4L249.1,506.1L253.7,515.2L260.5,524.3L269.6,528.9L273.0,535.7L267.3,540.2L258.2,542.5L246.9,549.3L237.8,547.1L233.2,535.7L233.2,519.8" fill="none" stroke="#fff" stroke-opacity="0.5" stroke-width="0.8" stroke-linejoin="round"/>
<path d="M380.0,330.0 402.9,330.0 401.9,350.9 411.3,355.0 425.9,361.3 421.7,365.5 407.1,373.8 406.1,388.4 409.2,409.2 411.3,417.6 409.2,428.0 396.7,432.2 380.0,425.9Z" fill="#c8dcea" stroke="#c8dcea" stroke-width="0.6"/>
<path d="M402.9,330.0L401.9,350.9L411.3,355.0L425.9,361.3L421.7,365.5L407.1,373.8L406.1,388.4L409.2,409.2L411.3,417.6L409.2,428.0L396.7,432.2L380.0,425.9" fill="none" stroke="#fff" stroke-opacity="0.5" stroke-width="0.8" stroke-linejoin="round"/>
<path d="M410.9,387.3 423.8,385.3 424.8,396.7 419.6,401.9 411.3,403.0Z" fill="#c8dcea" stroke="#c8dcea" stroke-width="0.6"/>
<path d="M410.9,387.3L423.8,385.3L424.8,396.7L419.6,401.9L411.3,403.0L410.9,387.3" fill="none" stroke="#fff" stroke-opacity="0.5" stroke-width="0.8" stroke-linejoin="round"/>
<path d="M106.4,542.7 115.5,535.9 122.4,529.1 129.2,520.0 183.8,520.0 179.2,529.1 177.0,540.5 179.2,549.6 170.1,554.1 165.6,559.8 167.9,567.8 174.7,574.6 172.4,586.0 170.1,597.3 179.2,601.9 188.3,606.4 195.2,611.0 199.7,620.1 197.4,626.9 188.3,625.8 179.2,629.2 174.7,638.3 171.3,647.4 165.6,656.5 156.5,665.6 151.9,667.9 144.0,658.8 138.3,656.5 144.0,649.7 149.7,640.6 153.1,631.5 146.3,626.9 138.3,622.4 133.7,615.5 132.6,606.4 129.2,597.3 122.4,588.2 120.1,576.9 115.5,570.0 108.7,563.2 106.4,554.1Z" fill="#c8dcea" stroke="#c8dcea" stroke-width="0.6"/>
<path d="M106.4,542.7L115.5,535.9L122.4,529.1L129.2,520.0M183.8,520.0L179.2,529.1L177.0,540.5L179.2,549.6L170.1,554.1L165.6,559.8L167.9,567.8L174.7,574.6L172.4,586.0L170.1,597.3L179.2,601.9L188.3,606.4L195.2,611.0L199.7,620.1L197.4,626.9L188.3,625.8L179.2,629.2L174.7,638.3L171.3,647.4L165.6,656.5L156.5,665.6L151.9,667.9L144.0,658.8L138.3,656.5L144.0,649.7L149.7,640.6L153.1,631.5L146.3,626.9L138.3,622.4L133.7,615.5L132.6,606.4L129.2,597.3L122.4,588.2L120.1,576.9L115.5,570.0L108.7,563.2L106.4,554.1L106.4,542.7" fill="none" stroke="#fff" stroke-opacity="0.5" stroke-width="0.8" stroke-linejoin="round"/>
<path d="M197.4,611.0 202.0,604.2 208.8,599.6 217.9,597.3 225.9,592.8 233.8,597.3 238.4,606.4 233.8,615.5 224.7,620.1 217.9,624.6 206.5,624.6 199.7,620.1Z" fill="#c8dcea" stroke="#c8dcea" stroke-width="0.6"/>
<path d="M197.4,611.0L202.0,604.2L208.8,599.6L217.9,597.3L225.9,592.8L233.8,597.3L238.4,606.4L233.8,615.5L224.7,620.1L217.9,624.6L206.5,624.6L199.7,620.1L197.4,611.0" fill="none" stroke="#fff" stroke-opacity="0.5" stroke-width="0.8" stroke-linejoin="round"/>
<path d="M235.0,520.0 260.0,520.0 260.0,533.6 247.5,542.7 238.4,538.2 235.0,529.1Z" fill="#c8dcea" stroke="#c8dcea" stroke-width="0.6"/>
<path d="M260.0,533.6L247.5,542.7L238.4,538.2L235.0,529.1L235.0,520.0" fill="none" stroke="#fff" stroke-opacity="0.5" stroke-width="0.8" stroke-linejoin="round"/>
<path d="M114.4,721.3 122.4,720.2 131.5,724.7 130.3,732.7 120.1,733.8 115.5,729.3Z" fill="#c8dcea" stroke="#c8dcea" stroke-width="0.6"/>
<path d="M114.4,721.3L122.4,720.2L131.5,724.7L130.3,732.7L120.1,733.8L115.5,729.3L114.4,721.3" fill="none" stroke="#fff" stroke-opacity="0.5" stroke-width="0.8" stroke-linejoin="round"/>
<path d="M200.0,608.2 213.6,601.4 225.0,592.3 234.1,596.9 236.4,606.0 234.1,617.3 227.3,624.2 213.6,626.4 200.0,626.4Z" fill="#c8dcea" stroke="#c8dcea" stroke-width="0.6"/>
<path d="M200.0,608.2L213.6,601.4L225.0,592.3L234.1,596.9L236.4,606.0L234.1,617.3L227.3,624.2L213.6,626.4L200.0,626.4" fill="none" stroke="#fff" stroke-opacity="0.5" stroke-width="0.8" stroke-linejoin="round"/>
<path d="M234.1,540.0 252.3,540.0 251.2,551.4 238.7,553.6Z" fill="#c8dcea" stroke="#c8dcea" stroke-width="0.6"/>
<path d="M252.3,540.0L251.2,551.4L238.7,553.6L234.1,540.0" fill="none" stroke="#fff" stroke-opacity="0.5" stroke-width="0.8" stroke-linejoin="round"/>
<path d="M256.8,186.6 278.4,188.9 285.2,196.9 284.1,208.2 276.1,216.2 267.0,212.8 260.2,209.4 252.2,210.5 247.7,206.0 245.4,198.0 248.8,191.2Z" fill="#4192b6" stroke="#4192b6" stroke-width="0.6"/>
<path d="M256.8,186.6L278.4,188.9L285.2,196.9L284.1,208.2L276.1,216.2L267.0,212.8L260.2,209.4L252.2,210.5L247.7,206.0L245.4,198.0L248.8,191.2L256.8,186.6" fill="none" stroke="#fff" stroke-opacity="0.5" stroke-width="0.8" stroke-linejoin="round"/>
<path d="M209.0,216.2 214.7,217.3 219.2,216.2 222.7,217.3 226.1,226.4 229.5,231.0 235.2,231.0 239.7,237.8 236.3,244.6 230.6,249.2 223.8,246.9 219.2,237.8 217.0,231.0 210.1,228.7Z" fill="#4192b6" stroke="#4192b6" stroke-width="0.6"/>
<path d="M209.0,216.2L214.7,217.3L219.2,216.2L222.7,217.3L226.1,226.4L229.5,231.0L235.2,231.0L239.7,237.8L236.3,244.6L230.6,249.2L223.8,246.9L219.2,237.8L217.0,231.0L210.1,228.7L209.0,216.2" fill="none" stroke="#fff" stroke-opacity="0.5" stroke-width="0.8" stroke-linejoin="round"/>
<path d="M187.4,229.9 193.1,229.9 201.0,228.7 209.0,228.7 217.0,231.0 219.2,237.8 217.0,246.9 210.1,249.2 212.4,258.3 210.1,265.1 203.3,269.7 201.0,276.5 194.2,278.8 187.4,277.6 178.3,281.0 169.2,284.5 166.9,274.2 169.2,264.0 177.2,258.3 178.3,249.2 189.7,240.1Z" fill="#4192b6" stroke="#4192b6" stroke-width="0.6"/>
<path d="M187.4,229.9L193.1,229.9L201.0,228.7L209.0,228.7L217.0,231.0L219.2,237.8L217.0,246.9L210.1,249.2L212.4,258.3L210.1,265.1L203.3,269.7L201.0,276.5L194.2,278.8L187.4,277.6L178.3,281.0L169.2,284.5L166.9,274.2L169.2,264.0L177.2,258.3L178.3,249.2L189.7,240.1L187.4,229.9" fill="none" stroke="#fff" stroke-opacity="0.5" stroke-width="0.8" stroke-linejoin="round"/>
<path d="M89.6,340.0 90.7,328.8 103.2,322.0 114.6,328.8 119.1,325.4 128.2,326.5 135.1,322.0 144.2,319.7 151.0,324.3 155.5,322.0 154.4,331.1 155.5,340.0Z" fill="#4192b6" stroke="#4192b6" stroke-width="0.6"/>
<path d="M89.6,340.0L90.7,328.8L103.2,322.0L114.6,328.8L119.1,325.4L128.2,326.5L135.1,322.0L144.2,319.7L151.0,324.3L155.5,322.0L154.4,331.1L155.5,340.0" fill="none" stroke="#fff" stroke-opacity="0.5" stroke-width="0.8" stroke-linejoin="round"/>
<path d="M282.8,92.8 289.7,89.4 298.8,91.0 305.6,93.9 310.6,98.5 312.0,106.4 307.9,109.9 302.2,111.0 299.9,115.5 296.5,122.4 287.4,123.5 273.7,125.8 273.7,115.5 277.2,106.4 282.8,104.2 284.0,97.3Z" fill="#4192b6" stroke="#4192b6" stroke-width="0.6"/>
<path d="M282.8,92.8L289.7,89.4L298.8,91.0L305.6,93.9L310.6,98.5L312.0,106.4L307.9,109.9L302.2,111.0L299.9,115.5L296.5,122.4L287.4,123.5L273.7,125.8L273.7,115.5L277.2,106.4L282.8,104.2L284.0,97.3L282.8,92.8" fill="none" stroke="#fff" stroke-opacity="0.5" stroke-width="0.8" stroke-linejoin="round"/>
<path d="M246.4,195.2 256.7,189.5 266.9,188.3 282.8,188.3 285.1,195.2 284.0,204.3 278.3,212.2 271.5,215.6 264.6,212.2 257.8,213.4 251.0,208.8 247.6,202.0Z" fill="#4192b6" stroke="#4192b6" stroke-width="0.6"/>
<path d="M246.4,195.2L256.7,189.5L266.9,188.3L282.8,188.3L285.1,195.2L284.0,204.3L278.3,212.2L271.5,215.6L264.6,212.2L257.8,213.4L251.0,208.8L247.6,202.0L246.4,195.2" fill="none" stroke="#fff" stroke-opacity="0.5" stroke-width="0.8" stroke-linejoin="round"/>
<path d="M490.6,156.0 499.7,149.2 520.1,151.5 522.4,156.0 527.0,167.4 530.4,181.0 531.5,190.1 527.0,194.7 520.1,197.0 517.9,192.4 522.4,185.6 520.1,181.0 511.0,182.2 503.1,178.8 497.4,174.2 494.0,176.5 489.4,174.2 491.7,167.4Z" fill="#4192b6" stroke="#4192b6" stroke-width="0.6"/>
<path d="M490.6,156.0L499.7,149.2L520.1,151.5L522.4,156.0L527.0,167.4L530.4,181.0L531.5,190.1L527.0,194.7L520.1,197.0L517.9,192.4L522.4,185.6L520.1,181.0L511.0,182.2L503.1,178.8L497.4,174.2L494.0,176.5L489.4,174.2L491.7,167.4L490.6,156.0" fill="none" stroke="#fff" stroke-opacity="0.5" stroke-width="0.8" stroke-linejoin="round"/>
<path d="M539.5,285.7 546.3,284.5 548.6,292.5 546.3,297.1 539.5,295.9Z" fill="#4192b6" stroke="#4192b6" stroke-width="0.6"/>
<path d="M539.5,285.7L546.3,284.5L548.6,292.5L546.3,297.1L539.5,295.9L539.5,285.7" fill="none" stroke="#fff" stroke-opacity="0.5" stroke-width="0.8" stroke-linejoin="round"/>
<path d="M91.8,328.3 102.2,323.1 112.6,324.2 118.9,329.4 129.3,325.2 133.5,320.0 154.3,320.0 155.4,324.2 156.4,336.7 160.6,345.0 164.7,355.5 158.5,359.6 150.1,357.5 143.9,361.7 135.5,365.9 129.3,361.7 123.0,355.5 116.8,353.4 112.6,357.5 106.4,355.5 100.1,349.2 91.8,345.0 89.7,336.7Z" fill="#4192b6" stroke="#4192b6" stroke-width="0.6"/>
<path d="M91.8,328.3L102.2,323.1L112.6,324.2L118.9,329.4L129.3,325.2L133.5,320.0M154.3,320.0L155.4,324.2L156.4,336.7L160.6,345.0L164.7,355.5L158.5,359.6L150.1,357.5L143.9,361.7L135.5,365.9L129.3,361.7L123.0,355.5L116.8,353.4L112.6,357.5L106.4,355.5L100.1,349.2L91.8,345.0L89.7,336.7L91.8,328.3" fill="none" stroke="#fff" stroke-opacity="0.5" stroke-width="0.8" stroke-linejoin="round"/>
<path d="M175.2,353.4 183.5,347.1 191.8,345.0 200.2,349.2 208.5,353.4 208.5,365.9 206.4,376.3 198.1,380.5 187.7,382.6 181.4,378.4 177.3,370.0 175.2,361.7Z" fill="#4192b6" stroke="#4192b6" stroke-width="0.6"/>
<path d="M175.2,353.4L183.5,347.1L191.8,345.0L200.2,349.2L208.5,353.4L208.5,365.9L206.4,376.3L198.1,380.5L187.7,382.6L181.4,378.4L177.3,370.0L175.2,361.7L175.2,353.4" fill="none" stroke="#fff" stroke-opacity="0.5" stroke-width="0.8" stroke-linejoin="round"/>
<path d="M12.5,419.1 20.9,411.8 26.1,402.4 34.4,405.5 41.7,403.4 43.8,411.8 39.6,418.0 37.5,426.4 33.4,430.5 29.2,428.4 20.9,424.3 13.6,423.2Z" fill="#4192b6" stroke="#4192b6" stroke-width="0.6"/>
<path d="M12.5,419.1L20.9,411.8L26.1,402.4L34.4,405.5L41.7,403.4L43.8,411.8L39.6,418.0L37.5,426.4L33.4,430.5L29.2,428.4L20.9,424.3L13.6,423.2L12.5,419.1" fill="none" stroke="#fff" stroke-opacity="0.5" stroke-width="0.8" stroke-linejoin="round"/>
<path d="M41.7,474.3 42.7,463.9 50.0,463.9 56.3,457.6 62.6,453.5 70.9,453.5 75.1,447.2 83.4,445.1 89.7,443.0 91.8,436.8 98.0,435.7 102.2,430.5 110.5,433.6 114.7,440.9 120.9,445.1 116.8,453.5 110.5,457.6 112.6,466.0 116.8,470.1 123.0,466.0 127.2,457.6 133.5,455.5 141.8,459.7 150.1,463.9 150.1,472.2 143.9,478.5 137.6,482.7 133.5,488.9 127.2,491.0 123.0,484.7 116.8,484.7 108.4,480.6 100.1,482.7 89.7,484.7 80.3,488.9 73.0,497.3 60.5,493.1 51.1,490.0 50.0,488.9 44.8,484.7 41.7,478.5Z" fill="#4192b6" stroke="#4192b6" stroke-width="0.6"/>
<path d="M41.7,474.3L42.7,463.9L50.0,463.9L56.3,457.6L62.6,453.5L70.9,453.5L75.1,447.2L83.4,445.1L89.7,443.0L91.8,436.8L98.0,435.7L102.2,430.5L110.5,433.6L114.7,440.9L120.9,445.1L116.8,453.5L110.5,457.6L112.6,466.0L116.8,470.1L123.0,466.0L127.2,457.6L133.5,455.5L141.8,459.7L150.1,463.9L150.1,472.2L143.9,478.5L137.6,482.7L133.5,488.9L127.2,491.0L123.0,484.7L116.8,484.7L108.4,480.6L100.1,482.7L89.7,484.7L80.3,488.9L73.0,497.3L60.5,493.1L51.1,490.0L50.0,488.9L44.8,484.7L41.7,478.5L41.7,474.3" fill="none" stroke="#fff" stroke-opacity="0.5" stroke-width="0.8" stroke-linejoin="round"/>
<path d="M171.0,443.0 177.3,436.8 187.7,432.6 198.1,433.6 208.5,435.7 216.9,438.9 220.0,445.1 220.0,482.7 212.7,478.5 204.4,472.2 200.2,463.9 187.7,461.8 181.4,457.6 173.1,453.5Z" fill="#4192b6" stroke="#4192b6" stroke-width="0.6"/>
<path d="M171.0,443.0L177.3,436.8L187.7,432.6L198.1,433.6L208.5,435.7L216.9,438.9L220.0,445.1M220.0,482.7L212.7,478.5L204.4,472.2L200.2,463.9L187.7,461.8L181.4,457.6L173.1,453.5L171.0,443.0" fill="none" stroke="#fff" stroke-opacity="0.5" stroke-width="0.8" stroke-linejoin="round"/>
<path d="M56.3,518.1 62.6,513.9 73.0,518.1 78.2,513.9 83.4,520.2 91.8,528.5 98.0,536.9 104.3,541.0 105.3,547.3 108.4,553.6 106.4,561.9 95.9,566.1 91.8,570.2 93.8,580.7 89.7,589.0 83.4,591.1 75.1,586.9 68.8,591.1 58.4,595.3 50.0,600.1 48.0,595.3 43.8,589.0 39.6,582.7 36.5,576.5 35.5,570.2 38.6,564.0 41.7,557.7 46.9,551.5 48.0,545.2 46.9,539.0 48.0,537.9 56.3,534.8 59.4,526.4Z" fill="#4192b6" stroke="#4192b6" stroke-width="0.6"/>
<path d="M56.3,518.1L62.6,513.9L73.0,518.1L78.2,513.9L83.4,520.2L91.8,528.5L98.0,536.9L104.3,541.0L105.3,547.3L108.4,553.6L106.4,561.9L95.9,566.1L91.8,570.2L93.8,580.7L89.7,589.0L83.4,591.1L75.1,586.9L68.8,591.1L58.4,595.3L50.0,600.1L48.0,595.3L43.8,589.0L39.6,582.7L36.5,576.5L35.5,570.2L38.6,564.0L41.7,557.7L46.9,551.5L48.0,545.2L46.9,539.0L48.0,537.9L56.3,534.8L59.4,526.4L56.3,518.1" fill="none" stroke="#fff" stroke-opacity="0.5" stroke-width="0.8" stroke-linejoin="round"/>
<path d="M166.8,559.8 175.2,555.6 187.7,554.6 193.9,557.7 198.1,568.2 196.0,576.5 187.7,574.4 181.4,576.5 177.3,568.2 171.0,566.1Z" fill="#4192b6" stroke="#4192b6" stroke-width="0.6"/>
<path d="M166.8,559.8L175.2,555.6L187.7,554.6L193.9,557.7L198.1,568.2L196.0,576.5L187.7,574.4L181.4,576.5L177.3,568.2L171.0,566.1L166.8,559.8" fill="none" stroke="#fff" stroke-opacity="0.5" stroke-width="0.8" stroke-linejoin="round"/>
<path d="M190.0,343.5 201.4,346.9 207.1,356.0 208.2,369.6 201.4,378.7 190.0,381.0Z" fill="#4192b6" stroke="#4192b6" stroke-width="0.6"/>
<path d="M190.0,343.5L201.4,346.9L207.1,356.0L208.2,369.6L201.4,378.7L190.0,381.0" fill="none" stroke="#fff" stroke-opacity="0.5" stroke-width="0.8" stroke-linejoin="round"/>
<path d="M282.1,421.9 287.8,416.3 296.9,424.2 308.3,426.5 301.5,431.0 296.9,440.1 292.4,449.2 285.5,456.1 283.3,465.2 276.4,467.4 268.5,460.6 267.3,449.2 270.8,440.1 267.3,433.3 276.4,431.0 285.5,435.6 292.4,431.0 290.1,426.5 284.4,426.5Z" fill="#4192b6" stroke="#4192b6" stroke-width="0.6"/>
<path d="M282.1,421.9L287.8,416.3L296.9,424.2L308.3,426.5L301.5,431.0L296.9,440.1L292.4,449.2L285.5,456.1L283.3,465.2L276.4,467.4L268.5,460.6L267.3,449.2L270.8,440.1L267.3,433.3L276.4,431.0L285.5,435.6L292.4,431.0L290.1,426.5L284.4,426.5L282.1,421.9" fill="none" stroke="#fff" stroke-opacity="0.5" stroke-width="0.8" stroke-linejoin="round"/>
<path d="M240.0,437.9 246.9,428.8 256.0,424.2 265.1,426.5 270.8,433.3 268.5,444.7 265.1,451.5 256.0,453.8 246.9,451.5 241.2,447.0Z" fill="#4192b6" stroke="#4192b6" stroke-width="0.6"/>
<path d="M240.0,437.9L246.9,428.8L256.0,424.2L265.1,426.5L270.8,433.3L268.5,444.7L265.1,451.5L256.0,453.8L246.9,451.5L241.2,447.0L240.0,437.9" fill="none" stroke="#fff" stroke-opacity="0.5" stroke-width="0.8" stroke-linejoin="round"/>
<path d="M190.0,433.3 212.7,435.6 217.3,447.0 235.5,453.8 244.6,460.6 238.9,469.7 236.6,481.1 242.3,490.2 251.4,492.5 253.7,501.6 246.9,508.4 235.5,503.8 228.7,494.7 224.1,485.6 212.7,483.4 205.9,472.0 203.6,460.6 190.0,458.3Z" fill="#4192b6" stroke="#4192b6" stroke-width="0.6"/>
<path d="M190.0,433.3L212.7,435.6L217.3,447.0L235.5,453.8L244.6,460.6L238.9,469.7L236.6,481.1L242.3,490.2L251.4,492.5L253.7,501.6L246.9,508.4L235.5,503.8L228.7,494.7L224.1,485.6L212.7,483.4L205.9,472.0L203.6,460.6L190.0,458.3" fill="none" stroke="#fff" stroke-opacity="0.5" stroke-width="0.8" stroke-linejoin="round"/>
<path d="M301.5,487.9 306.0,476.5 315.1,469.7 326.5,472.0 333.3,478.8 331.0,490.2 340.1,494.7 349.2,499.3 351.5,490.2 349.2,483.4 358.3,478.8 362.9,487.9 369.7,494.7 372.0,503.8 378.8,515.2 376.5,526.6 367.4,531.1 358.3,533.4 353.8,526.6 347.0,522.0 335.6,524.3 326.5,519.8 321.9,510.7 315.1,506.1 310.6,506.1 306.0,497.0Z" fill="#4192b6" stroke="#4192b6" stroke-width="0.6"/>
<path d="M301.5,487.9L306.0,476.5L315.1,469.7L326.5,472.0L333.3,478.8L331.0,490.2L340.1,494.7L349.2,499.3L351.5,490.2L349.2,483.4L358.3,478.8L362.9,487.9L369.7,494.7L372.0,503.8L378.8,515.2L376.5,526.6L367.4,531.1L358.3,533.4L353.8,526.6L347.0,522.0L335.6,524.3L326.5,519.8L321.9,510.7L315.1,506.1L310.6,506.1L306.0,497.0L301.5,487.9" fill="none" stroke="#fff" stroke-opacity="0.5" stroke-width="0.8" stroke-linejoin="round"/>
<path d="M337.9,462.9 347.0,451.5 358.3,449.2 365.2,458.3 372.0,453.8 383.4,449.2 390.2,453.8 392.5,467.4 390.2,478.8 383.4,487.9 372.0,490.2 365.2,483.4 358.3,478.8 349.2,483.4 342.4,476.5 339.0,469.7Z" fill="#4192b6" stroke="#4192b6" stroke-width="0.6"/>
<path d="M337.9,462.9L347.0,451.5L358.3,449.2L365.2,458.3L372.0,453.8L383.4,449.2L390.2,453.8L392.5,467.4L390.2,478.8L383.4,487.9L372.0,490.2L365.2,483.4L358.3,478.8L349.2,483.4L342.4,476.5L339.0,469.7L337.9,462.9" fill="none" stroke="#fff" stroke-opacity="0.5" stroke-width="0.8" stroke-linejoin="round"/>
<path d="M390.2,449.2 394.7,437.9 403.8,433.3 411.8,440.1 417.5,447.0 430.0,440.1 430.0,494.7 422.0,501.6 417.5,508.4 410.7,499.3 401.6,490.2 392.5,478.8 392.5,467.4 390.2,453.8Z" fill="#4192b6" stroke="#4192b6" stroke-width="0.6"/>
<path d="M390.2,449.2L394.7,437.9L403.8,433.3L411.8,440.1L417.5,447.0L430.0,440.1M430.0,494.7L422.0,501.6L417.5,508.4L410.7,499.3L401.6,490.2L392.5,478.8L392.5,467.4L390.2,453.8L390.2,449.2" fill="none" stroke="#fff" stroke-opacity="0.5" stroke-width="0.8" stroke-linejoin="round"/>
<path d="M281.0,576.6 290.1,560.7 301.5,555.0 312.8,553.9 321.9,558.4 331.0,565.3 337.9,572.1 347.0,576.6 358.3,569.8 367.4,565.3 372.0,572.1 369.7,590.1 281.0,590.1Z" fill="#4192b6" stroke="#4192b6" stroke-width="0.6"/>
<path d="M281.0,576.6L290.1,560.7L301.5,555.0L312.8,553.9L321.9,558.4L331.0,565.3L337.9,572.1L347.0,576.6L358.3,569.8L367.4,565.3L372.0,572.1L369.7,590.1M281.0,590.1L281.0,576.6" fill="none" stroke="#fff" stroke-opacity="0.5" stroke-width="0.8" stroke-linejoin="round"/>
<path d="M449.9,409.2 459.2,405.1 469.7,406.1 472.8,413.4 473.8,421.8 484.3,419.7 496.8,418.6 500.9,421.8 517.6,419.7 530.1,416.5 538.5,415.5 540.6,418.6 534.3,428.0 526.0,439.5 517.6,443.6 513.5,448.9 505.1,452.0 496.8,455.1 492.6,460.3 484.3,463.5 478.0,459.3 471.8,450.9 463.4,448.9 450.9,449.9 442.6,453.0 438.4,459.3 434.2,465.5 429.0,471.8 424.8,463.5 421.7,459.3 414.4,455.1 415.5,448.9 425.9,442.6 436.3,438.4 438.4,430.1 440.5,419.7 446.7,416.5Z" fill="#4192b6" stroke="#4192b6" stroke-width="0.6"/>
<path d="M449.9,409.2L459.2,405.1L469.7,406.1L472.8,413.4L473.8,421.8L484.3,419.7L496.8,418.6L500.9,421.8L517.6,419.7L530.1,416.5L538.5,415.5L540.6,418.6L534.3,428.0L526.0,439.5L517.6,443.6L513.5,448.9L505.1,452.0L496.8,455.1L492.6,460.3L484.3,463.5L478.0,459.3L471.8,450.9L463.4,448.9L450.9,449.9L442.6,453.0L438.4,459.3L434.2,465.5L429.0,471.8L424.8,463.5L421.7,459.3L414.4,455.1L415.5,448.9L425.9,442.6L436.3,438.4L438.4,430.1L440.5,419.7L446.7,416.5L449.9,409.2" fill="none" stroke="#fff" stroke-opacity="0.5" stroke-width="0.8" stroke-linejoin="round"/>
<path d="M395.6,476.0 407.1,467.6 419.6,462.4 424.8,463.5 429.0,471.8 430.0,480.1 430.0,488.5 424.8,494.7 419.6,503.1 417.5,509.3 412.3,501.0 405.0,494.7 396.7,488.5 392.5,482.2Z" fill="#4192b6" stroke="#4192b6" stroke-width="0.6"/>
<path d="M395.6,476.0L407.1,467.6L419.6,462.4L424.8,463.5L429.0,471.8L430.0,480.1L430.0,488.5L424.8,494.7L419.6,503.1L417.5,509.3L412.3,501.0L405.0,494.7L396.7,488.5L392.5,482.2L395.6,476.0" fill="none" stroke="#fff" stroke-opacity="0.5" stroke-width="0.8" stroke-linejoin="round"/>
<path d="M390.4,436.4 396.7,433.2 405.0,436.4 409.2,442.6 413.4,448.9 414.4,455.1 411.3,463.5 400.9,467.6 392.5,471.8 388.3,463.5 390.4,450.9Z" fill="#4192b6" stroke="#4192b6" stroke-width="0.6"/>
<path d="M390.4,436.4L396.7,433.2L405.0,436.4L409.2,442.6L413.4,448.9L414.4,455.1L411.3,463.5L400.9,467.6L392.5,471.8L388.3,463.5L390.4,450.9L390.4,436.4" fill="none" stroke="#fff" stroke-opacity="0.5" stroke-width="0.8" stroke-linejoin="round"/>
<path d="M380.0,434.3 389.4,436.4 390.4,450.9 388.3,463.5 390.4,476.0 380.0,486.4Z" fill="#4192b6" stroke="#4192b6" stroke-width="0.6"/>
<path d="M380.0,434.3L389.4,436.4L390.4,450.9L388.3,463.5L390.4,476.0L380.0,486.4" fill="none" stroke="#fff" stroke-opacity="0.5" stroke-width="0.8" stroke-linejoin="round"/>
<path d="M38.2,541.6 45.0,542.7 54.1,535.9 58.7,526.8 57.5,520.0 86.0,520.0 95.1,529.1 95.1,538.2 104.2,542.7 107.6,554.1 106.4,563.2 95.1,567.8 88.2,565.5 79.1,560.9 72.3,563.2 60.9,567.8 49.6,568.9 37.1,572.3 37.1,565.5 40.5,556.4 43.9,549.6Z" fill="#4192b6" stroke="#4192b6" stroke-width="0.6"/>
<path d="M38.2,541.6L45.0,542.7L54.1,535.9L58.7,526.8L57.5,520.0M86.0,520.0L95.1,529.1L95.1,538.2L104.2,542.7L107.6,554.1L106.4,563.2L95.1,567.8L88.2,565.5L79.1,560.9L72.3,563.2L60.9,567.8L49.6,568.9L37.1,572.3L37.1,565.5L40.5,556.4L43.9,549.6L38.2,541.6" fill="none" stroke="#fff" stroke-opacity="0.5" stroke-width="0.8" stroke-linejoin="round"/>
<path d="M35.9,572.3 49.6,568.9 60.9,567.8 72.3,564.4 79.1,562.1 88.2,565.5 95.1,568.9 96.2,576.9 92.8,581.4 83.7,580.3 74.6,576.9 63.2,579.1 54.1,583.7 45.0,586.0 38.2,579.1Z" fill="#4192b6" stroke="#4192b6" stroke-width="0.6"/>
<path d="M35.9,572.3L49.6,568.9L60.9,567.8L72.3,564.4L79.1,562.1L88.2,565.5L95.1,568.9L96.2,576.9L92.8,581.4L83.7,580.3L74.6,576.9L63.2,579.1L54.1,583.7L45.0,586.0L38.2,579.1L35.9,572.3" fill="none" stroke="#fff" stroke-opacity="0.5" stroke-width="0.8" stroke-linejoin="round"/>
<path d="M99.6,597.3 108.7,592.8 120.1,595.1 129.2,597.3 132.6,606.4 133.7,615.5 129.2,621.2 120.1,620.1 111.0,616.7 104.2,611.0 99.6,606.4Z" fill="#4192b6" stroke="#4192b6" stroke-width="0.6"/>
<path d="M99.6,597.3L108.7,592.8L120.1,595.1L129.2,597.3L132.6,606.4L133.7,615.5L129.2,621.2L120.1,620.1L111.0,616.7L104.2,611.0L99.6,606.4L99.6,597.3" fill="none" stroke="#fff" stroke-opacity="0.5" stroke-width="0.8" stroke-linejoin="round"/>
<path d="M165.6,559.8 174.7,556.4 188.3,557.5 196.3,563.2 197.4,572.3 192.9,576.9 183.8,574.6 179.2,567.8 177.0,576.9 170.1,574.6 167.9,567.8Z" fill="#4192b6" stroke="#4192b6" stroke-width="0.6"/>
<path d="M165.6,559.8L174.7,556.4L188.3,557.5L196.3,563.2L197.4,572.3L192.9,576.9L183.8,574.6L179.2,567.8L177.0,576.9L170.1,574.6L167.9,567.8L165.6,559.8" fill="none" stroke="#fff" stroke-opacity="0.5" stroke-width="0.8" stroke-linejoin="round"/>
<path d="M166.7,649.7 177.0,645.1 188.3,648.5 192.9,656.5 190.6,665.6 188.3,677.0 192.9,683.8 202.0,686.1 213.4,679.2 215.6,670.1 224.7,674.7 236.1,677.0 244.1,674.7 252.0,677.0 260.0,674.7 260.0,704.3 247.5,711.1 238.4,708.8 229.3,705.4 223.6,711.1 227.0,717.9 236.1,724.7 242.9,729.3 233.8,733.8 230.4,742.9 236.1,752.0 244.1,756.6 252.0,758.9 247.5,769.1 244.1,770.2 236.1,765.7 224.7,762.3 213.4,761.1 199.7,759.3 188.3,756.6 182.0,752.0 178.8,748.2 172.0,749.8 167.9,745.2 158.8,744.1 153.1,747.5 151.9,756.6 146.3,749.8 139.4,742.9 133.7,738.4 129.2,729.3 133.7,724.7 142.8,720.2 146.3,711.1 156.5,706.5 158.8,697.4 156.5,688.3 158.8,679.2 154.2,672.4 156.5,665.6 165.6,656.5Z" fill="#4192b6" stroke="#4192b6" stroke-width="0.6"/>
<path d="M166.7,649.7L177.0,645.1L188.3,648.5L192.9,656.5L190.6,665.6L188.3,677.0L192.9,683.8L202.0,686.1L213.4,679.2L215.6,670.1L224.7,674.7L236.1,677.0L244.1,674.7L252.0,677.0L260.0,674.7M260.0,704.3L247.5,711.1L238.4,708.8L229.3,705.4L223.6,711.1L227.0,717.9L236.1,724.7L242.9,729.3L233.8,733.8L230.4,742.9L236.1,752.0L244.1,756.6L252.0,758.9L247.5,769.1L244.1,770.2L236.1,765.7L224.7,762.3L213.4,761.1L199.7,759.3L188.3,756.6L182.0,752.0L178.8,748.2L172.0,749.8L167.9,745.2L158.8,744.1L153.1,747.5L151.9,756.6L146.3,749.8L139.4,742.9L133.7,738.4L129.2,729.3L133.7,724.7L142.8,720.2L146.3,711.1L156.5,706.5L158.8,697.4L156.5,688.3L158.8,679.2L154.2,672.4L156.5,665.6L165.6,656.5L166.7,649.7" fill="none" stroke="#fff" stroke-opacity="0.5" stroke-width="0.8" stroke-linejoin="round"/>
<path d="M111.0,713.4 115.5,704.3 126.9,706.5 138.3,711.1 146.3,711.1 144.0,720.2 133.7,724.7 124.6,720.2 115.5,717.9Z" fill="#4192b6" stroke="#4192b6" stroke-width="0.6"/>
<path d="M111.0,713.4L115.5,704.3L126.9,706.5L138.3,711.1L146.3,711.1L144.0,720.2L133.7,724.7L124.6,720.2L115.5,717.9L111.0,713.4" fill="none" stroke="#fff" stroke-opacity="0.5" stroke-width="0.8" stroke-linejoin="round"/>
<path d="M105.3,749.8 111.0,747.5 122.4,745.2 133.7,738.4 139.4,742.9 137.2,747.5 133.7,756.6 129.2,763.4 130.3,770.2 124.6,766.8 120.1,770.2 114.4,771.4 108.7,765.7 105.3,758.9Z" fill="#4192b6" stroke="#4192b6" stroke-width="0.6"/>
<path d="M105.3,749.8L111.0,747.5L122.4,745.2L133.7,738.4L139.4,742.9L137.2,747.5L133.7,756.6L129.2,763.4L130.3,770.2L124.6,766.8L120.1,770.2L114.4,771.4L108.7,765.7L105.3,758.9L105.3,749.8" fill="none" stroke="#fff" stroke-opacity="0.5" stroke-width="0.8" stroke-linejoin="round"/>
<path d="M222.5,633.7 229.3,626.9 238.4,620.1 247.5,617.8 260.0,611.0 260.0,638.3 249.8,633.7 249.8,640.6 252.0,647.4 245.2,653.1 238.4,656.5 229.3,654.2 222.5,647.4Z" fill="#4192b6" stroke="#4192b6" stroke-width="0.6"/>
<path d="M222.5,633.7L229.3,626.9L238.4,620.1L247.5,617.8L260.0,611.0M260.0,638.3L249.8,633.7L249.8,640.6L252.0,647.4L245.2,653.1L238.4,656.5L229.3,654.2L222.5,647.4L222.5,633.7" fill="none" stroke="#fff" stroke-opacity="0.5" stroke-width="0.8" stroke-linejoin="round"/>
<path d="M278.5,569.6 286.4,567.3 295.5,562.7 297.8,555.9 309.2,558.2 318.3,562.7 327.4,567.3 329.7,577.5 320.6,578.7 316.0,583.2 306.9,585.5 295.5,586.6 286.4,580.9 279.6,583.2Z" fill="#4192b6" stroke="#4192b6" stroke-width="0.6"/>
<path d="M278.5,569.6L286.4,567.3L295.5,562.7L297.8,555.9L309.2,558.2L318.3,562.7L327.4,567.3L329.7,577.5L320.6,578.7L316.0,583.2L306.9,585.5L295.5,586.6L286.4,580.9L279.6,583.2L278.5,569.6" fill="none" stroke="#fff" stroke-opacity="0.5" stroke-width="0.8" stroke-linejoin="round"/>
<path d="M347.9,574.1 357.0,567.3 368.3,562.7 372.9,567.3 370.6,576.4 372.9,585.5 368.3,592.3 359.2,594.6 352.4,590.0 349.0,583.2Z" fill="#4192b6" stroke="#4192b6" stroke-width="0.6"/>
<path d="M347.9,574.1L357.0,567.3L368.3,562.7L372.9,567.3L370.6,576.4L372.9,585.5L368.3,592.3L359.2,594.6L352.4,590.0L349.0,583.2L347.9,574.1" fill="none" stroke="#fff" stroke-opacity="0.5" stroke-width="0.8" stroke-linejoin="round"/>
<path d="M357.0,599.1 363.8,592.3 372.9,585.5 379.7,594.6 388.8,599.1 395.6,606.0 391.1,612.8 382.0,619.6 377.4,628.7 370.6,624.2 361.5,624.2 359.2,617.3 354.7,608.2Z" fill="#4192b6" stroke="#4192b6" stroke-width="0.6"/>
<path d="M357.0,599.1L363.8,592.3L372.9,585.5L379.7,594.6L388.8,599.1L395.6,606.0L391.1,612.8L382.0,619.6L377.4,628.7L370.6,624.2L361.5,624.2L359.2,617.3L354.7,608.2L357.0,599.1" fill="none" stroke="#fff" stroke-opacity="0.5" stroke-width="0.8" stroke-linejoin="round"/>
<path d="M238.7,608.2 250.0,606.0 261.4,594.6 275.1,592.3 280.8,603.7 284.2,615.1 288.7,626.4 272.8,625.3 268.2,631.0 254.6,640.1 250.0,633.3 243.2,626.4 240.9,617.3Z" fill="#4192b6" stroke="#4192b6" stroke-width="0.6"/>
<path d="M238.7,608.2L250.0,606.0L261.4,594.6L275.1,592.3L280.8,603.7L284.2,615.1L288.7,626.4L272.8,625.3L268.2,631.0L254.6,640.1L250.0,633.3L243.2,626.4L240.9,617.3L238.7,608.2" fill="none" stroke="#fff" stroke-opacity="0.5" stroke-width="0.8" stroke-linejoin="round"/>
<path d="M222.7,642.4 229.6,631.0 238.7,624.2 245.5,631.0 252.3,640.1 256.9,646.9 252.3,651.5 243.2,653.7 234.1,651.5 225.0,649.2Z" fill="#4192b6" stroke="#4192b6" stroke-width="0.6"/>
<path d="M222.7,642.4L229.6,631.0L238.7,624.2L245.5,631.0L252.3,640.1L256.9,646.9L252.3,651.5L243.2,653.7L234.1,651.5L225.0,649.2L222.7,642.4" fill="none" stroke="#fff" stroke-opacity="0.5" stroke-width="0.8" stroke-linejoin="round"/>
<path d="M266.0,662.8 272.8,653.7 281.9,649.2 291.0,651.5 297.8,656.0 295.5,662.8 292.1,669.7 293.3,678.8 281.9,685.6 272.8,687.9 266.0,690.1 259.1,697.0 245.5,709.5 238.7,708.3 239.8,697.0 245.5,687.9 244.4,676.5 256.9,667.4Z" fill="#4192b6" stroke="#4192b6" stroke-width="0.6"/>
<path d="M266.0,662.8L272.8,653.7L281.9,649.2L291.0,651.5L297.8,656.0L295.5,662.8L292.1,669.7L293.3,678.8L281.9,685.6L272.8,687.9L266.0,690.1L259.1,697.0L245.5,709.5L238.7,708.3L239.8,697.0L245.5,687.9L244.4,676.5L256.9,667.4L266.0,662.8" fill="none" stroke="#fff" stroke-opacity="0.5" stroke-width="0.8" stroke-linejoin="round"/>
<path d="M213.6,676.5 222.7,671.9 234.1,674.2 244.4,676.5 245.5,687.9 239.8,697.0 238.7,708.3 231.8,710.6 223.9,708.3 215.9,699.2 213.6,687.9Z" fill="#4192b6" stroke="#4192b6" stroke-width="0.6"/>
<path d="M213.6,676.5L222.7,671.9L234.1,674.2L244.4,676.5L245.5,687.9L239.8,697.0L238.7,708.3L231.8,710.6L223.9,708.3L215.9,699.2L213.6,687.9L213.6,676.5" fill="none" stroke="#fff" stroke-opacity="0.5" stroke-width="0.8" stroke-linejoin="round"/>
<path d="M200.0,715.2 209.1,712.9 218.2,717.4 229.6,717.4 238.7,724.3 243.2,731.1 234.1,733.4 230.7,740.2 236.4,747.0 245.5,751.6 252.3,758.4 246.6,770.9 240.9,767.5 227.3,761.8 211.4,757.3 200.0,752.7Z" fill="#4192b6" stroke="#4192b6" stroke-width="0.6"/>
<path d="M200.0,715.2L209.1,712.9L218.2,717.4L229.6,717.4L238.7,724.3L243.2,731.1L234.1,733.4L230.7,740.2L236.4,747.0L245.5,751.6L252.3,758.4L246.6,770.9L240.9,767.5L227.3,761.8L211.4,757.3L200.0,752.7" fill="none" stroke="#fff" stroke-opacity="0.5" stroke-width="0.8" stroke-linejoin="round"/>
<path d="M336.5,649.2 345.6,646.9 354.7,651.5 363.8,660.6 359.2,669.7 357.0,678.8 352.4,676.5 345.6,669.7 338.8,665.1 336.5,653.7Z" fill="#4192b6" stroke="#4192b6" stroke-width="0.6"/>
<path d="M336.5,649.2L345.6,646.9L354.7,651.5L363.8,660.6L359.2,669.7L357.0,678.8L352.4,676.5L345.6,669.7L338.8,665.1L336.5,653.7L336.5,649.2" fill="none" stroke="#fff" stroke-opacity="0.5" stroke-width="0.8" stroke-linejoin="round"/>
<path d="M371.8,685.6 379.7,676.5 386.5,669.7 395.6,671.9 401.3,676.5 400.2,685.6 393.4,687.9 386.5,697.0 377.4,697.0 370.6,694.7Z" fill="#4192b6" stroke="#4192b6" stroke-width="0.6"/>
<path d="M371.8,685.6L379.7,676.5L386.5,669.7L395.6,671.9L401.3,676.5L400.2,685.6L393.4,687.9L386.5,697.0L377.4,697.0L370.6,694.7L371.8,685.6" fill="none" stroke="#fff" stroke-opacity="0.5" stroke-width="0.8" stroke-linejoin="round"/>
<path d="M338.8,708.3 347.9,703.8 359.2,706.1 363.8,717.4 362.7,728.8 359.2,740.2 350.1,737.9 347.9,728.8 347.9,717.4Z" fill="#4192b6" stroke="#4192b6" stroke-width="0.6"/>
<path d="M338.8,708.3L347.9,703.8L359.2,706.1L363.8,717.4L362.7,728.8L359.2,740.2L350.1,737.9L347.9,728.8L347.9,717.4L338.8,708.3" fill="none" stroke="#fff" stroke-opacity="0.5" stroke-width="0.8" stroke-linejoin="round"/>
<path d="M416.1,646.9 425.2,640.1 432.0,631.0 440.0,617.3 440.0,649.2 432.0,653.7 425.2,656.0 418.4,651.5Z" fill="#4192b6" stroke="#4192b6" stroke-width="0.6"/>
<path d="M416.1,646.9L425.2,640.1L432.0,631.0L440.0,617.3M440.0,649.2L432.0,653.7L425.2,656.0L418.4,651.5L416.1,646.9" fill="none" stroke="#fff" stroke-opacity="0.5" stroke-width="0.8" stroke-linejoin="round"/>
<path d="M413.2,651.5 424.6,640.1 433.7,631.0 436.0,619.6 445.1,615.1 451.9,617.3 457.6,626.4 465.5,631.0 474.6,637.8 481.5,644.6 486.0,653.7 476.9,657.2 470.1,664.0 463.3,662.8 456.4,653.7 449.6,646.9 440.5,651.5 431.4,651.5 424.6,658.3 415.5,653.7Z" fill="#4192b6" stroke="#4192b6" stroke-width="0.6"/>
<path d="M413.2,651.5L424.6,640.1L433.7,631.0L436.0,619.6L445.1,615.1L451.9,617.3L457.6,626.4L465.5,631.0L474.6,637.8L481.5,644.6L486.0,653.7L476.9,657.2L470.1,664.0L463.3,662.8L456.4,653.7L449.6,646.9L440.5,651.5L431.4,651.5L424.6,658.3L415.5,653.7L413.2,651.5" fill="none" stroke="#fff" stroke-opacity="0.5" stroke-width="0.8" stroke-linejoin="round"/>
<path d="M370.0,590.0 376.8,592.3 383.6,596.9 392.7,598.0 398.4,601.4 392.7,608.2 383.6,612.8 379.1,624.2 370.0,621.9Z" fill="#4192b6" stroke="#4192b6" stroke-width="0.6"/>
<path d="M370.0,590.0L376.8,592.3L383.6,596.9L392.7,598.0L398.4,601.4L392.7,608.2L383.6,612.8L379.1,624.2L370.0,621.9" fill="none" stroke="#fff" stroke-opacity="0.5" stroke-width="0.8" stroke-linejoin="round"/>
<path d="M370.0,685.6 376.8,674.2 383.6,668.5 392.7,669.7 397.3,669.7 401.8,676.5 395.0,685.6 388.2,694.7 379.1,697.0 370.0,694.7Z" fill="#4192b6" stroke="#4192b6" stroke-width="0.6"/>
<path d="M370.0,685.6L376.8,674.2L383.6,668.5L392.7,669.7L397.3,669.7L401.8,676.5L395.0,685.6L388.2,694.7L379.1,697.0L370.0,694.7" fill="none" stroke="#fff" stroke-opacity="0.5" stroke-width="0.8" stroke-linejoin="round"/>
<path d="M255.5,174.7 260.1,170.1 266.9,165.6 273.7,159.9 278.3,162.2 280.6,170.1 284.0,179.2 287.4,183.8 282.8,188.3 273.7,189.5 266.9,188.3 260.1,189.5 256.7,183.8Z" fill="#86b1d0" stroke="#86b1d0" stroke-width="0.6"/>
<path d="M255.5,174.7L260.1,170.1L266.9,165.6L273.7,159.9L278.3,162.2L280.6,170.1L284.0,179.2L287.4,183.8L282.8,188.3L273.7,189.5L266.9,188.3L260.1,189.5L256.7,183.8L255.5,174.7" fill="none" stroke="#fff" stroke-opacity="0.5" stroke-width="0.8" stroke-linejoin="round"/>
<path d="M275.6,93.3 281.7,92.3 282.8,98.5 281.7,105.3 277.2,106.4 275.1,99.6Z" fill="#86b1d0" stroke="#86b1d0" stroke-width="0.6"/>
<path d="M275.6,93.3L281.7,92.3L282.8,98.5L281.7,105.3L277.2,106.4L275.1,99.6L275.6,93.3" fill="none" stroke="#fff" stroke-opacity="0.5" stroke-width="0.8" stroke-linejoin="round"/>
<path d="M212.7,292.3 226.4,290.0 235.5,296.8 230.9,308.2 219.6,312.7 212.7,305.9Z" fill="#86b1d0" stroke="#86b1d0" stroke-width="0.6"/>
<path d="M212.7,292.3L226.4,290.0L235.5,296.8L230.9,308.2L219.6,312.7L212.7,305.9L212.7,292.3" fill="none" stroke="#fff" stroke-opacity="0.5" stroke-width="0.8" stroke-linejoin="round"/>
<path d="M189.5,679.2 199.7,670.1 213.4,671.3 215.6,679.2 217.9,692.9 215.6,702.0 213.4,711.1 202.0,715.6 190.6,711.1 183.8,702.0 182.7,692.9 188.3,688.3Z" fill="#86b1d0" stroke="#86b1d0" stroke-width="0.6"/>
<path d="M189.5,679.2L199.7,670.1L213.4,671.3L215.6,679.2L217.9,692.9L215.6,702.0L213.4,711.1L202.0,715.6L190.6,711.1L183.8,702.0L182.7,692.9L188.3,688.3L189.5,679.2" fill="none" stroke="#fff" stroke-opacity="0.5" stroke-width="0.8" stroke-linejoin="round"/>
<path d="M363.8,708.3 372.9,703.8 384.3,706.1 388.8,717.4 387.7,728.8 379.7,734.5 369.5,733.4 363.8,726.5Z" fill="#86b1d0" stroke="#86b1d0" stroke-width="0.6"/>
<path d="M363.8,708.3L372.9,703.8L384.3,706.1L388.8,717.4L387.7,728.8L379.7,734.5L369.5,733.4L363.8,726.5L363.8,708.3" fill="none" stroke="#fff" stroke-opacity="0.5" stroke-width="0.8" stroke-linejoin="round"/>
<path d="M367.2,709.5 379.7,708.3 382.0,719.7 372.9,722.0 367.2,718.6Z" fill="#c8dcea" stroke="#c8dcea" stroke-width="0.6"/>
<path d="M367.2,709.5L379.7,708.3L382.0,719.7L372.9,722.0L367.2,718.6L367.2,709.5" fill="none" stroke="#fff" stroke-opacity="0.5" stroke-width="0.8" stroke-linejoin="round"/>
<path d="M103.2,217.3 116.9,219.6 124.8,218.5 128.2,224.2 130.5,228.7 138.5,237.8 130.5,249.2 128.2,258.3 131.7,261.7 126.0,267.4 124.8,281.0 114.6,290.1 108.9,297.0 104.4,297.0 102.1,285.6 104.4,276.5 100.9,271.9 94.1,264.0 94.1,253.7 97.5,242.4 100.9,231.0 102.1,221.9Z" fill="#4d7d75" stroke="#4d7d75" stroke-width="0.6"/>
<path d="M103.2,217.3L116.9,219.6L124.8,218.5L128.2,224.2L130.5,228.7L138.5,237.8L130.5,249.2L128.2,258.3L131.7,261.7L126.0,267.4L124.8,281.0L114.6,290.1L108.9,297.0L104.4,297.0L102.1,285.6L104.4,276.5L100.9,271.9L94.1,264.0L94.1,253.7L97.5,242.4L100.9,231.0L102.1,221.9L103.2,217.3" fill="none" stroke="#fff" stroke-opacity="0.5" stroke-width="0.8" stroke-linejoin="round"/>
<path d="M131.7,261.7 141.9,259.4 152.1,258.3 155.5,262.8 151.0,274.2 153.3,278.8 157.8,285.6 166.9,282.2 171.5,287.9 176.0,297.0 177.2,308.3 174.9,315.2 166.9,317.4 155.5,322.0 151.0,324.3 144.2,322.0 147.6,315.2 145.3,309.5 147.6,303.8 145.3,297.0 139.6,292.4 130.5,287.9 126.0,282.2 126.0,267.4Z" fill="#4d7d75" stroke="#4d7d75" stroke-width="0.6"/>
<path d="M131.7,261.7L141.9,259.4L152.1,258.3L155.5,262.8L151.0,274.2L153.3,278.8L157.8,285.6L166.9,282.2L171.5,287.9L176.0,297.0L177.2,308.3L174.9,315.2L166.9,317.4L155.5,322.0L151.0,324.3L144.2,322.0L147.6,315.2L145.3,309.5L147.6,303.8L145.3,297.0L139.6,292.4L130.5,287.9L126.0,282.2L126.0,267.4L131.7,261.7" fill="none" stroke="#fff" stroke-opacity="0.5" stroke-width="0.8" stroke-linejoin="round"/>
<path d="M155.5,322.0 166.9,317.4 174.9,315.2 177.2,322.0 173.7,331.1 174.9,340.0 155.5,340.0 154.4,331.1Z" fill="#4d7d75" stroke="#4d7d75" stroke-width="0.6"/>
<path d="M155.5,322.0L166.9,317.4L174.9,315.2L177.2,322.0L173.7,331.1L174.9,340.0M155.5,340.0L154.4,331.1L155.5,322.0" fill="none" stroke="#fff" stroke-opacity="0.5" stroke-width="0.8" stroke-linejoin="round"/>
<path d="M260.1,133.7 266.9,128.1 273.7,125.8 287.4,123.5 296.5,124.6 301.0,126.9 302.2,136.0 298.8,142.8 287.4,147.4 282.8,151.9 273.7,156.5 269.2,161.0 265.8,154.2 260.1,147.4 256.7,140.6Z" fill="#4d7d75" stroke="#4d7d75" stroke-width="0.6"/>
<path d="M260.1,133.7L266.9,128.1L273.7,125.8L287.4,123.5L296.5,124.6L301.0,126.9L302.2,136.0L298.8,142.8L287.4,147.4L282.8,151.9L273.7,156.5L269.2,161.0L265.8,154.2L260.1,147.4L256.7,140.6L260.1,133.7" fill="none" stroke="#fff" stroke-opacity="0.5" stroke-width="0.8" stroke-linejoin="round"/>
<path d="M26.1,402.4 30.2,396.1 37.5,387.8 44.8,386.7 52.1,384.6 53.2,390.9 58.4,397.2 52.1,402.4 41.7,403.4 34.4,405.5Z" fill="#4d7d75" stroke="#4d7d75" stroke-width="0.6"/>
<path d="M26.1,402.4L30.2,396.1L37.5,387.8L44.8,386.7L52.1,384.6L53.2,390.9L58.4,397.2L52.1,402.4L41.7,403.4L34.4,405.5L26.1,402.4" fill="none" stroke="#fff" stroke-opacity="0.5" stroke-width="0.8" stroke-linejoin="round"/>
<path d="M19.8,444.1 26.1,440.9 25.0,436.8 29.2,433.6 33.4,430.5 37.5,436.8 39.6,445.1 38.6,453.5 36.5,461.8 42.7,463.9 41.7,474.3 39.6,474.3 31.3,472.2 29.2,466.0 31.3,459.7 27.1,453.5 21.9,449.3Z" fill="#4d7d75" stroke="#4d7d75" stroke-width="0.6"/>
<path d="M19.8,444.1L26.1,440.9L25.0,436.8L29.2,433.6L33.4,430.5L37.5,436.8L39.6,445.1L38.6,453.5L36.5,461.8L42.7,463.9L41.7,474.3L39.6,474.3L31.3,472.2L29.2,466.0L31.3,459.7L27.1,453.5L21.9,449.3L19.8,444.1" fill="none" stroke="#fff" stroke-opacity="0.5" stroke-width="0.8" stroke-linejoin="round"/>
<path d="M80.3,353.4 83.4,348.2 91.8,345.0 100.1,349.2 106.4,355.5 112.6,363.8 108.4,369.0 100.1,372.1 92.8,372.1 87.6,365.9 82.4,361.7Z" fill="#4d7d75" stroke="#4d7d75" stroke-width="0.6"/>
<path d="M80.3,353.4L83.4,348.2L91.8,345.0L100.1,349.2L106.4,355.5L112.6,363.8L108.4,369.0L100.1,372.1L92.8,372.1L87.6,365.9L82.4,361.7L80.3,353.4" fill="none" stroke="#fff" stroke-opacity="0.5" stroke-width="0.8" stroke-linejoin="round"/>
<path d="M155.4,324.2 164.7,320.0 175.2,320.0 179.3,332.5 187.7,338.8 191.8,345.0 183.5,347.1 175.2,353.4 171.0,358.6 164.7,355.5 160.6,345.0 156.4,336.7Z" fill="#4d7d75" stroke="#4d7d75" stroke-width="0.6"/>
<path d="M155.4,324.2L164.7,320.0M175.2,320.0L179.3,332.5L187.7,338.8L191.8,345.0L183.5,347.1L175.2,353.4L171.0,358.6L164.7,355.5L160.6,345.0L156.4,336.7L155.4,324.2" fill="none" stroke="#fff" stroke-opacity="0.5" stroke-width="0.8" stroke-linejoin="round"/>
<path d="M92.8,386.7 100.1,382.6 108.4,386.7 116.8,382.6 123.0,384.6 137.6,382.6 146.0,386.7 156.4,388.8 166.8,390.9 177.3,388.8 187.7,382.6 198.1,380.5 208.5,379.4 216.9,382.6 220.0,390.9 220.0,432.6 208.5,434.7 198.1,432.6 187.7,430.5 181.4,426.4 177.3,420.1 166.8,418.0 160.6,418.0 154.3,413.8 153.3,405.5 143.9,406.5 141.8,413.8 133.5,415.9 127.2,422.2 116.8,418.0 110.5,413.8 108.4,405.5 102.2,403.4 95.9,399.2 91.8,393.0Z" fill="#4d7d75" stroke="#4d7d75" stroke-width="0.6"/>
<path d="M92.8,386.7L100.1,382.6L108.4,386.7L116.8,382.6L123.0,384.6L137.6,382.6L146.0,386.7L156.4,388.8L166.8,390.9L177.3,388.8L187.7,382.6L198.1,380.5L208.5,379.4L216.9,382.6L220.0,390.9M220.0,432.6L208.5,434.7L198.1,432.6L187.7,430.5L181.4,426.4L177.3,420.1L166.8,418.0L160.6,418.0L154.3,413.8L153.3,405.5L143.9,406.5L141.8,413.8L133.5,415.9L127.2,422.2L116.8,418.0L110.5,413.8L108.4,405.5L102.2,403.4L95.9,399.2L91.8,393.0L92.8,386.7" fill="none" stroke="#fff" stroke-opacity="0.5" stroke-width="0.8" stroke-linejoin="round"/>
<path d="M139.7,434.7 143.9,428.4 150.1,426.4 158.5,424.3 160.6,418.0 166.8,418.0 177.3,420.1 175.2,428.4 166.8,438.9 158.5,445.1 154.3,453.5 148.1,455.5 143.9,447.2 135.5,440.9Z" fill="#4d7d75" stroke="#4d7d75" stroke-width="0.6"/>
<path d="M139.7,434.7L143.9,428.4L150.1,426.4L158.5,424.3L160.6,418.0L166.8,418.0L177.3,420.1L175.2,428.4L166.8,438.9L158.5,445.1L154.3,453.5L148.1,455.5L143.9,447.2L135.5,440.9L139.7,434.7" fill="none" stroke="#fff" stroke-opacity="0.5" stroke-width="0.8" stroke-linejoin="round"/>
<path d="M110.5,457.6 116.8,453.5 123.0,449.3 130.3,443.0 135.5,440.9 143.9,447.2 146.0,455.5 141.8,459.7 133.5,455.5 127.2,457.6 123.0,466.0 116.8,470.1 112.6,466.0Z" fill="#4d7d75" stroke="#4d7d75" stroke-width="0.6"/>
<path d="M110.5,457.6L116.8,453.5L123.0,449.3L130.3,443.0L135.5,440.9L143.9,447.2L146.0,455.5L141.8,459.7L133.5,455.5L127.2,457.6L123.0,466.0L116.8,470.1L112.6,466.0L110.5,457.6" fill="none" stroke="#fff" stroke-opacity="0.5" stroke-width="0.8" stroke-linejoin="round"/>
<path d="M45.9,493.1 51.1,490.0 60.5,493.1 73.0,497.3 83.4,501.4 77.2,506.6 78.2,513.9 73.0,518.1 62.6,513.9 56.3,518.1 50.0,511.8 51.1,503.5Z" fill="#4d7d75" stroke="#4d7d75" stroke-width="0.6"/>
<path d="M45.9,493.1L51.1,490.0L60.5,493.1L73.0,497.3L83.4,501.4L77.2,506.6L78.2,513.9L73.0,518.1L62.6,513.9L56.3,518.1L50.0,511.8L51.1,503.5L45.9,493.1" fill="none" stroke="#fff" stroke-opacity="0.5" stroke-width="0.8" stroke-linejoin="round"/>
<path d="M190.0,387.8 199.1,385.5 203.6,381.0 212.7,383.3 217.3,392.4 215.0,403.7 219.6,417.4 212.7,426.5 203.6,433.3 190.0,431.0Z" fill="#4d7d75" stroke="#4d7d75" stroke-width="0.6"/>
<path d="M190.0,387.8L199.1,385.5L203.6,381.0L212.7,383.3L217.3,392.4L215.0,403.7L219.6,417.4L212.7,426.5L203.6,433.3L190.0,431.0" fill="none" stroke="#fff" stroke-opacity="0.5" stroke-width="0.8" stroke-linejoin="round"/>
<path d="M236.6,469.7 244.6,460.6 251.4,451.5 262.8,453.8 267.3,462.9 273.0,467.4 271.9,478.8 265.1,487.9 256.0,487.9 251.4,492.5 242.3,490.2 236.6,481.1Z" fill="#4d7d75" stroke="#4d7d75" stroke-width="0.6"/>
<path d="M236.6,469.7L244.6,460.6L251.4,451.5L262.8,453.8L267.3,462.9L273.0,467.4L271.9,478.8L265.1,487.9L256.0,487.9L251.4,492.5L242.3,490.2L236.6,481.1L236.6,469.7" fill="none" stroke="#fff" stroke-opacity="0.5" stroke-width="0.8" stroke-linejoin="round"/>
<path d="M332.2,483.4 340.1,476.5 344.7,481.1 351.5,483.4 350.4,494.7 347.0,500.4 340.1,494.7 333.3,490.2Z" fill="#4d7d75" stroke="#4d7d75" stroke-width="0.6"/>
<path d="M332.2,483.4L340.1,476.5L344.7,481.1L351.5,483.4L350.4,494.7L347.0,500.4L340.1,494.7L333.3,490.2L332.2,483.4" fill="none" stroke="#fff" stroke-opacity="0.5" stroke-width="0.8" stroke-linejoin="round"/>
<path d="M369.7,494.7 378.8,490.2 390.2,487.9 394.7,494.7 403.8,499.3 408.4,508.4 414.1,517.5 408.4,524.3 399.3,526.6 390.2,531.1 385.6,522.0 378.8,515.2 372.0,503.8Z" fill="#4d7d75" stroke="#4d7d75" stroke-width="0.6"/>
<path d="M369.7,494.7L378.8,490.2L390.2,487.9L394.7,494.7L403.8,499.3L408.4,508.4L414.1,517.5L408.4,524.3L399.3,526.6L390.2,531.1L385.6,522.0L378.8,515.2L372.0,503.8L369.7,494.7" fill="none" stroke="#fff" stroke-opacity="0.5" stroke-width="0.8" stroke-linejoin="round"/>
<path d="M348.1,538.0 353.8,528.9 367.4,531.1 376.5,526.6 385.6,522.0 390.2,531.1 387.9,540.2 378.8,547.1 376.5,558.4 374.3,567.5 367.4,565.3 360.6,560.7 358.3,549.3 349.2,544.8Z" fill="#4d7d75" stroke="#4d7d75" stroke-width="0.6"/>
<path d="M348.1,538.0L353.8,528.9L367.4,531.1L376.5,526.6L385.6,522.0L390.2,531.1L387.9,540.2L378.8,547.1L376.5,558.4L374.3,567.5L367.4,565.3L360.6,560.7L358.3,549.3L349.2,544.8L348.1,538.0" fill="none" stroke="#fff" stroke-opacity="0.5" stroke-width="0.8" stroke-linejoin="round"/>
<path d="M373.1,572.1 378.8,565.3 390.2,563.0 401.6,567.5 406.1,576.6 403.8,590.1 372.0,590.1Z" fill="#4d7d75" stroke="#4d7d75" stroke-width="0.6"/>
<path d="M373.1,572.1L378.8,565.3L390.2,563.0L401.6,567.5L406.1,576.6L403.8,590.1M372.0,590.1L373.1,572.1" fill="none" stroke="#fff" stroke-opacity="0.5" stroke-width="0.8" stroke-linejoin="round"/>
<path d="M281.0,583.5 292.4,585.7 303.7,588.0 315.1,581.2 326.5,578.9 333.3,585.7 335.6,590.1 281.0,590.1Z" fill="#4d7d75" stroke="#4d7d75" stroke-width="0.6"/>
<path d="M281.0,583.5L292.4,585.7L303.7,588.0L315.1,581.2L326.5,578.9L333.3,585.7L335.6,590.1M281.0,590.1L281.0,583.5" fill="none" stroke="#fff" stroke-opacity="0.5" stroke-width="0.8" stroke-linejoin="round"/>
<path d="M429.0,473.9 434.2,465.5 438.4,459.3 442.6,453.0 450.9,449.9 463.4,448.9 471.8,450.9 478.0,459.3 484.3,463.5 478.0,467.6 471.8,473.9 463.4,479.1 457.2,485.4 448.8,483.3 438.4,486.4 430.0,484.3Z" fill="#4d7d75" stroke="#4d7d75" stroke-width="0.6"/>
<path d="M429.0,473.9L434.2,465.5L438.4,459.3L442.6,453.0L450.9,449.9L463.4,448.9L471.8,450.9L478.0,459.3L484.3,463.5L478.0,467.6L471.8,473.9L463.4,479.1L457.2,485.4L448.8,483.3L438.4,486.4L430.0,484.3L429.0,473.9" fill="none" stroke="#fff" stroke-opacity="0.5" stroke-width="0.8" stroke-linejoin="round"/>
<path d="M380.0,490.6 390.4,488.5 396.7,494.7 405.0,496.8 411.3,503.1 414.4,517.7 407.1,523.9 392.5,530.2 388.3,536.4 380.0,536.4Z" fill="#4d7d75" stroke="#4d7d75" stroke-width="0.6"/>
<path d="M380.0,490.6L390.4,488.5L396.7,494.7L405.0,496.8L411.3,503.1L414.4,517.7L407.1,523.9L392.5,530.2L388.3,536.4L380.0,536.4" fill="none" stroke="#fff" stroke-opacity="0.5" stroke-width="0.8" stroke-linejoin="round"/>
<path d="M380.0,563.6 392.5,563.6 400.9,567.7 405.0,580.2 400.9,596.9 396.7,610.1 380.0,610.1Z" fill="#4d7d75" stroke="#4d7d75" stroke-width="0.6"/>
<path d="M380.0,563.6L392.5,563.6L400.9,567.7L405.0,580.2L400.9,596.9L396.7,610.1" fill="none" stroke="#fff" stroke-opacity="0.5" stroke-width="0.8" stroke-linejoin="round"/>
<path d="M130.3,770.2 129.2,763.4 133.7,756.6 137.2,747.5 139.4,742.9 146.3,749.8 151.9,756.6 153.1,747.5 158.8,744.1 167.9,745.2 171.3,749.8 167.9,753.2 169.0,758.4 175.1,759.3 176.5,763.9 171.3,765.2 165.6,767.5 147.4,769.6Z" fill="#4d7d75" stroke="#4d7d75" stroke-width="0.6"/>
<path d="M130.3,770.2L129.2,763.4L133.7,756.6L137.2,747.5L139.4,742.9L146.3,749.8L151.9,756.6L153.1,747.5L158.8,744.1L167.9,745.2L171.3,749.8L167.9,753.2L169.0,758.4L175.1,759.3L176.5,763.9L171.3,765.2L165.6,767.5L147.4,769.6L130.3,770.2" fill="none" stroke="#fff" stroke-opacity="0.5" stroke-width="0.8" stroke-linejoin="round"/>
<path d="M249.8,633.7 260.0,638.3 260.0,674.7 252.0,677.0 244.1,674.7 239.5,665.6 238.4,656.5 245.2,653.1 252.0,647.4 249.8,640.6Z" fill="#4d7d75" stroke="#4d7d75" stroke-width="0.6"/>
<path d="M249.8,633.7L260.0,638.3M260.0,674.7L252.0,677.0L244.1,674.7L239.5,665.6L238.4,656.5L245.2,653.1L252.0,647.4L249.8,640.6L249.8,633.7" fill="none" stroke="#fff" stroke-opacity="0.5" stroke-width="0.8" stroke-linejoin="round"/>
<path d="M352.4,540.0 388.8,540.0 377.4,546.8 376.3,555.9 379.7,565.0 372.9,567.3 368.3,562.7 361.5,561.6 359.2,551.4Z" fill="#4d7d75" stroke="#4d7d75" stroke-width="0.6"/>
<path d="M388.8,540.0L377.4,546.8L376.3,555.9L379.7,565.0L372.9,567.3L368.3,562.7L361.5,561.6L359.2,551.4L352.4,540.0" fill="none" stroke="#fff" stroke-opacity="0.5" stroke-width="0.8" stroke-linejoin="round"/>
<path d="M372.9,567.3 379.7,565.0 391.1,563.9 400.2,567.3 404.7,576.4 403.6,585.5 397.9,596.9 388.8,599.1 379.7,594.6 372.9,585.5 370.6,576.4Z" fill="#4d7d75" stroke="#4d7d75" stroke-width="0.6"/>
<path d="M372.9,567.3L379.7,565.0L391.1,563.9L400.2,567.3L404.7,576.4L403.6,585.5L397.9,596.9L388.8,599.1L379.7,594.6L372.9,585.5L370.6,576.4L372.9,567.3" fill="none" stroke="#fff" stroke-opacity="0.5" stroke-width="0.8" stroke-linejoin="round"/>
<path d="M279.6,583.2 286.4,580.9 295.5,586.6 306.9,585.5 316.0,583.2 320.6,578.7 329.7,577.5 334.2,583.2 333.1,591.2 338.8,594.6 345.6,592.3 350.1,599.1 354.7,608.2 359.2,617.3 361.5,624.2 354.7,627.6 347.9,624.2 345.6,631.0 338.8,637.8 334.2,642.4 336.5,653.7 338.8,665.1 345.6,669.7 352.4,676.5 359.2,683.3 368.3,685.6 370.6,694.7 359.2,697.0 350.1,694.7 345.6,703.8 347.9,717.4 345.6,728.8 336.5,737.9 327.4,742.5 321.7,740.2 324.0,726.5 318.3,722.0 316.0,715.2 308.1,710.6 309.2,703.8 304.6,699.2 305.8,690.1 302.4,682.2 293.3,678.8 292.1,669.7 295.5,662.8 300.1,658.3 299.0,649.2 300.1,637.8 295.5,631.0 288.7,626.4 284.2,615.1 280.8,603.7 279.6,592.3Z" fill="#4d7d75" stroke="#4d7d75" stroke-width="0.6"/>
<path d="M279.6,583.2L286.4,580.9L295.5,586.6L306.9,585.5L316.0,583.2L320.6,578.7L329.7,577.5L334.2,583.2L333.1,591.2L338.8,594.6L345.6,592.3L350.1,599.1L354.7,608.2L359.2,617.3L361.5,624.2L354.7,627.6L347.9,624.2L345.6,631.0L338.8,637.8L334.2,642.4L336.5,653.7L338.8,665.1L345.6,669.7L352.4,676.5L359.2,683.3L368.3,685.6L370.6,694.7L359.2,697.0L350.1,694.7L345.6,703.8L347.9,717.4L345.6,728.8L336.5,737.9L327.4,742.5L321.7,740.2L324.0,726.5L318.3,722.0L316.0,715.2L308.1,710.6L309.2,703.8L304.6,699.2L305.8,690.1L302.4,682.2L293.3,678.8L292.1,669.7L295.5,662.8L300.1,658.3L299.0,649.2L300.1,637.8L295.5,631.0L288.7,626.4L284.2,615.1L280.8,603.7L279.6,592.3L279.6,583.2" fill="none" stroke="#fff" stroke-opacity="0.5" stroke-width="0.8" stroke-linejoin="round"/>
<path d="M254.6,640.1 268.2,631.0 272.8,625.3 286.4,625.3 295.5,631.0 300.1,637.8 299.0,649.2 291.0,651.5 281.9,649.2 272.8,653.7 266.0,662.8 256.9,667.4 245.5,674.2 240.9,667.4 238.7,658.3 243.2,653.7 252.3,651.5 256.9,646.9Z" fill="#4d7d75" stroke="#4d7d75" stroke-width="0.6"/>
<path d="M254.6,640.1L268.2,631.0L272.8,625.3L286.4,625.3L295.5,631.0L300.1,637.8L299.0,649.2L291.0,651.5L281.9,649.2L272.8,653.7L266.0,662.8L256.9,667.4L245.5,674.2L240.9,667.4L238.7,658.3L243.2,653.7L252.3,651.5L256.9,646.9L254.6,640.1" fill="none" stroke="#fff" stroke-opacity="0.5" stroke-width="0.8" stroke-linejoin="round"/>
<path d="M272.8,687.9 279.6,684.5 285.3,692.4 289.9,701.5 287.6,710.6 281.9,716.3 277.3,708.3 275.1,699.2Z" fill="#4d7d75" stroke="#4d7d75" stroke-width="0.6"/>
<path d="M272.8,687.9L279.6,684.5L285.3,692.4L289.9,701.5L287.6,710.6L281.9,716.3L277.3,708.3L275.1,699.2L272.8,687.9" fill="none" stroke="#fff" stroke-opacity="0.5" stroke-width="0.8" stroke-linejoin="round"/>
<path d="M396.8,660.6 404.7,653.7 416.1,651.5 425.2,656.0 427.5,665.1 434.3,674.2 432.0,685.6 422.9,692.4 416.1,687.9 404.7,683.3 401.3,674.2 397.9,669.7Z" fill="#4d7d75" stroke="#4d7d75" stroke-width="0.6"/>
<path d="M396.8,660.6L404.7,653.7L416.1,651.5L425.2,656.0L427.5,665.1L434.3,674.2L432.0,685.6L422.9,692.4L416.1,687.9L404.7,683.3L401.3,674.2L397.9,669.7L396.8,660.6" fill="none" stroke="#fff" stroke-opacity="0.5" stroke-width="0.8" stroke-linejoin="round"/>
<path d="M336.5,758.4 345.6,756.1 357.0,758.4 359.2,767.5 359.2,774.3 363.8,781.1 357.0,786.8 347.9,785.7 337.6,788.0 336.5,782.3 330.8,777.7 331.9,767.5Z" fill="#4d7d75" stroke="#4d7d75" stroke-width="0.6"/>
<path d="M336.5,758.4L345.6,756.1L357.0,758.4L359.2,767.5L359.2,774.3L363.8,781.1L357.0,786.8L347.9,785.7L337.6,788.0L336.5,782.3L330.8,777.7L331.9,767.5L336.5,758.4" fill="none" stroke="#fff" stroke-opacity="0.5" stroke-width="0.8" stroke-linejoin="round"/>
<path d="M374.5,569.6 383.6,565.0 395.0,563.9 404.1,571.8 404.1,580.9 399.6,592.3 392.7,598.0 383.6,596.9 376.8,592.3 372.3,583.2Z" fill="#4d7d75" stroke="#4d7d75" stroke-width="0.6"/>
<path d="M374.5,569.6L383.6,565.0L395.0,563.9L404.1,571.8L404.1,580.9L399.6,592.3L392.7,598.0L383.6,596.9L376.8,592.3L372.3,583.2L374.5,569.6" fill="none" stroke="#fff" stroke-opacity="0.5" stroke-width="0.8" stroke-linejoin="round"/>
<path d="M470.1,664.0 476.9,657.2 486.0,653.7 494.0,649.2 501.9,651.5 511.0,654.9 520.1,653.7 521.3,662.8 517.9,670.8 511.0,666.3 504.2,664.0 500.8,668.5 499.7,676.5 494.0,685.6 486.0,692.4 480.3,694.7 474.6,687.9 476.9,678.8 470.1,670.8Z" fill="#4d7d75" stroke="#4d7d75" stroke-width="0.6"/>
<path d="M470.1,664.0L476.9,657.2L486.0,653.7L494.0,649.2L501.9,651.5L511.0,654.9L520.1,653.7L521.3,662.8L517.9,670.8L511.0,666.3L504.2,664.0L500.8,668.5L499.7,676.5L494.0,685.6L486.0,692.4L480.3,694.7L474.6,687.9L476.9,678.8L470.1,670.8L470.1,664.0" fill="none" stroke="#fff" stroke-opacity="0.5" stroke-width="0.8" stroke-linejoin="round"/>
<path d="M396.2,658.3 404.1,652.6 415.5,653.7 424.6,658.3 426.9,667.4 433.7,674.2 434.8,683.3 431.4,687.9 418.9,697.0 415.5,690.1 406.4,684.5 401.8,676.5 397.3,669.7Z" fill="#4d7d75" stroke="#4d7d75" stroke-width="0.6"/>
<path d="M396.2,658.3L404.1,652.6L415.5,653.7L424.6,658.3L426.9,667.4L433.7,674.2L434.8,683.3L431.4,687.9L418.9,697.0L415.5,690.1L406.4,684.5L401.8,676.5L397.3,669.7L396.2,658.3" fill="none" stroke="#fff" stroke-opacity="0.5" stroke-width="0.8" stroke-linejoin="round"/>
<path d="M146.4,299.2 153.3,297.0 159.0,300.4 157.8,306.1 151.0,307.2 146.4,304.9Z" fill="#4192b6" stroke="#4192b6" stroke-width="0.6"/>
<path d="M146.4,299.2L153.3,297.0L159.0,300.4L157.8,306.1L151.0,307.2L146.4,304.9L146.4,299.2" fill="none" stroke="#fff" stroke-opacity="0.5" stroke-width="0.8" stroke-linejoin="round"/>
<path d="M94.1,193.5 96.4,180.9 102.1,169.6 108.9,163.9 119.1,161.6 135.1,160.0 151.0,159.3 154.4,165.0 156.7,178.7 162.4,180.5 166.9,174.1 173.7,171.8 184.0,183.2 182.8,169.6 184.0,153.6 189.7,144.5 196.5,143.4 205.6,148.0 211.3,150.2 219.2,140.0 264.7,140.0 265.9,157.1 257.9,167.3 255.6,176.4 256.8,186.6 248.8,191.2 245.4,198.0 247.7,206.0 252.2,210.5 250.0,218.5 246.5,225.3 250.0,231.0 247.7,236.7 239.7,237.8 235.2,231.0 229.5,231.0 226.1,226.4 222.7,217.3 219.2,216.2 214.7,217.3 209.0,216.2 209.0,219.6 201.0,216.2 193.1,217.3 193.1,229.9 187.4,229.9 189.7,240.1 178.3,249.2 177.2,258.3 169.2,264.0 166.9,274.2 166.9,282.2 157.8,285.6 153.3,278.8 151.0,274.2 155.5,262.8 152.1,258.3 141.9,259.4 131.7,261.7 128.2,258.3 130.5,249.2 138.5,237.8 130.5,228.7 128.2,224.2 124.8,218.5 116.9,219.6 103.2,217.3 102.1,212.8 108.9,198.0Z" fill="#3b2752" stroke="#3b2752" stroke-width="0.6"/>
<path d="M94.1,193.5L96.4,180.9L102.1,169.6L108.9,163.9L119.1,161.6L135.1,160.0L151.0,159.3L154.4,165.0L156.7,178.7L162.4,180.5L166.9,174.1L173.7,171.8L184.0,183.2L182.8,169.6L184.0,153.6L189.7,144.5L196.5,143.4L205.6,148.0L211.3,150.2L219.2,140.0M264.7,140.0L265.9,157.1L257.9,167.3L255.6,176.4L256.8,186.6L248.8,191.2L245.4,198.0L247.7,206.0L252.2,210.5L250.0,218.5L246.5,225.3L250.0,231.0L247.7,236.7L239.7,237.8L235.2,231.0L229.5,231.0L226.1,226.4L222.7,217.3L219.2,216.2L214.7,217.3L209.0,216.2L209.0,219.6L201.0,216.2L193.1,217.3L193.1,229.9L187.4,229.9L189.7,240.1L178.3,249.2L177.2,258.3L169.2,264.0L166.9,274.2L166.9,282.2L157.8,285.6L153.3,278.8L151.0,274.2L155.5,262.8L152.1,258.3L141.9,259.4L131.7,261.7L128.2,258.3L130.5,249.2L138.5,237.8L130.5,228.7L128.2,224.2L124.8,218.5L116.9,219.6L103.2,217.3L102.1,212.8L108.9,198.0L94.1,193.5" fill="none" stroke="#fff" stroke-opacity="0.5" stroke-width="0.8" stroke-linejoin="round"/>
<path d="M73.6,265.1 82.7,262.8 89.6,265.1 94.1,270.8 100.9,273.1 104.4,277.6 102.1,285.6 104.4,297.0 105.5,301.5 91.8,302.7 89.6,294.7 90.7,285.6 85.0,282.2 77.1,281.0 71.4,276.5 70.9,270.8Z" fill="#3b2752" stroke="#3b2752" stroke-width="0.6"/>
<path d="M73.6,265.1L82.7,262.8L89.6,265.1L94.1,270.8L100.9,273.1L104.4,277.6L102.1,285.6L104.4,297.0L105.5,301.5L91.8,302.7L89.6,294.7L90.7,285.6L85.0,282.2L77.1,281.0L71.4,276.5L70.9,270.8L73.6,265.1" fill="none" stroke="#fff" stroke-opacity="0.5" stroke-width="0.8" stroke-linejoin="round"/>
<path d="M94.1,304.9 105.5,301.5 116.9,294.7 126.0,285.6 130.5,289.0 139.6,292.4 145.3,297.0 147.6,303.8 145.3,309.5 147.6,315.2 144.2,319.7 135.1,322.0 128.2,326.5 119.1,325.4 114.6,328.8 103.2,322.0 96.4,315.2 94.1,309.5Z" fill="#3b2752" stroke="#3b2752" stroke-width="0.6"/>
<path d="M94.1,304.9L105.5,301.5L116.9,294.7L126.0,285.6L130.5,289.0L139.6,292.4L145.3,297.0L147.6,303.8L145.3,309.5L147.6,315.2L144.2,319.7L135.1,322.0L128.2,326.5L119.1,325.4L114.6,328.8L103.2,322.0L96.4,315.2L94.1,309.5L94.1,304.9" fill="none" stroke="#fff" stroke-opacity="0.5" stroke-width="0.8" stroke-linejoin="round"/>
<path d="M94.1,304.9 89.6,306.1 80.5,315.2 71.4,319.7 69.1,326.5 75.9,331.1 80.5,340.0 89.6,340.0 90.7,328.8 103.2,322.0 96.4,315.2Z" fill="#3b2752" stroke="#3b2752" stroke-width="0.6"/>
<path d="M94.1,304.9L89.6,306.1L80.5,315.2L71.4,319.7L69.1,326.5L75.9,331.1L80.5,340.0M89.6,340.0L90.7,328.8L103.2,322.0L96.4,315.2L94.1,304.9" fill="none" stroke="#fff" stroke-opacity="0.5" stroke-width="0.8" stroke-linejoin="round"/>
<path d="M191.8,42.7 197.5,41.6 207.8,43.9 216.9,45.5 228.2,47.3 235.1,49.6 240.8,48.4 247.6,44.6 249.9,48.4 255.5,50.7 262.4,53.0 268.7,56.4 271.5,62.1 271.0,68.9 266.9,73.5 262.4,79.1 260.1,84.8 262.4,87.1 271.5,86.0 278.3,86.0 276.0,92.8 274.9,98.5 277.2,106.4 273.7,115.5 269.2,120.1 270.3,126.9 266.9,128.1 260.1,133.7 256.7,140.6 260.1,147.4 265.8,154.2 269.2,161.0 266.9,165.6 260.1,170.1 255.5,174.7 256.7,189.5 246.4,195.2 247.6,202.0 251.0,208.8 248.7,217.9 251.0,224.7 249.9,231.6 244.2,236.1 239.6,238.4 235.1,232.7 230.5,229.3 226.0,223.6 221.4,220.2 220.3,214.5 214.6,216.8 208.9,220.2 200.9,217.9 191.8,215.6 180.5,208.8 160.0,202.0 160.0,188.3 162.3,192.9 166.8,195.2 171.4,189.5 169.1,183.8 168.0,174.7 172.5,170.1 177.1,171.3 181.6,177.0 183.9,183.3 189.6,182.7 190.7,177.0 188.4,172.0 183.9,171.3 182.7,165.6 183.9,156.5 187.3,147.4 191.8,144.0 199.8,144.7 213.5,144.0 211.2,140.6 212.3,133.7 208.9,128.1 203.2,123.5 204.4,117.8 208.9,109.9 205.5,105.3 197.5,103.7 189.6,103.0 189.1,98.5 194.1,93.3 204.4,91.7 211.2,88.2 213.5,83.7 208.9,76.9 205.5,68.9 199.8,58.7 194.1,50.7Z" fill="#3b2752" stroke="#3b2752" stroke-width="0.6"/>
<path d="M191.8,42.7L197.5,41.6L207.8,43.9L216.9,45.5L228.2,47.3L235.1,49.6L240.8,48.4L247.6,44.6L249.9,48.4L255.5,50.7L262.4,53.0L268.7,56.4L271.5,62.1L271.0,68.9L266.9,73.5L262.4,79.1L260.1,84.8L262.4,87.1L271.5,86.0L278.3,86.0L276.0,92.8L274.9,98.5L277.2,106.4L273.7,115.5L269.2,120.1L270.3,126.9L266.9,128.1L260.1,133.7L256.7,140.6L260.1,147.4L265.8,154.2L269.2,161.0L266.9,165.6L260.1,170.1L255.5,174.7L256.7,189.5L246.4,195.2L247.6,202.0L251.0,208.8L248.7,217.9L251.0,224.7L249.9,231.6L244.2,236.1L239.6,238.4L235.1,232.7L230.5,229.3L226.0,223.6L221.4,220.2L220.3,214.5L214.6,216.8L208.9,220.2L200.9,217.9L191.8,215.6L180.5,208.8L160.0,202.0M160.0,188.3L162.3,192.9L166.8,195.2L171.4,189.5L169.1,183.8L168.0,174.7L172.5,170.1L177.1,171.3L181.6,177.0L183.9,183.3L189.6,182.7L190.7,177.0L188.4,172.0L183.9,171.3L182.7,165.6L183.9,156.5L187.3,147.4L191.8,144.0L199.8,144.7L213.5,144.0L211.2,140.6L212.3,133.7L208.9,128.1L203.2,123.5L204.4,117.8L208.9,109.9L205.5,105.3L197.5,103.7L189.6,103.0L189.1,98.5L194.1,93.3L204.4,91.7L211.2,88.2L213.5,83.7L208.9,76.9L205.5,68.9L199.8,58.7L194.1,50.7L191.8,42.7" fill="none" stroke="#fff" stroke-opacity="0.5" stroke-width="0.8" stroke-linejoin="round"/>
<path d="M22.5,342.9 30.2,340.9 35.5,336.7 46.9,339.8 52.1,340.9 60.5,338.8 68.8,335.6 75.1,329.4 73.0,323.1 70.9,320.0 133.5,320.0 129.3,325.2 118.9,329.4 112.6,324.2 102.2,323.1 91.8,328.3 89.7,336.7 91.8,345.0 83.4,348.2 80.3,353.4 82.4,361.7 87.6,365.9 92.8,372.1 91.8,378.4 85.5,375.3 79.2,372.1 73.0,369.0 68.8,372.1 62.6,376.3 60.5,384.6 52.1,384.6 44.8,386.7 37.5,387.8 37.1,380.5 34.4,368.0 29.2,358.6 24.0,351.3Z" fill="#3b2752" stroke="#3b2752" stroke-width="0.6"/>
<path d="M22.5,342.9L30.2,340.9L35.5,336.7L46.9,339.8L52.1,340.9L60.5,338.8L68.8,335.6L75.1,329.4L73.0,323.1L70.9,320.0M133.5,320.0L129.3,325.2L118.9,329.4L112.6,324.2L102.2,323.1L91.8,328.3L89.7,336.7L91.8,345.0L83.4,348.2L80.3,353.4L82.4,361.7L87.6,365.9L92.8,372.1L91.8,378.4L85.5,375.3L79.2,372.1L73.0,369.0L68.8,372.1L62.6,376.3L60.5,384.6L52.1,384.6L44.8,386.7L37.5,387.8L37.1,380.5L34.4,368.0L29.2,358.6L24.0,351.3L22.5,342.9" fill="none" stroke="#fff" stroke-opacity="0.5" stroke-width="0.8" stroke-linejoin="round"/>
<path d="M102.2,403.4 108.4,405.5 110.5,413.8 116.8,418.0 127.2,422.2 133.5,415.9 141.8,413.8 143.9,406.5 153.3,405.5 154.3,413.8 160.6,418.0 158.5,424.3 150.1,426.4 143.9,428.4 139.7,434.7 133.5,433.6 130.3,436.8 127.2,444.1 120.9,445.1 114.7,440.9 110.5,433.6 102.2,430.5 98.0,435.7 92.8,436.8 89.7,428.4 87.6,422.2 91.8,413.8 100.1,411.8Z" fill="#3b2752" stroke="#3b2752" stroke-width="0.6"/>
<path d="M102.2,403.4L108.4,405.5L110.5,413.8L116.8,418.0L127.2,422.2L133.5,415.9L141.8,413.8L143.9,406.5L153.3,405.5L154.3,413.8L160.6,418.0L158.5,424.3L150.1,426.4L143.9,428.4L139.7,434.7L133.5,433.6L130.3,436.8L127.2,444.1L120.9,445.1L114.7,440.9L110.5,433.6L102.2,430.5L98.0,435.7L92.8,436.8L89.7,428.4L87.6,422.2L91.8,413.8L100.1,411.8L102.2,403.4" fill="none" stroke="#fff" stroke-opacity="0.5" stroke-width="0.8" stroke-linejoin="round"/>
<path d="M28.2,501.4 34.4,495.2 40.7,493.1 46.9,495.2 51.1,503.5 50.0,511.8 56.3,518.1 59.4,526.4 56.3,534.8 48.0,537.9 43.8,542.1 37.5,541.0 31.3,536.9 27.1,528.5 24.0,520.2 24.0,511.8Z" fill="#3b2752" stroke="#3b2752" stroke-width="0.6"/>
<path d="M28.2,501.4L34.4,495.2L40.7,493.1L46.9,495.2L51.1,503.5L50.0,511.8L56.3,518.1L59.4,526.4L56.3,534.8L48.0,537.9L43.8,542.1L37.5,541.0L31.3,536.9L27.1,528.5L24.0,520.2L24.0,511.8L28.2,501.4" fill="none" stroke="#fff" stroke-opacity="0.5" stroke-width="0.8" stroke-linejoin="round"/>
<path d="M193.9,553.6 205.4,547.3 211.7,551.5 212.7,559.8 210.6,570.2 206.4,578.6 200.2,578.6 198.1,568.2 195.0,559.8Z" fill="#3b2752" stroke="#3b2752" stroke-width="0.6"/>
<path d="M193.9,553.6L205.4,547.3L211.7,551.5L212.7,559.8L210.6,570.2L206.4,578.6L200.2,578.6L198.1,568.2L195.0,559.8L193.9,553.6" fill="none" stroke="#fff" stroke-opacity="0.5" stroke-width="0.8" stroke-linejoin="round"/>
<path d="M389.1,534.5 399.3,526.6 408.4,524.3 414.1,523.2 422.0,526.6 430.0,531.1 430.0,590.1 403.8,590.1 406.1,576.6 401.6,567.5 390.2,563.0 378.8,565.3 376.5,556.2 378.8,547.1 387.9,542.5Z" fill="#3b2752" stroke="#3b2752" stroke-width="0.6"/>
<path d="M389.1,534.5L399.3,526.6L408.4,524.3L414.1,523.2L422.0,526.6L430.0,531.1M403.8,590.1L406.1,576.6L401.6,567.5L390.2,563.0L378.8,565.3L376.5,556.2L378.8,547.1L387.9,542.5L389.1,534.5" fill="none" stroke="#fff" stroke-opacity="0.5" stroke-width="0.8" stroke-linejoin="round"/>
<path d="M193.4,551.6 201.4,548.2 211.6,547.1 213.9,556.2 211.6,569.8 208.2,578.9 200.2,577.8 198.0,563.0Z" fill="#3b2752" stroke="#3b2752" stroke-width="0.6"/>
<path d="M193.4,551.6L201.4,548.2L211.6,547.1L213.9,556.2L211.6,569.8L208.2,578.9L200.2,577.8L198.0,563.0L193.4,551.6" fill="none" stroke="#fff" stroke-opacity="0.5" stroke-width="0.8" stroke-linejoin="round"/>
<path d="M388.3,536.4 392.5,530.2 407.1,523.9 414.4,517.7 421.7,523.9 429.0,530.2 433.2,536.4 429.0,546.9 425.9,552.1 430.0,557.3 435.3,565.6 440.5,577.1 446.7,586.5 453.0,592.7 463.4,594.8 471.8,603.2 475.9,610.1 396.7,610.1 400.9,596.9 405.0,580.2 400.9,567.7 392.5,563.6 380.0,561.5 380.0,544.8 388.3,546.9Z" fill="#3b2752" stroke="#3b2752" stroke-width="0.6"/>
<path d="M388.3,536.4L392.5,530.2L407.1,523.9L414.4,517.7L421.7,523.9L429.0,530.2L433.2,536.4L429.0,546.9L425.9,552.1L430.0,557.3L435.3,565.6L440.5,577.1L446.7,586.5L453.0,592.7L463.4,594.8L471.8,603.2L475.9,610.1M396.7,610.1L400.9,596.9L405.0,580.2L400.9,567.7L392.5,563.6L380.0,561.5M380.0,544.8L388.3,546.9L388.3,536.4" fill="none" stroke="#fff" stroke-opacity="0.5" stroke-width="0.8" stroke-linejoin="round"/>
<path d="M24.5,520.0 57.5,520.0 58.7,526.8 54.1,535.9 45.0,542.7 38.2,541.6 29.1,531.4Z" fill="#3b2752" stroke="#3b2752" stroke-width="0.6"/>
<path d="M57.5,520.0L58.7,526.8L54.1,535.9L45.0,542.7L38.2,541.6L29.1,531.4L24.5,520.0" fill="none" stroke="#fff" stroke-opacity="0.5" stroke-width="0.8" stroke-linejoin="round"/>
<path d="M194.0,554.1 202.0,548.4 211.1,547.3 214.5,556.4 213.4,567.8 210.0,576.9 202.0,578.0 198.6,570.0 197.4,560.9Z" fill="#3b2752" stroke="#3b2752" stroke-width="0.6"/>
<path d="M194.0,554.1L202.0,548.4L211.1,547.3L214.5,556.4L213.4,567.8L210.0,576.9L202.0,578.0L198.6,570.0L197.4,560.9L194.0,554.1" fill="none" stroke="#fff" stroke-opacity="0.5" stroke-width="0.8" stroke-linejoin="round"/>
<path d="M223.6,711.1 229.3,705.4 238.4,708.8 247.5,711.1 260.0,704.3 260.0,761.1 252.0,758.9 244.1,756.6 236.1,752.0 230.4,742.9 233.8,733.8 242.9,729.3 236.1,724.7 227.0,717.9Z" fill="#3b2752" stroke="#3b2752" stroke-width="0.6"/>
<path d="M223.6,711.1L229.3,705.4L238.4,708.8L247.5,711.1L260.0,704.3M260.0,761.1L252.0,758.9L244.1,756.6L236.1,752.0L230.4,742.9L233.8,733.8L242.9,729.3L236.1,724.7L227.0,717.9L223.6,711.1" fill="none" stroke="#fff" stroke-opacity="0.5" stroke-width="0.8" stroke-linejoin="round"/>
<path d="M246.4,770.2 254.3,766.8 260.0,764.5 260.0,772.5 249.8,773.0Z" fill="#3b2752" stroke="#3b2752" stroke-width="0.6"/>
<path d="M246.4,770.2L254.3,766.8L260.0,764.5M260.0,772.5L249.8,773.0L246.4,770.2" fill="none" stroke="#fff" stroke-opacity="0.5" stroke-width="0.8" stroke-linejoin="round"/>
<path d="M200.0,549.1 206.8,546.8 211.4,553.6 210.2,567.3 209.1,576.4 200.0,577.5Z" fill="#3b2752" stroke="#3b2752" stroke-width="0.6"/>
<path d="M200.0,549.1L206.8,546.8L211.4,553.6L210.2,567.3L209.1,576.4L200.0,577.5" fill="none" stroke="#fff" stroke-opacity="0.5" stroke-width="0.8" stroke-linejoin="round"/>
<path d="M223.9,708.3 231.8,710.6 245.5,709.5 256.9,703.8 263.7,700.4 270.5,706.1 275.1,712.9 278.5,722.0 277.3,731.1 276.2,740.2 277.3,751.6 278.5,759.5 268.2,761.8 259.1,760.7 252.3,758.4 245.5,751.6 236.4,747.0 230.7,740.2 234.1,733.4 243.2,731.1 238.7,724.3 229.6,717.4 225.0,712.9Z" fill="#3b2752" stroke="#3b2752" stroke-width="0.6"/>
<path d="M223.9,708.3L231.8,710.6L245.5,709.5L256.9,703.8L263.7,700.4L270.5,706.1L275.1,712.9L278.5,722.0L277.3,731.1L276.2,740.2L277.3,751.6L278.5,759.5L268.2,761.8L259.1,760.7L252.3,758.4L245.5,751.6L236.4,747.0L230.7,740.2L234.1,733.4L243.2,731.1L238.7,724.3L229.6,717.4L225.0,712.9L223.9,708.3" fill="none" stroke="#fff" stroke-opacity="0.5" stroke-width="0.8" stroke-linejoin="round"/>
<path d="M281.9,685.6 291.0,681.0 302.4,682.2 305.8,690.1 304.6,699.2 309.2,703.8 308.1,710.6 316.0,715.2 318.3,722.0 324.0,726.5 322.8,735.6 320.6,742.5 327.4,744.7 341.0,740.2 350.1,737.9 359.2,742.5 363.8,749.3 363.8,756.1 357.0,758.4 345.6,756.1 336.5,758.4 331.9,767.5 329.7,772.0 318.3,774.3 309.2,773.2 302.4,772.0 301.2,778.9 300.1,786.8 295.5,792.5 288.7,798.2 283.0,799.3 284.2,792.5 278.5,790.2 277.3,784.5 269.4,777.7 272.8,773.2 268.2,765.2 261.4,764.1 254.6,767.5 246.6,770.9 252.3,765.2 268.2,761.8 278.5,759.5 277.3,751.6 279.6,740.2 278.5,728.8 281.9,722.0 289.9,715.2 291.0,708.3 288.7,699.2 283.0,694.7Z" fill="#3b2752" stroke="#3b2752" stroke-width="0.6"/>
<path d="M281.9,685.6L291.0,681.0L302.4,682.2L305.8,690.1L304.6,699.2L309.2,703.8L308.1,710.6L316.0,715.2L318.3,722.0L324.0,726.5L322.8,735.6L320.6,742.5L327.4,744.7L341.0,740.2L350.1,737.9L359.2,742.5L363.8,749.3L363.8,756.1L357.0,758.4L345.6,756.1L336.5,758.4L331.9,767.5L329.7,772.0L318.3,774.3L309.2,773.2L302.4,772.0L301.2,778.9L300.1,786.8L295.5,792.5L288.7,798.2L283.0,799.3L284.2,792.5L278.5,790.2L277.3,784.5L269.4,777.7L272.8,773.2L268.2,765.2L261.4,764.1L254.6,767.5L246.6,770.9L252.3,765.2L268.2,761.8L278.5,759.5L277.3,751.6L279.6,740.2L278.5,728.8L281.9,722.0L289.9,715.2L291.0,708.3L288.7,699.2L283.0,694.7L281.9,685.6" fill="none" stroke="#fff" stroke-opacity="0.5" stroke-width="0.8" stroke-linejoin="round"/>
<path d="M359.2,740.2 368.3,732.2 377.4,735.6 391.1,734.5 388.8,722.0 387.7,708.3 386.5,697.0 393.4,687.9 404.7,683.3 413.8,687.9 419.5,697.0 427.5,692.4 440.0,687.9 440.0,761.8 429.8,758.4 422.9,751.6 416.1,753.8 418.4,758.4 413.8,762.9 404.7,764.1 393.4,765.2 382.0,764.1 372.9,765.2 363.8,768.6 357.0,767.5 359.2,758.4 363.8,756.1 363.8,749.3Z" fill="#3b2752" stroke="#3b2752" stroke-width="0.6"/>
<path d="M359.2,740.2L368.3,732.2L377.4,735.6L391.1,734.5L388.8,722.0L387.7,708.3L386.5,697.0L393.4,687.9L404.7,683.3L413.8,687.9L419.5,697.0L427.5,692.4L440.0,687.9M440.0,761.8L429.8,758.4L422.9,751.6L416.1,753.8L418.4,758.4L413.8,762.9L404.7,764.1L393.4,765.2L382.0,764.1L372.9,765.2L363.8,768.6L357.0,767.5L359.2,758.4L363.8,756.1L363.8,749.3L359.2,740.2" fill="none" stroke="#fff" stroke-opacity="0.5" stroke-width="0.8" stroke-linejoin="round"/>
<path d="M377.4,546.8 388.8,540.0 427.5,540.0 432.0,549.1 436.6,562.7 440.0,569.6 440.0,617.3 432.0,621.9 425.2,612.8 418.4,606.0 411.6,610.5 400.2,606.0 397.9,596.9 403.6,585.5 404.7,576.4 400.2,567.3 391.1,563.9 379.7,565.0 376.3,555.9Z" fill="#3b2752" stroke="#3b2752" stroke-width="0.6"/>
<path d="M377.4,546.8L388.8,540.0M427.5,540.0L432.0,549.1L436.6,562.7L440.0,569.6M440.0,617.3L432.0,621.9L425.2,612.8L418.4,606.0L411.6,610.5L400.2,606.0L397.9,596.9L403.6,585.5L404.7,576.4L400.2,567.3L391.1,563.9L379.7,565.0L376.3,555.9L377.4,546.8" fill="none" stroke="#fff" stroke-opacity="0.5" stroke-width="0.8" stroke-linejoin="round"/>
<path d="M390.5,540.0 428.0,540.0 431.4,549.1 436.0,562.7 438.2,574.1 445.1,583.2 454.2,590.0 463.3,593.5 470.1,601.4 476.9,608.2 483.7,612.8 490.6,619.6 495.1,627.6 504.2,626.4 511.0,633.3 517.9,640.1 521.3,646.9 520.1,653.7 511.0,654.9 501.9,651.5 494.0,649.2 486.0,653.7 481.5,644.6 474.6,637.8 465.5,631.0 457.6,626.4 451.9,617.3 445.1,612.8 433.7,617.3 429.1,621.9 422.3,610.5 410.9,606.0 401.8,608.2 398.4,601.4 399.6,592.3 404.1,580.9 404.1,571.8 397.3,565.0 388.2,562.7 379.1,558.2 376.8,551.4 383.6,544.5Z" fill="#3b2752" stroke="#3b2752" stroke-width="0.6"/>
<path d="M428.0,540.0L431.4,549.1L436.0,562.7L438.2,574.1L445.1,583.2L454.2,590.0L463.3,593.5L470.1,601.4L476.9,608.2L483.7,612.8L490.6,619.6L495.1,627.6L504.2,626.4L511.0,633.3L517.9,640.1L521.3,646.9L520.1,653.7L511.0,654.9L501.9,651.5L494.0,649.2L486.0,653.7L481.5,644.6L474.6,637.8L465.5,631.0L457.6,626.4L451.9,617.3L445.1,612.8L433.7,617.3L429.1,621.9L422.3,610.5L410.9,606.0L401.8,608.2L398.4,601.4L399.6,592.3L404.1,580.9L404.1,571.8L397.3,565.0L388.2,562.7L379.1,558.2L376.8,551.4L383.6,544.5L390.5,540.0" fill="none" stroke="#fff" stroke-opacity="0.5" stroke-width="0.8" stroke-linejoin="round"/>
<path d="M388.2,694.7 395.0,685.6 406.4,684.5 415.5,690.1 418.9,697.0 431.4,687.9 438.2,685.6 436.0,681.0 442.8,676.5 451.9,667.4 461.0,666.3 470.1,670.8 476.9,678.8 474.6,687.9 480.3,694.7 470.1,701.5 461.0,708.3 455.3,715.2 456.4,722.0 463.3,728.8 470.1,737.9 467.8,744.7 463.3,749.3 471.2,752.7 476.9,756.1 478.1,764.1 474.6,772.0 471.2,776.6 465.5,773.2 458.7,768.6 459.9,762.9 454.2,758.4 447.3,757.3 438.2,760.7 430.3,756.1 424.6,755.0 417.8,758.4 415.5,764.1 408.7,764.1 399.6,765.2 392.7,766.4 381.4,767.5 378.0,774.3 370.0,776.6 370.0,733.4 380.2,734.5 388.2,735.6 392.7,731.1 389.3,722.0 388.2,708.3Z" fill="#3b2752" stroke="#3b2752" stroke-width="0.6"/>
<path d="M388.2,694.7L395.0,685.6L406.4,684.5L415.5,690.1L418.9,697.0L431.4,687.9L438.2,685.6L436.0,681.0L442.8,676.5L451.9,667.4L461.0,666.3L470.1,670.8L476.9,678.8L474.6,687.9L480.3,694.7L470.1,701.5L461.0,708.3L455.3,715.2L456.4,722.0L463.3,728.8L470.1,737.9L467.8,744.7L463.3,749.3L471.2,752.7L476.9,756.1L478.1,764.1L474.6,772.0L471.2,776.6L465.5,773.2L458.7,768.6L459.9,762.9L454.2,758.4L447.3,757.3L438.2,760.7L430.3,756.1L424.6,755.0L417.8,758.4L415.5,764.1L408.7,764.1L399.6,765.2L392.7,766.4L381.4,767.5L378.0,774.3L370.0,776.6M370.0,733.4L380.2,734.5L388.2,735.6L392.7,731.1L389.3,722.0L388.2,708.3L388.2,694.7" fill="none" stroke="#fff" stroke-opacity="0.5" stroke-width="0.8" stroke-linejoin="round"/>
<path d="M488.3,664.0 500.8,664.0 497.4,668.5 491.7,667.4Z" fill="#3b2752" stroke="#3b2752" stroke-width="0.6"/>
<path d="M488.3,664.0L500.8,664.0L497.4,668.5L491.7,667.4L488.3,664.0" fill="none" stroke="#fff" stroke-opacity="0.5" stroke-width="0.8" stroke-linejoin="round"/>
<path d="M193.1,217.3 201.0,216.2 209.0,219.6 207.9,227.6 198.8,228.7 194.2,224.2Z" fill="#d4c6b7" stroke="#d4c6b7" stroke-width="0.6"/>
<path d="M193.1,217.3L201.0,216.2L209.0,219.6L207.9,227.6L198.8,228.7L194.2,224.2L193.1,217.3" fill="none" stroke="#fff" stroke-opacity="0.5" stroke-width="0.8" stroke-linejoin="round"/>
<path d="M184.7,172.3 190.1,171.8 191.3,182.1 185.6,183.2Z" fill="#d4c6b7" stroke="#d4c6b7" stroke-width="0.6"/>
<path d="M184.7,172.3L190.1,171.8L191.3,182.1L185.6,183.2L184.7,172.3" fill="none" stroke="#fff" stroke-opacity="0.5" stroke-width="0.8" stroke-linejoin="round"/>
<path d="M455.3,170.8 462.1,166.3 467.8,170.8 465.5,177.6 458.7,178.8Z" fill="#d4c6b7" stroke="#d4c6b7" stroke-width="0.6"/>
<path d="M455.3,170.8L462.1,166.3L467.8,170.8L465.5,177.6L458.7,178.8L455.3,170.8" fill="none" stroke="#fff" stroke-opacity="0.5" stroke-width="0.8" stroke-linejoin="round"/>
<path d="M391.6,112.8 397.3,106.4 401.8,108.2 399.6,117.3 395.0,123.7 390.9,120.8Z" fill="#d4c6b7" stroke="#d4c6b7" stroke-width="0.6"/>
<path d="M391.6,112.8L397.3,106.4L401.8,108.2L399.6,117.3L395.0,123.7L390.9,120.8L391.6,112.8" fill="none" stroke="#fff" stroke-opacity="0.5" stroke-width="0.8" stroke-linejoin="round"/>
<path d="M367.0,314.6 375.4,313.9 376.5,326.4 369.7,327.5 366.1,321.8Z" fill="#d4c6b7" stroke="#d4c6b7" stroke-width="0.6"/>
<path d="M367.0,314.6L375.4,313.9L376.5,326.4L369.7,327.5L366.1,321.8L367.0,314.6" fill="none" stroke="#fff" stroke-opacity="0.5" stroke-width="0.8" stroke-linejoin="round"/>
<path d="M349.2,427.6 357.2,426.9 358.3,437.4 350.4,437.9Z" fill="#d4c6b7" stroke="#d4c6b7" stroke-width="0.6"/>
<path d="M349.2,427.6L357.2,426.9L358.3,437.4L350.4,437.9L349.2,427.6" fill="none" stroke="#fff" stroke-opacity="0.5" stroke-width="0.8" stroke-linejoin="round"/>
<path d="M364.7,432.4 374.3,432.0 375.4,443.6 365.2,444.2Z" fill="#d4c6b7" stroke="#d4c6b7" stroke-width="0.6"/>
<path d="M364.7,432.4L374.3,432.0L375.4,443.6L365.2,444.2L364.7,432.4" fill="none" stroke="#fff" stroke-opacity="0.5" stroke-width="0.8" stroke-linejoin="round"/>
<path d="M402.9,334.2 409.2,333.1 410.2,349.8 402.5,350.9Z" fill="#d4c6b7" stroke="#d4c6b7" stroke-width="0.6"/>
<path d="M402.9,334.2L409.2,333.1L410.2,349.8L402.5,350.9L402.9,334.2" fill="none" stroke="#fff" stroke-opacity="0.5" stroke-width="0.8" stroke-linejoin="round"/>
<use href="#tex" fill="none" stroke="#fff" stroke-opacity="0.5" stroke-width="0.8"/>
<use href="#stb" fill="none" stroke="#fff" stroke-opacity="0.95" stroke-width="2" stroke-linejoin="round" stroke-linecap="round"/>
</g>
<path d="M181.8,27.5 179.1,30.5 175.9,37.7 174.1,44.6 173.2,51.8 171.8,57.1 173.6,59.1 175.9,54.1 176.8,46.8 181.8,45.0 179.1,42.3 179.1,36.4 183.2,30.0Z" fill="#3b2752"/>
<path d="M179.3,59.1 185.0,56.9 189.6,59.1 189.1,63.2 182.7,65.0 179.1,62.8Z" fill="#3b2752"/>
<path d="M174.6,64.6 177.7,65.0 178.2,70.5 175.5,70.0Z" fill="#3b2752"/>
<path d="M185.5,68.2 191.8,66.6 192.3,68.7 186.2,70.0Z" fill="#3b2752"/>
<path d="M190.0,78.0 195.9,76.9 197.1,81.9 191.4,83.7Z" fill="#3b2752"/>
<path d="M201.4,81.0 208.2,79.6 210.5,84.2 203.2,86.4Z" fill="#3b2752"/>
<path d="M72.7,168.2 77.7,166.4 81.8,168.7 79.6,171.8 74.1,171.8Z" fill="#3b2752"/>
<path d="M85.0,162.1 94.1,160.7 94.1,163.0 85.0,164.3Z" fill="#3b2752"/>
<path d="M97.5,159.8 106.6,158.0 106.6,160.2 97.5,162.1Z" fill="#3b2752"/>
<path d="M108.9,157.5 121.4,155.7 121.4,158.0 108.9,159.8Z" fill="#3b2752"/>
<path d="M124.8,154.8 135.1,153.0 135.1,155.2 124.8,157.1Z" fill="#3b2752"/>
<path d="M138.5,152.5 151.0,151.6 151.0,153.9 138.5,154.8Z" fill="#3b2752"/>
<path d="M330.6,81.4 336.3,79.1 342.0,82.6 344.3,88.2 339.7,91.7 334.0,90.5 330.6,87.1Z" fill="#c8dcea"/>
<path d="M448.5,80.9 451.9,69.6 457.6,61.6 465.5,60.0 470.1,62.7 467.8,69.6 474.6,70.7 481.5,68.4 483.7,74.1 481.5,80.9 486.0,87.8 487.2,96.9 483.7,102.6 476.9,104.8 470.1,102.6 463.3,101.4 456.4,96.9 450.8,91.2 448.5,85.5Z" fill="#c8dcea"/>
</g>
<g transform="translate(460,525)">
<path d="M191.8,42.7 194.1,50.7 199.8,58.7 205.5,68.9 208.9,76.9 213.5,83.7 211.2,88.2 204.4,91.7 194.1,93.3 189.1,98.5 189.6,103.0 197.5,103.7 205.5,105.3 208.9,109.9 204.4,117.8 203.2,123.5 208.9,128.1 212.3,133.7 211.2,140.6 213.5,144.0 199.8,144.7 191.8,144.0 187.3,147.4 183.9,156.5 182.7,165.6 183.9,171.3 188.4,172.0 190.7,177.0 189.6,182.7 183.9,183.3 181.6,177.0 177.1,171.3 172.5,170.1 168.0,174.7 169.1,183.8 171.4,189.5 166.8,195.2 162.3,192.9 160.1,188.2 156.7,183.2 155.5,174.1 154.4,168.4 153.3,162.7 151.0,159.3 135.1,160.0 119.1,161.6 108.9,163.9 102.1,169.6 96.4,180.9 94.1,193.5 100.9,195.7 108.9,198.0 105.5,206.0 102.1,212.8 103.2,217.3 102.1,221.9 100.9,231.0 97.5,242.4 94.1,253.7 94.1,264.0 87.3,264.7 82.7,262.8 73.6,265.1 70.9,270.8 71.4,276.5 77.1,281.0 85.0,282.2 90.7,285.6 89.6,294.7 91.8,302.7 89.6,306.1 80.5,315.2 71.4,319.7 69.1,326.5 63.7,333.6 51.6,341.2 36.4,336.7 22.7,341.2 24.0,351.3 29.2,358.6 34.4,368.0 37.1,380.5 37.5,387.8 30.2,396.1 26.1,402.4 20.9,411.8 12.5,419.1 13.6,423.2 20.9,424.3 29.2,428.4 33.4,430.5 29.2,433.6 25.0,436.8 26.1,440.9 19.8,444.1 21.9,449.3 27.1,453.5 31.3,459.7 29.2,466.0 31.3,472.2 39.6,474.3 41.7,478.5 44.8,484.7 50.0,488.9 46.9,493.1 40.7,493.1 34.4,495.2 28.2,501.4 24.0,511.8 24.0,520.2 29.1,531.4 38.2,541.6 45.0,542.7 43.9,549.6 40.5,556.4 37.1,565.5 35.9,572.3 38.2,579.1 42.7,586.0 49.6,595.1 57.5,604.2 63.2,607.6 72.3,605.3 78.0,611.0 86.0,612.1 95.1,611.0 99.6,606.4 104.2,611.0 111.0,616.7 120.1,620.1 129.2,621.2 138.3,622.4 146.3,626.9 153.1,631.5 149.7,640.6 144.0,649.7 137.2,657.6 131.5,665.6 126.9,674.7 123.5,683.8 120.1,695.2 115.5,704.3 111.0,713.4 109.9,722.5 108.7,731.6 107.6,740.7 105.3,749.8 105.3,758.9 108.7,765.7 114.4,771.4 120.1,770.2 124.6,766.8 130.3,770.2 147.4,769.6 165.6,767.5 171.3,765.2 176.5,763.9 175.1,759.3 169.0,758.4 167.9,753.2 172.0,749.8 178.8,748.2 182.0,752.0 188.3,756.6 199.7,759.3 213.4,761.1 224.7,762.3 236.1,765.7 244.1,770.2 249.8,772.5 254.6,767.5 261.4,764.1 268.2,765.2 272.8,773.2 269.4,777.7 277.3,784.5 278.5,790.2 284.2,792.5 283.0,799.3 288.7,798.2 295.5,792.5 300.1,786.8 301.2,778.9 302.4,772.0 309.2,773.2 318.3,774.3 329.7,772.0 330.8,777.7 336.5,782.3 337.6,788.0 347.9,785.7 357.0,786.8 363.8,781.1 359.2,774.3 357.0,767.5 363.8,768.6 372.9,765.2 382.0,764.1 393.4,765.2 404.7,764.1 413.8,762.9 415.5,764.1 417.8,758.4 424.6,755.0 430.3,756.1 438.2,760.7 447.3,757.3 454.2,758.4 459.9,762.9 458.7,768.6 465.5,773.2 471.2,776.6 474.6,772.0 478.1,764.1 476.9,756.1 471.2,752.7 463.3,749.3 467.8,744.7 470.1,737.9 463.3,728.8 456.4,722.0 455.3,715.2 461.0,708.3 470.1,701.5 479.2,697.0 486.0,692.4 494.0,685.6 499.7,676.5 500.8,668.5 504.2,664.0 511.0,666.3 517.9,670.8 521.3,662.8 520.1,653.7 521.3,646.9 517.9,640.1 511.0,633.3 504.2,626.4 495.1,627.6 490.6,619.6 483.7,612.8 476.9,608.2 470.1,601.4 463.3,593.5 454.2,590.0 445.1,583.2 438.2,574.1 436.0,562.7 431.4,549.1 428.0,540.0 433.2,536.4 429.0,530.2 421.7,523.9 414.4,517.7 412.3,507.3 417.5,509.3 419.6,503.1 424.8,494.7 430.0,488.5 438.4,486.4 448.8,483.3 457.2,485.4 463.4,479.1 471.8,473.9 478.0,467.6 484.3,463.5 492.6,460.3 496.8,455.1 505.1,452.0 513.5,448.9 517.6,443.6 526.0,439.5 530.1,434.3 534.3,428.0 538.5,421.8 542.7,418.6 551.0,419.7 557.3,423.8 561.4,430.1 564.5,435.3 570.8,437.4 573.9,432.2 578.1,419.7 581.2,405.1 583.3,392.6 580.2,382.1 576.0,372.7 567.7,367.5 564.5,361.3 562.5,350.9 559.3,342.5 556.2,330.0 558.8,326.6 561.1,317.5 558.8,308.4 555.4,297.1 549.7,290.2 547.4,283.4 550.9,274.3 549.7,265.2 542.9,256.1 533.8,247.0 522.4,240.2 517.9,235.6 520.1,228.8 527.0,224.3 532.7,217.4 534.9,206.1 533.8,197.0 527.0,194.7 531.5,190.1 530.4,181.0 527.0,167.4 522.4,156.0 520.1,151.5 499.7,149.2 496.3,140.1 499.7,141.2 506.5,137.8 515.6,136.7 517.9,133.3 508.8,126.4 499.7,119.6 490.6,110.5 486.0,109.4 476.9,112.8 471.2,115.1 467.8,110.5 461.0,106.0 454.2,101.4 449.6,96.9 447.3,91.2 442.8,86.6 429.1,86.6 415.5,84.4 413.2,92.3 409.8,101.4 404.1,106.0 400.7,104.8 397.3,108.2 392.7,115.1 390.5,119.6 383.6,116.2 373.8,116.7 365.9,119.0 360.2,124.6 355.6,131.5 353.4,136.0 346.5,134.9 337.4,132.6 328.3,131.5 323.8,134.9 319.2,138.3 314.7,133.7 317.0,124.6 321.5,120.1 328.3,113.3 332.9,105.3 334.0,98.5 330.6,95.1 323.8,97.3 317.0,101.9 312.0,106.4 310.6,98.5 305.6,93.9 298.8,91.0 289.7,89.4 282.8,92.8 281.7,88.2 278.3,86.0 271.5,86.0 262.4,87.1 260.1,84.8 262.4,79.1 266.9,73.5 271.0,68.9 271.5,62.1 268.7,56.4 262.4,53.0 255.5,50.7 249.9,48.4 247.6,44.6 240.8,48.4 235.1,49.6 228.2,47.3 216.9,45.5 207.8,43.9 197.5,41.6Z" fill="#e48e9f" stroke="#f4f1ee" stroke-width="1.5" stroke-linejoin="round"/>
<g clip-path="url(#ger)">
<path d="M160.0,179.2 166.8,172.4 173.6,170.1 181.6,177.0 182.7,188.3 175.9,197.4 166.8,199.7 160.0,197.4Z" fill="#f4c6d0" stroke="#f4c6d0" stroke-width="0.6"/>
<path d="M160.0,179.2L166.8,172.4L173.6,170.1L181.6,177.0L182.7,188.3L175.9,197.4L166.8,199.7L160.0,197.4" fill="none" stroke="#fff" stroke-opacity="0.5" stroke-width="0.8" stroke-linejoin="round"/>
<path d="M305.6,300.9 317.0,296.4 327.2,299.8 329.5,311.2 319.2,315.7 307.9,313.5Z" fill="#f4c6d0" stroke="#f4c6d0" stroke-width="0.6"/>
<path d="M305.6,300.9L317.0,296.4L327.2,299.8L329.5,311.2L319.2,315.7L307.9,313.5L305.6,300.9" fill="none" stroke="#fff" stroke-opacity="0.5" stroke-width="0.8" stroke-linejoin="round"/>
<path d="M491.5,167.4 496.0,156.0 500.6,149.2 514.2,151.5 523.3,158.3 527.9,171.9 531.3,185.6 532.4,192.4 523.3,197.0 518.8,199.2 522.2,190.1 521.1,183.3 512.0,182.2 502.9,181.0 498.3,174.2 492.6,176.5Z" fill="#f4c6d0" stroke="#f4c6d0" stroke-width="0.6"/>
<path d="M491.5,167.4L496.0,156.0L500.6,149.2L514.2,151.5L523.3,158.3L527.9,171.9L531.3,185.6L532.4,192.4L523.3,197.0L518.8,199.2L522.2,190.1L521.1,183.3L512.0,182.2L502.9,181.0L498.3,174.2L492.6,176.5L491.5,167.4" fill="none" stroke="#fff" stroke-opacity="0.5" stroke-width="0.8" stroke-linejoin="round"/>
<path d="M408.5,208.3 414.1,203.8 423.2,206.1 434.6,209.5 446.0,212.9 452.8,219.7 455.1,228.8 452.8,240.2 450.5,249.3 446.0,256.1 439.2,258.4 432.3,251.6 423.2,249.3 414.1,251.6 407.3,244.7 409.6,233.4 411.9,222.0 408.5,215.2Z" fill="#f4c6d0" stroke="#f4c6d0" stroke-width="0.6"/>
<path d="M408.5,208.3L414.1,203.8L423.2,206.1L434.6,209.5L446.0,212.9L452.8,219.7L455.1,228.8L452.8,240.2L450.5,249.3L446.0,256.1L439.2,258.4L432.3,251.6L423.2,249.3L414.1,251.6L407.3,244.7L409.6,233.4L411.9,222.0L408.5,215.2L408.5,208.3" fill="none" stroke="#fff" stroke-opacity="0.5" stroke-width="0.8" stroke-linejoin="round"/>
<path d="M405.0,253.8 414.1,251.6 423.2,249.3 432.3,251.6 439.2,258.4 446.0,256.1 455.1,262.9 461.9,267.5 459.6,276.6 455.1,284.5 446.0,286.8 434.6,281.1 423.2,283.4 414.1,288.0 409.6,281.1 405.0,267.5Z" fill="#f4c6d0" stroke="#f4c6d0" stroke-width="0.6"/>
<path d="M405.0,253.8L414.1,251.6L423.2,249.3L432.3,251.6L439.2,258.4L446.0,256.1L455.1,262.9L461.9,267.5L459.6,276.6L455.1,284.5L446.0,286.8L434.6,281.1L423.2,283.4L414.1,288.0L409.6,281.1L405.0,267.5L405.0,253.8" fill="none" stroke="#fff" stroke-opacity="0.5" stroke-width="0.8" stroke-linejoin="round"/>
<path d="M414.6,283.4 433.5,282.3 434.6,290.2 425.5,297.1 415.3,294.8Z" fill="#f4c6d0" stroke="#f4c6d0" stroke-width="0.6"/>
<path d="M414.6,283.4L433.5,282.3L434.6,290.2L425.5,297.1L415.3,294.8L414.6,283.4" fill="none" stroke="#fff" stroke-opacity="0.5" stroke-width="0.8" stroke-linejoin="round"/>
<path d="M455.5,167.4 467.6,166.3 468.7,177.6 457.4,178.8Z" fill="#f4c6d0" stroke="#f4c6d0" stroke-width="0.6"/>
<path d="M455.5,167.4L467.6,166.3L468.7,177.6L457.4,178.8L455.5,167.4" fill="none" stroke="#fff" stroke-opacity="0.5" stroke-width="0.8" stroke-linejoin="round"/>
<path d="M33.4,428.4 41.7,424.3 50.0,422.2 52.1,428.4 62.6,445.1 66.7,451.4 75.1,445.1 83.4,443.0 89.7,438.9 91.8,430.5 100.1,426.4 108.4,420.1 116.8,415.9 123.0,419.1 131.4,420.1 131.4,432.6 133.5,436.8 141.8,432.6 146.0,426.4 158.5,422.2 171.0,418.0 179.3,420.1 177.3,428.4 173.1,436.8 164.7,443.0 156.4,445.1 154.3,455.5 162.7,463.9 171.0,470.1 179.3,474.3 183.5,480.6 177.3,484.7 168.9,486.8 164.7,493.1 158.5,486.8 152.2,478.5 146.0,474.3 141.8,482.7 143.9,491.0 135.5,493.1 125.1,486.8 116.8,482.7 108.4,486.8 98.0,482.7 87.6,486.8 79.2,488.9 68.8,493.1 64.6,486.8 66.7,478.5 73.0,474.3 62.6,472.2 52.1,478.5 43.8,484.7 39.6,474.3 31.3,472.2 29.2,466.0 31.3,459.7 27.1,453.5 21.9,449.3 19.8,444.1 26.1,440.9 25.0,436.8 29.2,433.6Z" fill="#f4c6d0" stroke="#f4c6d0" stroke-width="0.6"/>
<path d="M33.4,428.4L41.7,424.3L50.0,422.2L52.1,428.4L62.6,445.1L66.7,451.4L75.1,445.1L83.4,443.0L89.7,438.9L91.8,430.5L100.1,426.4L108.4,420.1L116.8,415.9L123.0,419.1L131.4,420.1L131.4,432.6L133.5,436.8L141.8,432.6L146.0,426.4L158.5,422.2L171.0,418.0L179.3,420.1L177.3,428.4L173.1,436.8L164.7,443.0L156.4,445.1L154.3,455.5L162.7,463.9L171.0,470.1L179.3,474.3L183.5,480.6L177.3,484.7L168.9,486.8L164.7,493.1L158.5,486.8L152.2,478.5L146.0,474.3L141.8,482.7L143.9,491.0L135.5,493.1L125.1,486.8L116.8,482.7L108.4,486.8L98.0,482.7L87.6,486.8L79.2,488.9L68.8,493.1L64.6,486.8L66.7,478.5L73.0,474.3L62.6,472.2L52.1,478.5L43.8,484.7L39.6,474.3L31.3,472.2L29.2,466.0L31.3,459.7L27.1,453.5L21.9,449.3L19.8,444.1L26.1,440.9L25.0,436.8L29.2,433.6L33.4,428.4" fill="none" stroke="#fff" stroke-opacity="0.5" stroke-width="0.8" stroke-linejoin="round"/>
<path d="M60.5,382.6 68.8,372.1 79.2,375.3 86.5,377.3 92.8,376.3 106.4,370.0 120.9,372.1 123.0,382.6 116.8,390.9 112.6,403.4 104.3,407.6 91.8,405.5 79.2,403.4 68.8,401.3 60.5,399.2 57.3,401.3 56.3,397.2 52.1,391.9Z" fill="#f4c6d0" stroke="#f4c6d0" stroke-width="0.6"/>
<path d="M60.5,382.6L68.8,372.1L79.2,375.3L86.5,377.3L92.8,376.3L106.4,370.0L120.9,372.1L123.0,382.6L116.8,390.9L112.6,403.4L104.3,407.6L91.8,405.5L79.2,403.4L68.8,401.3L60.5,399.2L57.3,401.3L56.3,397.2L52.1,391.9L60.5,382.6" fill="none" stroke="#fff" stroke-opacity="0.5" stroke-width="0.8" stroke-linejoin="round"/>
<path d="M105.3,541.0 112.6,532.7 120.9,528.5 127.2,524.4 135.5,528.5 146.0,530.6 156.4,528.5 164.7,536.9 166.8,549.4 164.7,557.7 162.7,566.1 160.6,578.6 166.8,589.0 164.7,600.1 129.3,600.1 133.5,591.1 146.0,580.7 150.1,570.2 143.9,559.8 133.5,553.6 125.1,555.6 116.8,551.5 108.4,549.4Z" fill="#f4c6d0" stroke="#f4c6d0" stroke-width="0.6"/>
<path d="M105.3,541.0L112.6,532.7L120.9,528.5L127.2,524.4L135.5,528.5L146.0,530.6L156.4,528.5L164.7,536.9L166.8,549.4L164.7,557.7L162.7,566.1L160.6,578.6L166.8,589.0L164.7,600.1M129.3,600.1L133.5,591.1L146.0,580.7L150.1,570.2L143.9,559.8L133.5,553.6L125.1,555.6L116.8,551.5L108.4,549.4L105.3,541.0" fill="none" stroke="#fff" stroke-opacity="0.5" stroke-width="0.8" stroke-linejoin="round"/>
<path d="M36.5,572.3 52.1,570.2 68.8,566.1 83.4,568.2 93.8,572.3 95.9,582.7 91.8,600.1 50.0,600.1 39.6,582.7Z" fill="#f4c6d0" stroke="#f4c6d0" stroke-width="0.6"/>
<path d="M36.5,572.3L52.1,570.2L68.8,566.1L83.4,568.2L93.8,572.3L95.9,582.7L91.8,600.1M50.0,600.1L39.6,582.7L36.5,572.3" fill="none" stroke="#fff" stroke-opacity="0.5" stroke-width="0.8" stroke-linejoin="round"/>
<path d="M164.7,493.1 173.1,486.8 181.4,491.0 186.6,499.3 181.4,505.6 173.1,503.5 166.8,499.3Z" fill="#f4c6d0" stroke="#f4c6d0" stroke-width="0.6"/>
<path d="M164.7,493.1L173.1,486.8L181.4,491.0L186.6,499.3L181.4,505.6L173.1,503.5L166.8,499.3L164.7,493.1" fill="none" stroke="#fff" stroke-opacity="0.5" stroke-width="0.8" stroke-linejoin="round"/>
<path d="M162.4,174.1 171.5,170.7 180.6,176.4 184.0,185.5 187.4,196.9 187.4,215.1 182.8,218.5 173.7,216.2 169.2,208.2 166.9,196.9 163.5,185.5Z" fill="#f4c6d0" stroke="#f4c6d0" stroke-width="0.6"/>
<path d="M162.4,174.1L171.5,170.7L180.6,176.4L184.0,185.5L187.4,196.9L187.4,215.1L182.8,218.5L173.7,216.2L169.2,208.2L166.9,196.9L163.5,185.5L162.4,174.1" fill="none" stroke="#fff" stroke-opacity="0.5" stroke-width="0.8" stroke-linejoin="round"/>
<path d="M284.1,312.9 294.3,308.3 300.0,312.9 298.9,328.8 289.8,333.4 284.1,326.5Z" fill="#f4c6d0" stroke="#f4c6d0" stroke-width="0.6"/>
<path d="M284.1,312.9L294.3,308.3L300.0,312.9L298.9,328.8L289.8,333.4L284.1,326.5L284.1,312.9" fill="none" stroke="#fff" stroke-opacity="0.5" stroke-width="0.8" stroke-linejoin="round"/>
<path d="M296.9,296.8 308.3,294.5 317.4,299.1 326.5,294.5 333.3,303.6 331.0,315.0 321.9,319.6 312.8,312.7 303.7,310.5 298.1,305.9Z" fill="#f4c6d0" stroke="#f4c6d0" stroke-width="0.6"/>
<path d="M296.9,296.8L308.3,294.5L317.4,299.1L326.5,294.5L333.3,303.6L331.0,315.0L321.9,319.6L312.8,312.7L303.7,310.5L298.1,305.9L296.9,296.8" fill="none" stroke="#fff" stroke-opacity="0.5" stroke-width="0.8" stroke-linejoin="round"/>
<path d="M485.5,421.8 495.9,415.5 504.3,410.3 510.5,409.2 521.0,417.6 537.7,415.5 552.3,417.6 558.5,423.8 556.4,430.1 546.0,432.2 533.5,438.4 525.1,443.6 516.8,448.9 508.5,450.9 500.1,452.0 493.9,446.8 488.6,434.3Z" fill="#f4c6d0" stroke="#f4c6d0" stroke-width="0.6"/>
<path d="M485.5,421.8L495.9,415.5L504.3,410.3L510.5,409.2L521.0,417.6L537.7,415.5L552.3,417.6L558.5,423.8L556.4,430.1L546.0,432.2L533.5,438.4L525.1,443.6L516.8,448.9L508.5,450.9L500.1,452.0L493.9,446.8L488.6,434.3L485.5,421.8" fill="none" stroke="#fff" stroke-opacity="0.5" stroke-width="0.8" stroke-linejoin="round"/>
<path d="M410.0,387.3 425.0,386.3 426.1,401.9 411.5,403.0Z" fill="#f4c6d0" stroke="#f4c6d0" stroke-width="0.6"/>
<path d="M410.0,387.3L425.0,386.3L426.1,401.9L411.5,403.0L410.0,387.3" fill="none" stroke="#fff" stroke-opacity="0.5" stroke-width="0.8" stroke-linejoin="round"/>
<path d="M445.5,438.4 461.5,437.4 462.6,452.0 446.9,453.0Z" fill="#f4c6d0" stroke="#f4c6d0" stroke-width="0.6"/>
<path d="M445.5,438.4L461.5,437.4L462.6,452.0L446.9,453.0L445.5,438.4" fill="none" stroke="#fff" stroke-opacity="0.5" stroke-width="0.8" stroke-linejoin="round"/>
<path d="M37.1,572.3 49.6,568.9 60.9,567.8 72.3,564.4 86.0,565.5 95.1,570.0 96.2,579.1 97.3,588.2 95.1,599.6 96.2,609.9 86.0,612.1 78.0,611.0 72.3,605.3 63.2,607.6 57.5,604.2 49.6,595.1 42.7,586.0 38.2,579.1Z" fill="#f4c6d0" stroke="#f4c6d0" stroke-width="0.6"/>
<path d="M37.1,572.3L49.6,568.9L60.9,567.8L72.3,564.4L86.0,565.5L95.1,570.0L96.2,579.1L97.3,588.2L95.1,599.6L96.2,609.9L86.0,612.1L78.0,611.0L72.3,605.3L63.2,607.6L57.5,604.2L49.6,595.1L42.7,586.0L38.2,579.1L37.1,572.3" fill="none" stroke="#fff" stroke-opacity="0.5" stroke-width="0.8" stroke-linejoin="round"/>
<path d="M106.4,542.7 115.5,535.9 122.4,529.1 129.2,526.8 147.4,526.8 161.0,533.6 165.6,542.7 167.9,554.1 165.6,565.5 169.0,574.6 167.9,588.2 165.6,597.3 156.5,601.9 147.4,597.3 142.8,588.2 133.7,579.1 126.9,570.0 124.6,560.9 117.8,554.1 108.7,551.8Z" fill="#f4c6d0" stroke="#f4c6d0" stroke-width="0.6"/>
<path d="M106.4,542.7L115.5,535.9L122.4,529.1L129.2,526.8L147.4,526.8L161.0,533.6L165.6,542.7L167.9,554.1L165.6,565.5L169.0,574.6L167.9,588.2L165.6,597.3L156.5,601.9L147.4,597.3L142.8,588.2L133.7,579.1L126.9,570.0L124.6,560.9L117.8,554.1L108.7,551.8L106.4,542.7" fill="none" stroke="#fff" stroke-opacity="0.5" stroke-width="0.8" stroke-linejoin="round"/>
<path d="M133.7,599.6 142.8,595.1 156.5,599.6 158.8,611.0 154.2,620.1 145.1,624.6 136.0,620.1 132.6,611.0Z" fill="#f4c6d0" stroke="#f4c6d0" stroke-width="0.6"/>
<path d="M133.7,599.6L142.8,595.1L156.5,599.6L158.8,611.0L154.2,620.1L145.1,624.6L136.0,620.1L132.6,611.0L133.7,599.6" fill="none" stroke="#fff" stroke-opacity="0.5" stroke-width="0.8" stroke-linejoin="round"/>
<path d="M165.6,606.4 174.7,601.9 188.3,606.4 195.2,611.0 197.4,622.4 188.3,626.9 179.2,629.2 177.0,638.3 167.9,645.1 161.0,638.3 159.9,629.2 165.6,620.1Z" fill="#f4c6d0" stroke="#f4c6d0" stroke-width="0.6"/>
<path d="M165.6,606.4L174.7,601.9L188.3,606.4L195.2,611.0L197.4,622.4L188.3,626.9L179.2,629.2L177.0,638.3L167.9,645.1L161.0,638.3L159.9,629.2L165.6,620.1L165.6,606.4" fill="none" stroke="#fff" stroke-opacity="0.5" stroke-width="0.8" stroke-linejoin="round"/>
<path d="M109.9,717.9 120.1,715.6 131.5,720.2 142.8,722.5 154.2,729.3 165.6,738.4 170.1,745.2 158.8,744.1 151.9,747.5 142.8,745.2 137.2,747.5 133.7,756.6 129.2,763.4 130.3,770.2 124.6,766.8 120.1,770.2 114.4,771.4 108.7,765.7 105.3,758.9 105.3,749.8 107.6,740.7 108.7,731.6Z" fill="#f4c6d0" stroke="#f4c6d0" stroke-width="0.6"/>
<path d="M109.9,717.9L120.1,715.6L131.5,720.2L142.8,722.5L154.2,729.3L165.6,738.4L170.1,745.2L158.8,744.1L151.9,747.5L142.8,745.2L137.2,747.5L133.7,756.6L129.2,763.4L130.3,770.2L124.6,766.8L120.1,770.2L114.4,771.4L108.7,765.7L105.3,758.9L105.3,749.8L107.6,740.7L108.7,731.6L109.9,717.9" fill="none" stroke="#fff" stroke-opacity="0.5" stroke-width="0.8" stroke-linejoin="round"/>
<path d="M278.5,746.2 284.2,734.8 295.5,730.3 309.2,725.7 320.6,718.9 325.1,709.8 333.1,705.3 338.8,708.7 345.6,712.1 359.2,714.4 363.8,707.5 372.9,703.0 382.0,705.3 388.8,709.8 400.2,712.1 411.6,709.8 418.4,714.4 427.5,718.9 434.3,734.8 429.8,748.5 427.5,757.6 416.1,762.1 404.7,764.4 393.4,765.5 382.0,764.4 372.9,765.5 363.8,769.0 359.2,778.1 357.0,787.2 347.9,788.3 336.5,787.2 331.9,778.1 329.7,771.2 318.3,773.5 309.2,771.2 302.4,771.2 301.2,778.1 300.1,786.0 295.5,791.7 288.7,797.4 283.0,798.5 284.2,791.7 278.5,789.4 277.3,783.7 269.4,776.9 272.8,772.4 268.2,764.4 275.1,762.1 278.5,757.6Z" fill="#f4c6d0" stroke="#f4c6d0" stroke-width="0.6"/>
<path d="M278.5,746.2L284.2,734.8L295.5,730.3L309.2,725.7L320.6,718.9L325.1,709.8L333.1,705.3L338.8,708.7L345.6,712.1L359.2,714.4L363.8,707.5L372.9,703.0L382.0,705.3L388.8,709.8L400.2,712.1L411.6,709.8L418.4,714.4L427.5,718.9L434.3,734.8L429.8,748.5L427.5,757.6L416.1,762.1L404.7,764.4L393.4,765.5L382.0,764.4L372.9,765.5L363.8,769.0L359.2,778.1L357.0,787.2L347.9,788.3L336.5,787.2L331.9,778.1L329.7,771.2L318.3,773.5L309.2,771.2L302.4,771.2L301.2,778.1L300.1,786.0L295.5,791.7L288.7,797.4L283.0,798.5L284.2,791.7L278.5,789.4L277.3,783.7L269.4,776.9L272.8,772.4L268.2,764.4L275.1,762.1L278.5,757.6L278.5,746.2" fill="none" stroke="#fff" stroke-opacity="0.5" stroke-width="0.8" stroke-linejoin="round"/>
<path d="M330.8,566.5 345.6,565.4 350.1,580.1 345.6,596.1 334.2,598.3 329.7,584.7Z" fill="#f4c6d0" stroke="#f4c6d0" stroke-width="0.6"/>
<path d="M330.8,566.5L345.6,565.4L350.1,580.1L345.6,596.1L334.2,598.3L329.7,584.7L330.8,566.5" fill="none" stroke="#fff" stroke-opacity="0.5" stroke-width="0.8" stroke-linejoin="round"/>
<path d="M452.8,618.8 459.6,612.0 473.3,609.7 484.7,616.5 491.5,625.6 502.9,627.9 514.2,634.7 522.2,643.8 521.1,652.9 512.0,655.2 500.6,652.9 493.8,649.5 486.9,648.4 482.4,639.3 475.6,632.5 468.7,630.2 458.5,630.2Z" fill="#f4c6d0" stroke="#f4c6d0" stroke-width="0.6"/>
<path d="M452.8,618.8L459.6,612.0L473.3,609.7L484.7,616.5L491.5,625.6L502.9,627.9L514.2,634.7L522.2,643.8L521.1,652.9L512.0,655.2L500.6,652.9L493.8,649.5L486.9,648.4L482.4,639.3L475.6,632.5L468.7,630.2L458.5,630.2L452.8,618.8" fill="none" stroke="#fff" stroke-opacity="0.5" stroke-width="0.8" stroke-linejoin="round"/>
<path d="M355.0,703.0 368.6,700.7 377.7,709.8 388.0,712.1 400.5,712.1 411.9,709.8 418.7,714.4 427.8,718.9 430.1,730.3 432.3,743.9 427.8,757.6 423.2,759.9 411.9,764.4 400.5,765.5 389.1,764.4 377.7,766.7 368.6,775.8 355.0,771.2Z" fill="#f4c6d0" stroke="#f4c6d0" stroke-width="0.6"/>
<path d="M355.0,703.0L368.6,700.7L377.7,709.8L388.0,712.1L400.5,712.1L411.9,709.8L418.7,714.4L427.8,718.9L430.1,730.3L432.3,743.9L427.8,757.6L423.2,759.9L411.9,764.4L400.5,765.5L389.1,764.4L377.7,766.7L368.6,775.8L355.0,771.2" fill="none" stroke="#fff" stroke-opacity="0.5" stroke-width="0.8" stroke-linejoin="round"/>
<path d="M455.1,753.0 464.2,750.8 475.6,755.3 479.0,764.4 475.6,776.9 466.5,773.5 459.6,764.4Z" fill="#f4c6d0" stroke="#f4c6d0" stroke-width="0.6"/>
<path d="M455.1,753.0L464.2,750.8L475.6,755.3L479.0,764.4L475.6,776.9L466.5,773.5L459.6,764.4L455.1,753.0" fill="none" stroke="#fff" stroke-opacity="0.5" stroke-width="0.8" stroke-linejoin="round"/>
<path d="M454.0,731.4 466.5,730.3 471.0,739.4 466.5,749.6 457.4,750.8 455.1,739.4Z" fill="#f4c6d0" stroke="#f4c6d0" stroke-width="0.6"/>
<path d="M454.0,731.4L466.5,730.3L471.0,739.4L466.5,749.6L457.4,750.8L455.1,739.4L454.0,731.4" fill="none" stroke="#fff" stroke-opacity="0.5" stroke-width="0.8" stroke-linejoin="round"/>
<path d="M191.8,42.7 218.0,46.2 220.3,60.9 226.0,68.9 229.4,79.1 230.5,88.2 226.0,96.2 218.0,98.5 211.2,96.2 205.5,105.3 197.5,103.7 189.6,103.0 189.1,98.5 194.1,93.3 204.4,91.7 211.2,88.2 213.5,83.7 208.9,76.9 205.5,68.9 199.8,58.7 194.1,50.7Z" fill="#d6476a" stroke="#d6476a" stroke-width="0.6"/>
<path d="M191.8,42.7L218.0,46.2L220.3,60.9L226.0,68.9L229.4,79.1L230.5,88.2L226.0,96.2L218.0,98.5L211.2,96.2L205.5,105.3L197.5,103.7L189.6,103.0L189.1,98.5L194.1,93.3L204.4,91.7L211.2,88.2L213.5,83.7L208.9,76.9L205.5,68.9L199.8,58.7L194.1,50.7L191.8,42.7" fill="none" stroke="#fff" stroke-opacity="0.5" stroke-width="0.8" stroke-linejoin="round"/>
<path d="M237.3,97.3 246.4,88.2 255.5,79.1 262.4,74.6 266.9,73.5 271.0,68.9 262.4,79.1 260.1,84.8 262.4,87.1 271.5,86.0 278.3,86.0 281.7,88.2 282.8,92.8 289.7,89.4 298.8,91.0 305.6,93.9 310.6,98.5 312.0,106.4 317.0,101.9 323.8,97.3 330.6,95.1 334.0,98.5 332.9,105.3 328.3,113.3 321.5,120.1 317.0,124.6 314.7,133.7 319.2,138.3 314.7,140.6 305.6,142.8 303.3,138.3 302.2,129.2 296.5,124.6 287.4,123.5 278.3,125.8 271.5,129.2 260.1,133.7 256.7,140.6 251.0,142.8 247.6,149.7 244.2,158.8 237.3,154.2 230.5,147.4 224.8,140.6 228.2,133.7 230.5,125.8 235.1,120.1 237.3,111.0Z" fill="#d6476a" stroke="#d6476a" stroke-width="0.6"/>
<path d="M237.3,97.3L246.4,88.2L255.5,79.1L262.4,74.6L266.9,73.5L271.0,68.9L262.4,79.1L260.1,84.8L262.4,87.1L271.5,86.0L278.3,86.0L281.7,88.2L282.8,92.8L289.7,89.4L298.8,91.0L305.6,93.9L310.6,98.5L312.0,106.4L317.0,101.9L323.8,97.3L330.6,95.1L334.0,98.5L332.9,105.3L328.3,113.3L321.5,120.1L317.0,124.6L314.7,133.7L319.2,138.3L314.7,140.6L305.6,142.8L303.3,138.3L302.2,129.2L296.5,124.6L287.4,123.5L278.3,125.8L271.5,129.2L260.1,133.7L256.7,140.6L251.0,142.8L247.6,149.7L244.2,158.8L237.3,154.2L230.5,147.4L224.8,140.6L228.2,133.7L230.5,125.8L235.1,120.1L237.3,111.0L237.3,97.3" fill="none" stroke="#fff" stroke-opacity="0.5" stroke-width="0.8" stroke-linejoin="round"/>
<path d="M213.5,146.3 223.7,147.4 228.2,156.5 235.1,165.6 241.9,172.4 251.0,179.2 255.5,183.8 256.7,189.5 251.0,192.9 246.4,197.4 239.6,195.2 235.1,188.3 228.2,183.8 221.4,177.0 223.7,167.9 227.1,161.0 222.6,154.2 215.7,150.8Z" fill="#d6476a" stroke="#d6476a" stroke-width="0.6"/>
<path d="M213.5,146.3L223.7,147.4L228.2,156.5L235.1,165.6L241.9,172.4L251.0,179.2L255.5,183.8L256.7,189.5L251.0,192.9L246.4,197.4L239.6,195.2L235.1,188.3L228.2,183.8L221.4,177.0L223.7,167.9L227.1,161.0L222.6,154.2L215.7,150.8L213.5,146.3" fill="none" stroke="#fff" stroke-opacity="0.5" stroke-width="0.8" stroke-linejoin="round"/>
<path d="M246.4,197.4 256.7,189.5 266.9,188.3 282.8,188.3 285.1,195.2 284.0,204.3 278.3,212.2 271.5,215.6 264.6,212.2 257.8,213.4 251.0,208.8 247.6,202.0Z" fill="#d6476a" stroke="#d6476a" stroke-width="0.6"/>
<path d="M246.4,197.4L256.7,189.5L266.9,188.3L282.8,188.3L285.1,195.2L284.0,204.3L278.3,212.2L271.5,215.6L264.6,212.2L257.8,213.4L251.0,208.8L247.6,202.0L246.4,197.4" fill="none" stroke="#fff" stroke-opacity="0.5" stroke-width="0.8" stroke-linejoin="round"/>
<path d="M296.5,165.6 301.0,157.6 310.1,154.2 319.2,158.8 324.9,165.6 322.7,174.7 317.0,179.2 307.9,183.8 296.5,188.3 289.7,183.8 287.4,179.2 294.2,174.7Z" fill="#d6476a" stroke="#d6476a" stroke-width="0.6"/>
<path d="M296.5,165.6L301.0,157.6L310.1,154.2L319.2,158.8L324.9,165.6L322.7,174.7L317.0,179.2L307.9,183.8L296.5,188.3L289.7,183.8L287.4,179.2L294.2,174.7L296.5,165.6" fill="none" stroke="#fff" stroke-opacity="0.5" stroke-width="0.8" stroke-linejoin="round"/>
<path d="M284.0,224.7 291.9,217.9 301.0,212.2 307.9,215.6 317.0,222.5 322.7,229.3 323.8,238.4 319.2,247.5 312.4,252.0 303.3,249.8 294.2,247.5 287.4,240.7 284.0,233.8Z" fill="#d6476a" stroke="#d6476a" stroke-width="0.6"/>
<path d="M284.0,224.7L291.9,217.9L301.0,212.2L307.9,215.6L317.0,222.5L322.7,229.3L323.8,238.4L319.2,247.5L312.4,252.0L303.3,249.8L294.2,247.5L287.4,240.7L284.0,233.8L284.0,224.7" fill="none" stroke="#fff" stroke-opacity="0.5" stroke-width="0.8" stroke-linejoin="round"/>
<path d="M319.2,220.2 326.1,213.4 337.4,215.6 348.8,222.5 357.9,227.0 360.2,233.8 353.4,240.7 342.0,240.7 330.6,245.2 322.7,242.9 323.8,233.8 322.7,229.3Z" fill="#d6476a" stroke="#d6476a" stroke-width="0.6"/>
<path d="M319.2,220.2L326.1,213.4L337.4,215.6L348.8,222.5L357.9,227.0L360.2,233.8L353.4,240.7L342.0,240.7L330.6,245.2L322.7,242.9L323.8,233.8L322.7,229.3L319.2,220.2" fill="none" stroke="#fff" stroke-opacity="0.5" stroke-width="0.8" stroke-linejoin="round"/>
<path d="M255.5,265.7 260.1,256.6 264.6,247.5 273.7,240.7 284.0,238.4 291.9,247.5 296.5,252.0 294.2,261.1 289.7,273.6 278.3,274.8 266.9,272.5 257.8,270.2Z" fill="#d6476a" stroke="#d6476a" stroke-width="0.6"/>
<path d="M255.5,265.7L260.1,256.6L264.6,247.5L273.7,240.7L284.0,238.4L291.9,247.5L296.5,252.0L294.2,261.1L289.7,273.6L278.3,274.8L266.9,272.5L257.8,270.2L255.5,265.7" fill="none" stroke="#fff" stroke-opacity="0.5" stroke-width="0.8" stroke-linejoin="round"/>
<path d="M226.0,277.1 235.1,270.2 246.4,266.8 253.3,270.2 266.9,272.5 278.3,274.8 282.8,283.9 278.3,293.0 269.2,299.8 260.1,306.6 255.5,315.7 251.0,320.1 235.1,320.1 232.8,311.2 228.2,304.4 226.0,293.0Z" fill="#d6476a" stroke="#d6476a" stroke-width="0.6"/>
<path d="M226.0,277.1L235.1,270.2L246.4,266.8L253.3,270.2L266.9,272.5L278.3,274.8L282.8,283.9L278.3,293.0L269.2,299.8L260.1,306.6L255.5,315.7L251.0,320.1M235.1,320.1L232.8,311.2L228.2,304.4L226.0,293.0L226.0,277.1" fill="none" stroke="#fff" stroke-opacity="0.5" stroke-width="0.8" stroke-linejoin="round"/>
<path d="M329.5,283.9 339.7,286.2 353.4,288.4 364.7,286.2 373.8,293.0 387.5,288.4 400.0,286.2 400.0,320.1 337.4,320.1 335.2,304.4Z" fill="#d6476a" stroke="#d6476a" stroke-width="0.6"/>
<path d="M329.5,283.9L339.7,286.2L353.4,288.4L364.7,286.2L373.8,293.0L387.5,288.4L400.0,286.2M337.4,320.1L335.2,304.4L329.5,283.9" fill="none" stroke="#fff" stroke-opacity="0.5" stroke-width="0.8" stroke-linejoin="round"/>
<path d="M375.0,138.3 382.9,133.7 389.8,140.6 400.0,142.8 400.0,165.6 392.0,161.0 385.2,154.2 378.4,149.7Z" fill="#d6476a" stroke="#d6476a" stroke-width="0.6"/>
<path d="M375.0,138.3L382.9,133.7L389.8,140.6L400.0,142.8M400.0,165.6L392.0,161.0L385.2,154.2L378.4,149.7L375.0,138.3" fill="none" stroke="#fff" stroke-opacity="0.5" stroke-width="0.8" stroke-linejoin="round"/>
<path d="M376.6,140.1 384.6,135.5 391.4,140.1 400.5,135.5 407.3,132.1 416.4,133.3 425.5,127.6 434.6,131.0 432.3,142.4 427.8,151.5 425.5,162.8 418.7,164.0 414.1,161.7 411.9,171.9 405.0,170.8 398.2,162.8 391.4,153.7 382.3,149.2 375.5,146.9Z" fill="#d6476a" stroke="#d6476a" stroke-width="0.6"/>
<path d="M376.6,140.1L384.6,135.5L391.4,140.1L400.5,135.5L407.3,132.1L416.4,133.3L425.5,127.6L434.6,131.0L432.3,142.4L427.8,151.5L425.5,162.8L418.7,164.0L414.1,161.7L411.9,171.9L405.0,170.8L398.2,162.8L391.4,153.7L382.3,149.2L375.5,146.9L376.6,140.1" fill="none" stroke="#fff" stroke-opacity="0.5" stroke-width="0.8" stroke-linejoin="round"/>
<path d="M452.8,313.0 459.6,301.6 466.5,294.8 473.3,289.1 479.0,294.8 482.4,303.9 486.9,308.4 491.5,322.1 489.2,333.5 482.4,340.1 455.1,340.1 446.0,331.2 450.5,324.4Z" fill="#d6476a" stroke="#d6476a" stroke-width="0.6"/>
<path d="M452.8,313.0L459.6,301.6L466.5,294.8L473.3,289.1L479.0,294.8L482.4,303.9L486.9,308.4L491.5,322.1L489.2,333.5L482.4,340.1M455.1,340.1L446.0,331.2L450.5,324.4L452.8,313.0" fill="none" stroke="#fff" stroke-opacity="0.5" stroke-width="0.8" stroke-linejoin="round"/>
<path d="M355.0,288.0 366.4,285.7 377.7,292.5 391.4,281.1 409.6,284.5 408.5,308.4 406.2,319.8 389.1,328.9 377.7,322.1 368.6,333.5 355.0,333.5Z" fill="#d6476a" stroke="#d6476a" stroke-width="0.6"/>
<path d="M355.0,288.0L366.4,285.7L377.7,292.5L391.4,281.1L409.6,284.5L408.5,308.4L406.2,319.8L389.1,328.9L377.7,322.1L368.6,333.5L355.0,333.5" fill="none" stroke="#fff" stroke-opacity="0.5" stroke-width="0.8" stroke-linejoin="round"/>
<path d="M411.9,328.9 430.1,331.2 446.0,333.5 455.1,340.1 411.9,340.1Z" fill="#d6476a" stroke="#d6476a" stroke-width="0.6"/>
<path d="M411.9,328.9L430.1,331.2L446.0,333.5L455.1,340.1M411.9,340.1L411.9,328.9" fill="none" stroke="#fff" stroke-opacity="0.5" stroke-width="0.8" stroke-linejoin="round"/>
<path d="M123.0,383.6 136.6,382.1 139.7,393.0 141.8,403.4 139.7,411.8 133.5,413.8 131.4,420.1 123.0,419.1 116.8,413.8 111.6,409.7 116.8,403.4 120.9,399.2 122.0,388.8Z" fill="#d6476a" stroke="#d6476a" stroke-width="0.6"/>
<path d="M123.0,383.6L136.6,382.1L139.7,393.0L141.8,403.4L139.7,411.8L133.5,413.8L131.4,420.1L123.0,419.1L116.8,413.8L111.6,409.7L116.8,403.4L120.9,399.2L122.0,388.8L123.0,383.6" fill="none" stroke="#fff" stroke-opacity="0.5" stroke-width="0.8" stroke-linejoin="round"/>
<path d="M183.5,397.2 191.8,393.0 203.3,388.8 208.5,382.6 220.0,386.7 220.0,420.1 214.8,424.3 210.6,432.6 200.2,433.6 187.7,431.6 181.4,426.4 185.6,415.9 191.8,407.6 187.7,403.4Z" fill="#d6476a" stroke="#d6476a" stroke-width="0.6"/>
<path d="M183.5,397.2L191.8,393.0L203.3,388.8L208.5,382.6L220.0,386.7M220.0,420.1L214.8,424.3L210.6,432.6L200.2,433.6L187.7,431.6L181.4,426.4L185.6,415.9L191.8,407.6L187.7,403.4L183.5,397.2" fill="none" stroke="#fff" stroke-opacity="0.5" stroke-width="0.8" stroke-linejoin="round"/>
<path d="M204.4,457.6 212.7,449.3 220.0,447.2 220.0,484.7 214.8,482.7 210.6,472.2 206.4,466.0Z" fill="#d6476a" stroke="#d6476a" stroke-width="0.6"/>
<path d="M204.4,457.6L212.7,449.3L220.0,447.2M220.0,484.7L214.8,482.7L210.6,472.2L206.4,466.0L204.4,457.6" fill="none" stroke="#fff" stroke-opacity="0.5" stroke-width="0.8" stroke-linejoin="round"/>
<path d="M177.3,541.0 183.5,534.8 193.9,536.9 202.3,531.7 208.5,536.9 206.4,547.3 198.1,551.5 191.8,555.6 183.5,553.6 178.3,549.4Z" fill="#d6476a" stroke="#d6476a" stroke-width="0.6"/>
<path d="M177.3,541.0L183.5,534.8L193.9,536.9L202.3,531.7L208.5,536.9L206.4,547.3L198.1,551.5L191.8,555.6L183.5,553.6L178.3,549.4L177.3,541.0" fill="none" stroke="#fff" stroke-opacity="0.5" stroke-width="0.8" stroke-linejoin="round"/>
<path d="M94.1,183.2 100.9,169.6 110.0,162.7 121.4,162.7 119.1,171.8 123.7,178.7 132.8,185.5 139.6,192.3 132.8,194.6 123.7,192.3 112.3,191.2 103.2,193.5 94.1,193.5Z" fill="#d6476a" stroke="#d6476a" stroke-width="0.6"/>
<path d="M94.1,183.2L100.9,169.6L110.0,162.7L121.4,162.7L119.1,171.8L123.7,178.7L132.8,185.5L139.6,192.3L132.8,194.6L123.7,192.3L112.3,191.2L103.2,193.5L94.1,193.5L94.1,183.2" fill="none" stroke="#fff" stroke-opacity="0.5" stroke-width="0.8" stroke-linejoin="round"/>
<path d="M135.1,208.2 144.2,198.0 151.0,201.4 157.8,208.2 160.1,218.5 155.5,221.9 151.0,219.6 139.6,215.1Z" fill="#d6476a" stroke="#d6476a" stroke-width="0.6"/>
<path d="M135.1,208.2L144.2,198.0L151.0,201.4L157.8,208.2L160.1,218.5L155.5,221.9L151.0,219.6L139.6,215.1L135.1,208.2" fill="none" stroke="#fff" stroke-opacity="0.5" stroke-width="0.8" stroke-linejoin="round"/>
<path d="M212.4,149.1 228.3,146.8 239.7,160.5 248.8,171.8 256.8,176.4 256.8,186.6 278.4,188.9 285.2,196.9 284.1,208.2 276.1,216.2 267.0,212.8 260.2,209.4 252.2,210.5 248.8,206.0 244.3,196.9 237.4,194.6 230.6,185.5 223.8,179.8 219.2,169.6 221.5,160.5Z" fill="#d6476a" stroke="#d6476a" stroke-width="0.6"/>
<path d="M212.4,149.1L228.3,146.8L239.7,160.5L248.8,171.8L256.8,176.4L256.8,186.6L278.4,188.9L285.2,196.9L284.1,208.2L276.1,216.2L267.0,212.8L260.2,209.4L252.2,210.5L248.8,206.0L244.3,196.9L237.4,194.6L230.6,185.5L223.8,179.8L219.2,169.6L221.5,160.5L212.4,149.1" fill="none" stroke="#fff" stroke-opacity="0.5" stroke-width="0.8" stroke-linejoin="round"/>
<path d="M226.1,276.5 232.9,271.9 242.0,267.4 251.1,267.4 260.2,274.2 273.8,276.5 278.4,285.6 276.1,297.0 264.7,303.8 257.9,308.3 251.1,317.4 242.0,326.5 235.2,333.4 228.3,340.2 221.5,328.8 217.0,319.7 210.1,315.2 207.9,308.3 210.1,297.0 217.0,292.4 223.8,287.9Z" fill="#d6476a" stroke="#d6476a" stroke-width="0.6"/>
<path d="M226.1,276.5L232.9,271.9L242.0,267.4L251.1,267.4L260.2,274.2L273.8,276.5L278.4,285.6L276.1,297.0L264.7,303.8L257.9,308.3L251.1,317.4L242.0,326.5L235.2,333.4L228.3,340.2L221.5,328.8L217.0,319.7L210.1,315.2L207.9,308.3L210.1,297.0L217.0,292.4L223.8,287.9L226.1,276.5" fill="none" stroke="#fff" stroke-opacity="0.5" stroke-width="0.8" stroke-linejoin="round"/>
<path d="M260.2,249.2 264.7,242.4 273.8,240.1 282.9,235.5 292.0,240.1 300.0,242.4 300.0,267.4 294.3,276.5 282.9,274.2 273.8,276.5 260.2,274.2 255.6,267.4 255.6,258.3Z" fill="#d6476a" stroke="#d6476a" stroke-width="0.6"/>
<path d="M260.2,249.2L264.7,242.4L273.8,240.1L282.9,235.5L292.0,240.1L300.0,242.4M300.0,267.4L294.3,276.5L282.9,274.2L273.8,276.5L260.2,274.2L255.6,267.4L255.6,258.3L260.2,249.2" fill="none" stroke="#fff" stroke-opacity="0.5" stroke-width="0.8" stroke-linejoin="round"/>
<path d="M239.7,358.4 248.8,349.3 257.9,342.5 269.3,340.2 278.4,344.7 285.2,356.1 292.0,367.5 287.5,376.6 278.4,381.1 264.7,385.7 255.6,390.2 248.8,385.7 246.5,374.3 237.4,367.5Z" fill="#d6476a" stroke="#d6476a" stroke-width="0.6"/>
<path d="M239.7,358.4L248.8,349.3L257.9,342.5L269.3,340.2L278.4,344.7L285.2,356.1L292.0,367.5L287.5,376.6L278.4,381.1L264.7,385.7L255.6,390.2L248.8,385.7L246.5,374.3L237.4,367.5L239.7,358.4" fill="none" stroke="#fff" stroke-opacity="0.5" stroke-width="0.8" stroke-linejoin="round"/>
<path d="M182.8,397.1 189.7,390.2 201.0,385.7 205.6,378.9 214.7,381.1 219.2,384.5 223.8,394.8 221.5,406.2 219.2,419.8 212.4,431.2 201.0,433.5 189.7,435.7 182.8,428.9 187.4,417.5 185.1,406.2Z" fill="#d6476a" stroke="#d6476a" stroke-width="0.6"/>
<path d="M182.8,397.1L189.7,390.2L201.0,385.7L205.6,378.9L214.7,381.1L219.2,384.5L223.8,394.8L221.5,406.2L219.2,419.8L212.4,431.2L201.0,433.5L189.7,435.7L182.8,428.9L187.4,417.5L185.1,406.2L182.8,397.1" fill="none" stroke="#fff" stroke-opacity="0.5" stroke-width="0.8" stroke-linejoin="round"/>
<path d="M121.4,385.7 130.5,382.3 138.5,383.4 140.8,397.1 139.6,410.7 132.8,419.8 121.4,420.9 112.3,413.0 111.2,403.9 119.1,397.1Z" fill="#d6476a" stroke="#d6476a" stroke-width="0.6"/>
<path d="M121.4,385.7L130.5,382.3L138.5,383.4L140.8,397.1L139.6,410.7L132.8,419.8L121.4,420.9L112.3,413.0L111.2,403.9L119.1,397.1L121.4,385.7" fill="none" stroke="#fff" stroke-opacity="0.5" stroke-width="0.8" stroke-linejoin="round"/>
<path d="M212.7,299.1 215.0,290.0 278.7,290.0 276.4,299.1 267.3,303.6 258.2,310.5 249.1,319.6 242.3,326.4 235.5,333.2 226.4,330.9 219.6,324.1 219.6,312.7Z" fill="#d6476a" stroke="#d6476a" stroke-width="0.6"/>
<path d="M212.7,299.1L215.0,290.0M278.7,290.0L276.4,299.1L267.3,303.6L258.2,310.5L249.1,319.6L242.3,326.4L235.5,333.2L226.4,330.9L219.6,324.1L219.6,312.7L212.7,299.1" fill="none" stroke="#fff" stroke-opacity="0.5" stroke-width="0.8" stroke-linejoin="round"/>
<path d="M238.9,360.5 249.1,351.4 265.1,342.3 276.4,340.0 279.9,353.7 278.7,362.8 267.3,367.3 253.7,369.6 242.3,368.5Z" fill="#d6476a" stroke="#d6476a" stroke-width="0.6"/>
<path d="M238.9,360.5L249.1,351.4L265.1,342.3L276.4,340.0L279.9,353.7L278.7,362.8L267.3,367.3L253.7,369.6L242.3,368.5L238.9,360.5" fill="none" stroke="#fff" stroke-opacity="0.5" stroke-width="0.8" stroke-linejoin="round"/>
<path d="M246.9,374.2 256.0,369.6 269.6,368.5 281.0,367.3 290.1,374.2 281.0,381.0 269.6,387.8 258.2,392.4 249.1,394.6 245.7,385.5Z" fill="#d6476a" stroke="#d6476a" stroke-width="0.6"/>
<path d="M246.9,374.2L256.0,369.6L269.6,368.5L281.0,367.3L290.1,374.2L281.0,381.0L269.6,387.8L258.2,392.4L249.1,394.6L245.7,385.5L246.9,374.2" fill="none" stroke="#fff" stroke-opacity="0.5" stroke-width="0.8" stroke-linejoin="round"/>
<path d="M217.3,385.5 224.1,378.7 233.2,371.9 244.6,369.6 246.9,381.0 245.7,390.1 242.3,399.2 235.5,403.7 226.4,407.2 219.6,403.7 215.0,394.6Z" fill="#d6476a" stroke="#d6476a" stroke-width="0.6"/>
<path d="M217.3,385.5L224.1,378.7L233.2,371.9L244.6,369.6L246.9,381.0L245.7,390.1L242.3,399.2L235.5,403.7L226.4,407.2L219.6,403.7L215.0,394.6L217.3,385.5" fill="none" stroke="#fff" stroke-opacity="0.5" stroke-width="0.8" stroke-linejoin="round"/>
<path d="M190.0,385.5 203.6,381.0 215.0,390.1 219.6,403.7 219.6,419.7 211.6,432.2 203.6,435.6 190.0,433.3Z" fill="#d6476a" stroke="#d6476a" stroke-width="0.6"/>
<path d="M190.0,385.5L203.6,381.0L215.0,390.1L219.6,403.7L219.6,419.7L211.6,432.2L203.6,435.6L190.0,433.3" fill="none" stroke="#fff" stroke-opacity="0.5" stroke-width="0.8" stroke-linejoin="round"/>
<path d="M242.3,435.6 246.9,426.5 256.0,423.1 267.3,426.5 271.9,435.6 267.3,447.0 265.1,456.1 256.0,458.3 246.9,456.1 238.9,447.0Z" fill="#d6476a" stroke="#d6476a" stroke-width="0.6"/>
<path d="M242.3,435.6L246.9,426.5L256.0,423.1L267.3,426.5L271.9,435.6L267.3,447.0L265.1,456.1L256.0,458.3L246.9,456.1L238.9,447.0L242.3,435.6" fill="none" stroke="#fff" stroke-opacity="0.5" stroke-width="0.8" stroke-linejoin="round"/>
<path d="M203.6,458.3 212.7,449.2 219.6,447.0 230.9,451.5 238.9,447.0 246.9,456.1 244.6,467.4 237.8,474.3 235.5,483.4 224.1,487.9 215.0,478.8 208.2,469.7Z" fill="#d6476a" stroke="#d6476a" stroke-width="0.6"/>
<path d="M203.6,458.3L212.7,449.2L219.6,447.0L230.9,451.5L238.9,447.0L246.9,456.1L244.6,467.4L237.8,474.3L235.5,483.4L224.1,487.9L215.0,478.8L208.2,469.7L203.6,458.3" fill="none" stroke="#fff" stroke-opacity="0.5" stroke-width="0.8" stroke-linejoin="round"/>
<path d="M237.8,474.3 244.6,467.4 246.9,456.1 256.0,458.3 265.1,456.1 271.9,462.9 273.0,472.0 267.3,483.4 258.2,487.9 249.1,492.5 240.0,487.9 235.5,483.4Z" fill="#d6476a" stroke="#d6476a" stroke-width="0.6"/>
<path d="M237.8,474.3L244.6,467.4L246.9,456.1L256.0,458.3L265.1,456.1L271.9,462.9L273.0,472.0L267.3,483.4L258.2,487.9L249.1,492.5L240.0,487.9L235.5,483.4L237.8,474.3" fill="none" stroke="#fff" stroke-opacity="0.5" stroke-width="0.8" stroke-linejoin="round"/>
<path d="M283.3,458.3 292.4,451.5 301.5,449.2 308.3,458.3 317.4,460.6 312.8,467.4 306.0,472.0 303.7,483.4 296.9,487.9 290.1,478.8 285.5,469.7Z" fill="#d6476a" stroke="#d6476a" stroke-width="0.6"/>
<path d="M283.3,458.3L292.4,451.5L301.5,449.2L308.3,458.3L317.4,460.6L312.8,467.4L306.0,472.0L303.7,483.4L296.9,487.9L290.1,478.8L285.5,469.7L283.3,458.3" fill="none" stroke="#fff" stroke-opacity="0.5" stroke-width="0.8" stroke-linejoin="round"/>
<path d="M268.5,490.2 276.4,478.8 285.5,483.4 294.6,492.5 303.7,499.3 308.3,506.1 301.5,508.4 290.1,503.8 281.0,501.6 271.9,499.3Z" fill="#d6476a" stroke="#d6476a" stroke-width="0.6"/>
<path d="M268.5,490.2L276.4,478.8L285.5,483.4L294.6,492.5L303.7,499.3L308.3,506.1L301.5,508.4L290.1,503.8L281.0,501.6L271.9,499.3L268.5,490.2" fill="none" stroke="#fff" stroke-opacity="0.5" stroke-width="0.8" stroke-linejoin="round"/>
<path d="M296.9,517.5 303.7,509.5 315.1,508.4 321.9,515.2 319.7,526.6 315.1,535.7 308.3,542.5 301.5,535.7 296.9,526.6Z" fill="#d6476a" stroke="#d6476a" stroke-width="0.6"/>
<path d="M296.9,517.5L303.7,509.5L315.1,508.4L321.9,515.2L319.7,526.6L315.1,535.7L308.3,542.5L301.5,535.7L296.9,526.6L296.9,517.5" fill="none" stroke="#fff" stroke-opacity="0.5" stroke-width="0.8" stroke-linejoin="round"/>
<path d="M335.6,290.0 408.4,290.0 406.1,301.4 408.4,312.7 399.3,321.8 390.2,327.5 381.1,324.1 372.0,330.9 362.9,333.2 353.8,338.9 347.0,335.5 344.7,326.4 335.6,324.1 332.2,312.7 335.6,301.4Z" fill="#d6476a" stroke="#d6476a" stroke-width="0.6"/>
<path d="M408.4,290.0L406.1,301.4L408.4,312.7L399.3,321.8L390.2,327.5L381.1,324.1L372.0,330.9L362.9,333.2L353.8,338.9L347.0,335.5L344.7,326.4L335.6,324.1L332.2,312.7L335.6,301.4L335.6,290.0" fill="none" stroke="#fff" stroke-opacity="0.5" stroke-width="0.8" stroke-linejoin="round"/>
<path d="M362.9,392.4 369.7,385.5 376.5,376.4 383.4,366.2 394.7,365.1 403.8,371.9 406.1,385.5 401.6,396.9 390.2,403.7 378.8,401.5 367.4,399.2Z" fill="#d6476a" stroke="#d6476a" stroke-width="0.6"/>
<path d="M362.9,392.4L369.7,385.5L376.5,376.4L383.4,366.2L394.7,365.1L403.8,371.9L406.1,385.5L401.6,396.9L390.2,403.7L378.8,401.5L367.4,399.2L362.9,392.4" fill="none" stroke="#fff" stroke-opacity="0.5" stroke-width="0.8" stroke-linejoin="round"/>
<path d="M414.1,330.9 422.0,327.5 430.0,330.9 430.0,358.2 419.8,360.5 415.2,351.4Z" fill="#d6476a" stroke="#d6476a" stroke-width="0.6"/>
<path d="M414.1,330.9L422.0,327.5L430.0,330.9M430.0,358.2L419.8,360.5L415.2,351.4L414.1,330.9" fill="none" stroke="#fff" stroke-opacity="0.5" stroke-width="0.8" stroke-linejoin="round"/>
<path d="M344.7,435.6 349.2,424.2 360.6,420.8 372.0,421.9 372.0,428.8 369.7,437.9 362.9,444.7 353.8,449.2 347.0,444.7Z" fill="#d6476a" stroke="#d6476a" stroke-width="0.6"/>
<path d="M344.7,435.6L349.2,424.2L360.6,420.8L372.0,421.9L372.0,428.8L369.7,437.9L362.9,444.7L353.8,449.2L347.0,444.7L344.7,435.6" fill="none" stroke="#fff" stroke-opacity="0.5" stroke-width="0.8" stroke-linejoin="round"/>
<path d="M391.3,453.8 394.7,442.4 401.6,435.6 408.4,437.9 411.8,449.2 412.9,460.6 406.1,465.2 399.3,469.7 392.5,465.2Z" fill="#d6476a" stroke="#d6476a" stroke-width="0.6"/>
<path d="M391.3,453.8L394.7,442.4L401.6,435.6L408.4,437.9L411.8,449.2L412.9,460.6L406.1,465.2L399.3,469.7L392.5,465.2L391.3,453.8" fill="none" stroke="#fff" stroke-opacity="0.5" stroke-width="0.8" stroke-linejoin="round"/>
<path d="M390.2,534.5 399.3,531.1 410.7,528.9 422.0,524.3 430.0,526.6 430.0,547.1 417.5,549.3 406.1,547.1 394.7,547.1Z" fill="#d6476a" stroke="#d6476a" stroke-width="0.6"/>
<path d="M390.2,534.5L399.3,531.1L410.7,528.9L422.0,524.3L430.0,526.6M430.0,547.1L417.5,549.3L406.1,547.1L394.7,547.1L390.2,534.5" fill="none" stroke="#fff" stroke-opacity="0.5" stroke-width="0.8" stroke-linejoin="round"/>
<path d="M372.0,572.1 378.8,565.3 390.2,563.0 401.6,567.5 405.0,576.6 402.7,590.1 372.0,590.1Z" fill="#d6476a" stroke="#d6476a" stroke-width="0.6"/>
<path d="M372.0,572.1L378.8,565.3L390.2,563.0L401.6,567.5L405.0,576.6L402.7,590.1M372.0,590.1L372.0,572.1" fill="none" stroke="#fff" stroke-opacity="0.5" stroke-width="0.8" stroke-linejoin="round"/>
<path d="M213.9,542.5 221.8,538.0 227.5,547.1 228.7,555.0 227.5,563.0 221.8,569.8 215.0,567.5 212.7,556.2Z" fill="#d6476a" stroke="#d6476a" stroke-width="0.6"/>
<path d="M213.9,542.5L221.8,538.0L227.5,547.1L228.7,555.0L227.5,563.0L221.8,569.8L215.0,567.5L212.7,556.2L213.9,542.5" fill="none" stroke="#fff" stroke-opacity="0.5" stroke-width="0.8" stroke-linejoin="round"/>
<path d="M251.4,547.1 258.2,540.2 269.6,536.8 281.0,542.5 290.1,547.1 294.6,558.4 287.8,567.5 276.4,569.8 274.2,558.4 265.1,553.9 256.0,556.2Z" fill="#d6476a" stroke="#d6476a" stroke-width="0.6"/>
<path d="M251.4,547.1L258.2,540.2L269.6,536.8L281.0,542.5L290.1,547.1L294.6,558.4L287.8,567.5L276.4,569.8L274.2,558.4L265.1,553.9L256.0,556.2L251.4,547.1" fill="none" stroke="#fff" stroke-opacity="0.5" stroke-width="0.8" stroke-linejoin="round"/>
<path d="M190.0,535.7 199.1,531.1 207.1,538.0 205.9,549.3 196.8,556.2 190.0,553.9Z" fill="#d6476a" stroke="#d6476a" stroke-width="0.6"/>
<path d="M190.0,535.7L199.1,531.1L207.1,538.0L205.9,549.3L196.8,556.2L190.0,553.9" fill="none" stroke="#fff" stroke-opacity="0.5" stroke-width="0.8" stroke-linejoin="round"/>
<path d="M412.5,330.0 464.7,330.0 466.8,342.5 465.7,352.9 462.6,359.2 454.2,361.3 443.8,360.2 435.5,363.4 427.1,361.3 416.7,357.1 413.6,346.7 414.6,338.3Z" fill="#d6476a" stroke="#d6476a" stroke-width="0.6"/>
<path d="M464.7,330.0L466.8,342.5L465.7,352.9L462.6,359.2L454.2,361.3L443.8,360.2L435.5,363.4L427.1,361.3L416.7,357.1L413.6,346.7L414.6,338.3L412.5,330.0" fill="none" stroke="#fff" stroke-opacity="0.5" stroke-width="0.8" stroke-linejoin="round"/>
<path d="M407.3,380.0 412.5,371.7 425.0,366.5 441.7,364.4 456.3,365.5 464.7,371.7 468.8,382.1 469.9,394.6 466.8,403.0 458.4,404.0 452.2,398.8 454.2,390.5 450.1,384.2 439.6,381.1 431.3,384.2 425.0,386.3 416.7,385.3 408.4,386.3Z" fill="#d6476a" stroke="#d6476a" stroke-width="0.6"/>
<path d="M407.3,380.0L412.5,371.7L425.0,366.5L441.7,364.4L456.3,365.5L464.7,371.7L468.8,382.1L469.9,394.6L466.8,403.0L458.4,404.0L452.2,398.8L454.2,390.5L450.1,384.2L439.6,381.1L431.3,384.2L425.0,386.3L416.7,385.3L408.4,386.3L407.3,380.0" fill="none" stroke="#fff" stroke-opacity="0.5" stroke-width="0.8" stroke-linejoin="round"/>
<path d="M466.8,344.6 479.3,346.7 487.6,350.9 498.0,352.9 508.5,359.2 510.5,365.5 500.1,371.7 495.9,375.9 500.1,386.3 489.7,387.3 479.3,382.1 470.9,386.3 469.9,375.9 467.8,365.5 464.7,357.1Z" fill="#d6476a" stroke="#d6476a" stroke-width="0.6"/>
<path d="M466.8,344.6L479.3,346.7L487.6,350.9L498.0,352.9L508.5,359.2L510.5,365.5L500.1,371.7L495.9,375.9L500.1,386.3L489.7,387.3L479.3,382.1L470.9,386.3L469.9,375.9L467.8,365.5L464.7,357.1L466.8,344.6" fill="none" stroke="#fff" stroke-opacity="0.5" stroke-width="0.8" stroke-linejoin="round"/>
<path d="M508.5,338.3 518.9,336.3 523.1,342.5 524.1,352.9 529.3,361.3 525.1,369.6 521.0,380.0 512.6,385.3 502.2,386.3 497.0,378.0 500.1,371.7 510.5,365.5 508.5,359.2 507.4,348.8Z" fill="#d6476a" stroke="#d6476a" stroke-width="0.6"/>
<path d="M508.5,338.3L518.9,336.3L523.1,342.5L524.1,352.9L529.3,361.3L525.1,369.6L521.0,380.0L512.6,385.3L502.2,386.3L497.0,378.0L500.1,371.7L510.5,365.5L508.5,359.2L507.4,348.8L508.5,338.3" fill="none" stroke="#fff" stroke-opacity="0.5" stroke-width="0.8" stroke-linejoin="round"/>
<path d="M470.9,388.4 481.4,385.3 491.8,389.4 507.4,390.5 506.4,400.9 502.2,409.2 491.8,415.5 483.4,419.7 475.1,421.8 473.0,411.3 470.9,398.8Z" fill="#d6476a" stroke="#d6476a" stroke-width="0.6"/>
<path d="M470.9,388.4L481.4,385.3L491.8,389.4L507.4,390.5L506.4,400.9L502.2,409.2L491.8,415.5L483.4,419.7L475.1,421.8L473.0,411.3L470.9,398.8L470.9,388.4" fill="none" stroke="#fff" stroke-opacity="0.5" stroke-width="0.8" stroke-linejoin="round"/>
<path d="M375.0,371.7 381.3,365.5 391.7,366.5 402.1,371.7 405.2,382.1 403.2,396.7 395.9,403.0 385.4,404.0 375.0,400.9Z" fill="#d6476a" stroke="#d6476a" stroke-width="0.6"/>
<path d="M375.0,371.7L381.3,365.5L391.7,366.5L402.1,371.7L405.2,382.1L403.2,396.7L395.9,403.0L385.4,404.0L375.0,400.9" fill="none" stroke="#fff" stroke-opacity="0.5" stroke-width="0.8" stroke-linejoin="round"/>
<path d="M390.6,457.2 394.8,446.8 395.9,436.4 406.3,434.3 410.5,446.8 411.5,457.2 406.3,465.5 397.9,469.7 391.7,465.5Z" fill="#d6476a" stroke="#d6476a" stroke-width="0.6"/>
<path d="M390.6,457.2L394.8,446.8L395.9,436.4L406.3,434.3L410.5,446.8L411.5,457.2L406.3,465.5L397.9,469.7L391.7,465.5L390.6,457.2" fill="none" stroke="#fff" stroke-opacity="0.5" stroke-width="0.8" stroke-linejoin="round"/>
<path d="M388.6,534.4 400.0,530.2 414.6,523.9 423.0,528.1 432.3,536.4 429.2,544.8 425.0,551.0 414.6,549.0 406.3,545.8 395.9,547.9 390.6,542.7Z" fill="#d6476a" stroke="#d6476a" stroke-width="0.6"/>
<path d="M388.6,534.4L400.0,530.2L414.6,523.9L423.0,528.1L432.3,536.4L429.2,544.8L425.0,551.0L414.6,549.0L406.3,545.8L395.9,547.9L390.6,542.7L388.6,534.4" fill="none" stroke="#fff" stroke-opacity="0.5" stroke-width="0.8" stroke-linejoin="round"/>
<path d="M375.0,565.6 387.5,564.6 395.9,569.8 403.2,576.1 402.1,588.6 397.9,601.1 387.5,596.9 379.2,594.8 375.0,590.7Z" fill="#d6476a" stroke="#d6476a" stroke-width="0.6"/>
<path d="M375.0,565.6L387.5,564.6L395.9,569.8L403.2,576.1L402.1,588.6L397.9,601.1L387.5,596.9L379.2,594.8L375.0,590.7" fill="none" stroke="#fff" stroke-opacity="0.5" stroke-width="0.8" stroke-linejoin="round"/>
<path d="M466.8,330.0 487.6,330.0 488.6,342.5 479.3,346.7 466.8,344.6Z" fill="#d6476a" stroke="#d6476a" stroke-width="0.6"/>
<path d="M487.6,330.0L488.6,342.5L479.3,346.7L466.8,344.6L466.8,330.0" fill="none" stroke="#fff" stroke-opacity="0.5" stroke-width="0.8" stroke-linejoin="round"/>
<path d="M178.1,551.8 179.2,542.7 188.3,540.5 197.4,533.6 206.5,531.4 208.8,542.7 202.0,549.6 192.9,554.1 186.1,556.4Z" fill="#d6476a" stroke="#d6476a" stroke-width="0.6"/>
<path d="M178.1,551.8L179.2,542.7L188.3,540.5L197.4,533.6L206.5,531.4L208.8,542.7L202.0,549.6L192.9,554.1L186.1,556.4L178.1,551.8" fill="none" stroke="#fff" stroke-opacity="0.5" stroke-width="0.8" stroke-linejoin="round"/>
<path d="M213.4,542.7 222.5,538.2 224.7,547.3 233.8,549.6 230.4,556.4 232.7,563.2 224.7,565.5 220.2,571.2 213.4,568.9 215.6,556.4Z" fill="#d6476a" stroke="#d6476a" stroke-width="0.6"/>
<path d="M213.4,542.7L222.5,538.2L224.7,547.3L233.8,549.6L230.4,556.4L232.7,563.2L224.7,565.5L220.2,571.2L213.4,568.9L215.6,556.4L213.4,542.7" fill="none" stroke="#fff" stroke-opacity="0.5" stroke-width="0.8" stroke-linejoin="round"/>
<path d="M200.9,628.1 213.4,624.6 227.0,626.9 225.9,636.0 222.5,645.1 213.4,647.4 204.3,644.0 202.0,636.0Z" fill="#d6476a" stroke="#d6476a" stroke-width="0.6"/>
<path d="M200.9,628.1L213.4,624.6L227.0,626.9L225.9,636.0L222.5,645.1L213.4,647.4L204.3,644.0L202.0,636.0L200.9,628.1" fill="none" stroke="#fff" stroke-opacity="0.5" stroke-width="0.8" stroke-linejoin="round"/>
<path d="M158.8,697.4 165.6,695.2 172.4,689.5 183.8,690.6 186.1,697.4 182.7,704.3 184.9,713.4 177.0,717.9 172.4,711.1 158.8,708.8Z" fill="#d6476a" stroke="#d6476a" stroke-width="0.6"/>
<path d="M158.8,697.4L165.6,695.2L172.4,689.5L183.8,690.6L186.1,697.4L182.7,704.3L184.9,713.4L177.0,717.9L172.4,711.1L158.8,708.8L158.8,697.4" fill="none" stroke="#fff" stroke-opacity="0.5" stroke-width="0.8" stroke-linejoin="round"/>
<path d="M203.1,717.9 211.1,713.4 220.2,702.0 224.7,713.4 229.3,720.2 238.4,724.7 241.8,729.3 231.6,733.8 229.3,742.9 220.2,741.8 213.4,744.1 206.5,733.8Z" fill="#d6476a" stroke="#d6476a" stroke-width="0.6"/>
<path d="M203.1,717.9L211.1,713.4L220.2,702.0L224.7,713.4L229.3,720.2L238.4,724.7L241.8,729.3L231.6,733.8L229.3,742.9L220.2,741.8L213.4,744.1L206.5,733.8L203.1,717.9" fill="none" stroke="#fff" stroke-opacity="0.5" stroke-width="0.8" stroke-linejoin="round"/>
<path d="M212.5,543.7 222.7,539.2 231.8,546.0 234.1,561.9 227.3,569.9 218.2,568.8 211.4,559.7Z" fill="#d6476a" stroke="#d6476a" stroke-width="0.6"/>
<path d="M212.5,543.7L222.7,539.2L231.8,546.0L234.1,561.9L227.3,569.9L218.2,568.8L211.4,559.7L212.5,543.7" fill="none" stroke="#fff" stroke-opacity="0.5" stroke-width="0.8" stroke-linejoin="round"/>
<path d="M201.1,627.9 213.6,625.6 226.2,629.1 225.0,639.3 220.5,646.1 209.1,645.0 202.3,639.3Z" fill="#d6476a" stroke="#d6476a" stroke-width="0.6"/>
<path d="M201.1,627.9L213.6,625.6L226.2,629.1L225.0,639.3L220.5,646.1L209.1,645.0L202.3,639.3L201.1,627.9" fill="none" stroke="#fff" stroke-opacity="0.5" stroke-width="0.8" stroke-linejoin="round"/>
<path d="M297.8,521.0 324.0,521.0 318.3,532.4 311.5,542.6 302.4,539.2 297.8,530.1Z" fill="#d6476a" stroke="#d6476a" stroke-width="0.6"/>
<path d="M324.0,521.0L318.3,532.4L311.5,542.6L302.4,539.2L297.8,530.1L297.8,521.0" fill="none" stroke="#fff" stroke-opacity="0.5" stroke-width="0.8" stroke-linejoin="round"/>
<path d="M250.0,550.6 259.1,543.7 272.8,536.9 279.6,546.0 277.3,557.4 270.5,564.2 261.4,561.9 256.9,557.4Z" fill="#d6476a" stroke="#d6476a" stroke-width="0.6"/>
<path d="M250.0,550.6L259.1,543.7L272.8,536.9L279.6,546.0L277.3,557.4L270.5,564.2L261.4,561.9L256.9,557.4L250.0,550.6" fill="none" stroke="#fff" stroke-opacity="0.5" stroke-width="0.8" stroke-linejoin="round"/>
<path d="M276.2,550.6 286.4,542.6 297.8,548.3 300.1,557.4 295.5,557.4 288.7,566.5 278.5,568.8Z" fill="#d6476a" stroke="#d6476a" stroke-width="0.6"/>
<path d="M276.2,550.6L286.4,542.6L297.8,548.3L300.1,557.4L295.5,557.4L288.7,566.5L278.5,568.8L276.2,550.6" fill="none" stroke="#fff" stroke-opacity="0.5" stroke-width="0.8" stroke-linejoin="round"/>
<path d="M280.8,589.2 291.0,588.1 304.6,587.0 316.0,588.1 324.0,593.8 328.5,602.9 324.0,612.0 316.0,612.0 313.7,621.1 306.9,627.9 300.1,632.5 295.5,630.2 287.6,621.1 286.4,616.5 279.6,602.9Z" fill="#d6476a" stroke="#d6476a" stroke-width="0.6"/>
<path d="M280.8,589.2L291.0,588.1L304.6,587.0L316.0,588.1L324.0,593.8L328.5,602.9L324.0,612.0L316.0,612.0L313.7,621.1L306.9,627.9L300.1,632.5L295.5,630.2L287.6,621.1L286.4,616.5L279.6,602.9L280.8,589.2" fill="none" stroke="#fff" stroke-opacity="0.5" stroke-width="0.8" stroke-linejoin="round"/>
<path d="M314.9,621.1 318.3,612.0 325.1,610.9 336.5,616.5 347.9,623.4 344.5,632.5 336.5,639.3 329.7,641.6 322.8,637.0 313.7,634.7Z" fill="#d6476a" stroke="#d6476a" stroke-width="0.6"/>
<path d="M314.9,621.1L318.3,612.0L325.1,610.9L336.5,616.5L347.9,623.4L344.5,632.5L336.5,639.3L329.7,641.6L322.8,637.0L313.7,634.7L314.9,621.1" fill="none" stroke="#fff" stroke-opacity="0.5" stroke-width="0.8" stroke-linejoin="round"/>
<path d="M371.8,575.6 379.7,566.5 391.1,564.2 400.2,568.8 404.7,577.9 402.5,589.2 397.9,598.3 388.8,596.1 379.7,593.8 372.9,587.0Z" fill="#d6476a" stroke="#d6476a" stroke-width="0.6"/>
<path d="M371.8,575.6L379.7,566.5L391.1,564.2L400.2,568.8L404.7,577.9L402.5,589.2L397.9,598.3L388.8,596.1L379.7,593.8L372.9,587.0L371.8,575.6" fill="none" stroke="#fff" stroke-opacity="0.5" stroke-width="0.8" stroke-linejoin="round"/>
<path d="M388.8,534.6 400.2,530.1 413.8,523.3 427.5,527.8 433.2,536.9 427.5,546.0 418.4,550.6 404.7,548.3 393.4,543.7Z" fill="#d6476a" stroke="#d6476a" stroke-width="0.6"/>
<path d="M388.8,534.6L400.2,530.1L413.8,523.3L427.5,527.8L433.2,536.9L427.5,546.0L418.4,550.6L404.7,548.3L393.4,543.7L388.8,534.6" fill="none" stroke="#fff" stroke-opacity="0.5" stroke-width="0.8" stroke-linejoin="round"/>
<path d="M268.2,662.0 279.6,652.9 291.0,656.4 294.4,666.6 292.1,678.0 285.3,678.0 277.3,671.1 269.4,668.9Z" fill="#d6476a" stroke="#d6476a" stroke-width="0.6"/>
<path d="M268.2,662.0L279.6,652.9L291.0,656.4L294.4,666.6L292.1,678.0L285.3,678.0L277.3,671.1L269.4,668.9L268.2,662.0" fill="none" stroke="#fff" stroke-opacity="0.5" stroke-width="0.8" stroke-linejoin="round"/>
<path d="M306.9,684.8 309.2,680.2 320.6,678.0 322.8,666.6 329.7,668.9 330.8,684.8 334.2,693.9 333.1,705.3 325.1,709.8 320.6,718.9 313.7,709.8 309.2,700.7 305.8,693.9Z" fill="#d6476a" stroke="#d6476a" stroke-width="0.6"/>
<path d="M306.9,684.8L309.2,680.2L320.6,678.0L322.8,666.6L329.7,668.9L330.8,684.8L334.2,693.9L333.1,705.3L325.1,709.8L320.6,718.9L313.7,709.8L309.2,700.7L305.8,693.9L306.9,684.8" fill="none" stroke="#fff" stroke-opacity="0.5" stroke-width="0.8" stroke-linejoin="round"/>
<path d="M359.2,678.0 363.8,666.6 372.9,655.2 379.7,648.4 383.1,657.5 382.0,668.9 375.2,678.0 366.1,687.1 360.4,684.8Z" fill="#d6476a" stroke="#d6476a" stroke-width="0.6"/>
<path d="M359.2,678.0L363.8,666.6L372.9,655.2L379.7,648.4L383.1,657.5L382.0,668.9L375.2,678.0L366.1,687.1L360.4,684.8L359.2,678.0" fill="none" stroke="#fff" stroke-opacity="0.5" stroke-width="0.8" stroke-linejoin="round"/>
<path d="M388.8,698.4 393.4,689.3 402.5,684.8 413.8,685.9 418.4,693.9 418.4,703.0 411.6,709.8 400.2,711.0 391.1,707.5Z" fill="#d6476a" stroke="#d6476a" stroke-width="0.6"/>
<path d="M388.8,698.4L393.4,689.3L402.5,684.8L413.8,685.9L418.4,693.9L418.4,703.0L411.6,709.8L400.2,711.0L391.1,707.5L388.8,698.4" fill="none" stroke="#fff" stroke-opacity="0.5" stroke-width="0.8" stroke-linejoin="round"/>
<path d="M203.4,718.9 211.4,714.4 218.2,703.0 223.9,709.8 226.2,714.4 231.8,718.9 240.9,723.5 238.7,730.3 229.6,734.8 227.3,742.8 218.2,742.8 211.4,734.8 205.7,728.0Z" fill="#d6476a" stroke="#d6476a" stroke-width="0.6"/>
<path d="M203.4,718.9L211.4,714.4L218.2,703.0L223.9,709.8L226.2,714.4L231.8,718.9L240.9,723.5L238.7,730.3L229.6,734.8L227.3,742.8L218.2,742.8L211.4,734.8L205.7,728.0L203.4,718.9" fill="none" stroke="#fff" stroke-opacity="0.5" stroke-width="0.8" stroke-linejoin="round"/>
<path d="M389.1,534.6 400.5,530.1 414.1,523.3 427.8,527.8 433.5,536.9 427.8,546.0 418.7,550.6 405.0,548.3 393.7,543.7Z" fill="#d6476a" stroke="#d6476a" stroke-width="0.6"/>
<path d="M389.1,534.6L400.5,530.1L414.1,523.3L427.8,527.8L433.5,536.9L427.8,546.0L418.7,550.6L405.0,548.3L393.7,543.7L389.1,534.6" fill="none" stroke="#fff" stroke-opacity="0.5" stroke-width="0.8" stroke-linejoin="round"/>
<path d="M372.1,575.6 380.0,566.5 391.4,564.2 400.5,568.8 405.0,577.9 402.8,589.2 398.2,598.3 389.1,596.1 380.0,593.8 373.2,587.0Z" fill="#d6476a" stroke="#d6476a" stroke-width="0.6"/>
<path d="M372.1,575.6L380.0,566.5L391.4,564.2L400.5,568.8L405.0,577.9L402.8,589.2L398.2,598.3L389.1,596.1L380.0,593.8L373.2,587.0L372.1,575.6" fill="none" stroke="#fff" stroke-opacity="0.5" stroke-width="0.8" stroke-linejoin="round"/>
<path d="M414.1,650.7 423.2,643.8 432.3,634.7 434.6,623.4 446.0,616.5 452.8,618.8 458.5,630.2 455.1,641.6 450.5,648.4 446.0,651.8 434.6,652.9 425.5,655.2 416.4,651.8Z" fill="#d6476a" stroke="#d6476a" stroke-width="0.6"/>
<path d="M414.1,650.7L423.2,643.8L432.3,634.7L434.6,623.4L446.0,616.5L452.8,618.8L458.5,630.2L455.1,641.6L450.5,648.4L446.0,651.8L434.6,652.9L425.5,655.2L416.4,651.8L414.1,650.7" fill="none" stroke="#fff" stroke-opacity="0.5" stroke-width="0.8" stroke-linejoin="round"/>
<path d="M438.0,678.0 443.7,676.8 450.5,673.4 455.1,666.6 466.5,666.6 477.8,671.1 480.1,680.2 479.0,689.3 473.3,696.2 466.5,703.0 457.4,693.9 448.3,689.3 441.4,684.8Z" fill="#d6476a" stroke="#d6476a" stroke-width="0.6"/>
<path d="M438.0,678.0L443.7,676.8L450.5,673.4L455.1,666.6L466.5,666.6L477.8,671.1L480.1,680.2L479.0,689.3L473.3,696.2L466.5,703.0L457.4,693.9L448.3,689.3L441.4,684.8L438.0,678.0" fill="none" stroke="#fff" stroke-opacity="0.5" stroke-width="0.8" stroke-linejoin="round"/>
<path d="M359.5,678.0 364.1,666.6 373.2,655.2 380.0,648.4 383.4,657.5 382.3,668.9 375.5,678.0 366.4,687.1 360.7,684.8Z" fill="#d6476a" stroke="#d6476a" stroke-width="0.6"/>
<path d="M359.5,678.0L364.1,666.6L373.2,655.2L380.0,648.4L383.4,657.5L382.3,668.9L375.5,678.0L366.4,687.1L360.7,684.8L359.5,678.0" fill="none" stroke="#fff" stroke-opacity="0.5" stroke-width="0.8" stroke-linejoin="round"/>
<path d="M389.1,698.4 393.7,689.3 402.8,684.8 414.1,685.9 418.7,693.9 418.7,703.0 411.9,709.8 400.5,711.0 391.4,707.5Z" fill="#d6476a" stroke="#d6476a" stroke-width="0.6"/>
<path d="M389.1,698.4L393.7,689.3L402.8,684.8L414.1,685.9L418.7,693.9L418.7,703.0L411.9,709.8L400.5,711.0L391.4,707.5L389.1,698.4" fill="none" stroke="#fff" stroke-opacity="0.5" stroke-width="0.8" stroke-linejoin="round"/>
<path d="M51.1,424.3 60.5,422.2 70.9,424.3 71.9,436.8 79.2,445.1 73.0,447.2 66.7,451.4 62.6,445.1 54.2,434.7Z" fill="#e48e9f" stroke="#e48e9f" stroke-width="0.6"/>
<path d="M51.1,424.3L60.5,422.2L70.9,424.3L71.9,436.8L79.2,445.1L73.0,447.2L66.7,451.4L62.6,445.1L54.2,434.7L51.1,424.3" fill="none" stroke="#fff" stroke-opacity="0.5" stroke-width="0.8" stroke-linejoin="round"/>
<path d="M146.0,478.5 154.3,474.3 164.7,478.5 173.1,486.8 168.9,495.2 160.6,501.4 152.2,497.3 146.0,488.9Z" fill="#e48e9f" stroke="#e48e9f" stroke-width="0.6"/>
<path d="M146.0,478.5L154.3,474.3L164.7,478.5L173.1,486.8L168.9,495.2L160.6,501.4L152.2,497.3L146.0,488.9L146.0,478.5" fill="none" stroke="#fff" stroke-opacity="0.5" stroke-width="0.8" stroke-linejoin="round"/>
<path d="M124.6,560.9 133.7,554.1 145.1,556.4 150.8,565.5 145.1,574.6 133.7,579.1 126.9,570.0Z" fill="#e48e9f" stroke="#e48e9f" stroke-width="0.6"/>
<path d="M124.6,560.9L133.7,554.1L145.1,556.4L150.8,565.5L145.1,574.6L133.7,579.1L126.9,570.0L124.6,560.9" fill="none" stroke="#fff" stroke-opacity="0.5" stroke-width="0.8" stroke-linejoin="round"/>
<path d="M385.4,577.9 393.4,576.7 395.2,585.8 387.0,587.4Z" fill="#e48e9f" stroke="#e48e9f" stroke-width="0.6"/>
<path d="M385.4,577.9L393.4,576.7L395.2,585.8L387.0,587.4L385.4,577.9" fill="none" stroke="#fff" stroke-opacity="0.5" stroke-width="0.8" stroke-linejoin="round"/>
<path d="M385.7,577.9 393.7,576.7 395.5,585.8 387.3,587.4Z" fill="#e48e9f" stroke="#e48e9f" stroke-width="0.6"/>
<path d="M385.7,577.9L393.7,576.7L395.5,585.8L387.3,587.4L385.7,577.9" fill="none" stroke="#fff" stroke-opacity="0.5" stroke-width="0.8" stroke-linejoin="round"/>
<path d="M434.2,635.9 444.9,634.3 446.0,641.6 435.8,643.4Z" fill="#e48e9f" stroke="#e48e9f" stroke-width="0.6"/>
<path d="M434.2,635.9L444.9,634.3L446.0,641.6L435.8,643.4L434.2,635.9" fill="none" stroke="#fff" stroke-opacity="0.5" stroke-width="0.8" stroke-linejoin="round"/>
<path d="M218.0,46.2 228.2,47.3 235.1,49.6 240.8,48.4 247.6,44.6 249.9,48.4 255.5,50.7 262.4,53.0 268.7,56.4 271.5,62.1 271.0,68.9 266.9,73.5 262.4,74.6 255.5,79.1 246.4,88.2 237.3,97.3 235.1,103.0 228.2,101.9 226.0,96.2 230.5,88.2 229.4,79.1 226.0,68.9 220.3,60.9Z" fill="#a80f15" stroke="#a80f15" stroke-width="0.6"/>
<path d="M218.0,46.2L228.2,47.3L235.1,49.6L240.8,48.4L247.6,44.6L249.9,48.4L255.5,50.7L262.4,53.0L268.7,56.4L271.5,62.1L271.0,68.9L266.9,73.5L262.4,74.6L255.5,79.1L246.4,88.2L237.3,97.3L235.1,103.0L228.2,101.9L226.0,96.2L230.5,88.2L229.4,79.1L226.0,68.9L220.3,60.9L218.0,46.2" fill="none" stroke="#fff" stroke-opacity="0.5" stroke-width="0.8" stroke-linejoin="round"/>
<path d="M260.1,133.7 266.9,129.2 278.3,125.8 287.4,123.5 296.5,124.6 302.2,129.2 303.3,138.3 298.8,142.8 287.4,147.4 282.8,151.9 273.7,156.5 269.2,161.0 265.8,154.2 260.1,147.4 256.7,140.6Z" fill="#a80f15" stroke="#a80f15" stroke-width="0.6"/>
<path d="M260.1,133.7L266.9,129.2L278.3,125.8L287.4,123.5L296.5,124.6L302.2,129.2L303.3,138.3L298.8,142.8L287.4,147.4L282.8,151.9L273.7,156.5L269.2,161.0L265.8,154.2L260.1,147.4L256.7,140.6L260.1,133.7" fill="none" stroke="#fff" stroke-opacity="0.5" stroke-width="0.8" stroke-linejoin="round"/>
<path d="M282.8,151.9 287.4,147.4 298.8,142.8 305.6,144.0 304.5,151.9 296.5,156.5 294.2,163.3 296.5,170.1 289.7,179.2 282.8,181.5 280.6,174.7 284.0,165.6 282.8,158.8Z" fill="#a80f15" stroke="#a80f15" stroke-width="0.6"/>
<path d="M282.8,151.9L287.4,147.4L298.8,142.8L305.6,144.0L304.5,151.9L296.5,156.5L294.2,163.3L296.5,170.1L289.7,179.2L282.8,181.5L280.6,174.7L284.0,165.6L282.8,158.8L282.8,151.9" fill="none" stroke="#fff" stroke-opacity="0.5" stroke-width="0.8" stroke-linejoin="round"/>
<path d="M251.0,217.9 260.1,213.4 269.2,217.9 276.0,222.5 284.0,229.3 284.0,238.4 273.7,240.7 264.6,247.5 260.1,256.6 255.5,265.7 251.0,270.2 244.2,263.4 235.1,256.6 231.7,252.0 237.3,245.2 244.2,238.4 251.0,233.8 249.9,224.7Z" fill="#a80f15" stroke="#a80f15" stroke-width="0.6"/>
<path d="M251.0,217.9L260.1,213.4L269.2,217.9L276.0,222.5L284.0,229.3L284.0,238.4L273.7,240.7L264.6,247.5L260.1,256.6L255.5,265.7L251.0,270.2L244.2,263.4L235.1,256.6L231.7,252.0L237.3,245.2L244.2,238.4L251.0,233.8L249.9,224.7L251.0,217.9" fill="none" stroke="#fff" stroke-opacity="0.5" stroke-width="0.8" stroke-linejoin="round"/>
<path d="M26.1,402.4 30.2,396.1 37.5,387.8 48.0,386.7 52.1,391.9 56.3,397.2 57.3,401.3 50.0,401.3 41.7,403.4 34.4,405.5Z" fill="#a80f15" stroke="#a80f15" stroke-width="0.6"/>
<path d="M26.1,402.4L30.2,396.1L37.5,387.8L48.0,386.7L52.1,391.9L56.3,397.2L57.3,401.3L50.0,401.3L41.7,403.4L34.4,405.5L26.1,402.4" fill="none" stroke="#fff" stroke-opacity="0.5" stroke-width="0.8" stroke-linejoin="round"/>
<path d="M220.0,420.1 214.8,424.3 210.6,432.6 216.9,440.9 220.0,445.1Z" fill="#a80f15" stroke="#a80f15" stroke-width="0.6"/>
<path d="M220.0,420.1L214.8,424.3L210.6,432.6L216.9,440.9L220.0,445.1" fill="none" stroke="#fff" stroke-opacity="0.5" stroke-width="0.8" stroke-linejoin="round"/>
<path d="M212.4,431.2 219.2,419.8 228.3,408.4 242.0,410.7 253.4,415.3 255.6,424.4 246.5,431.2 239.7,440.1 214.7,440.1Z" fill="#a80f15" stroke="#a80f15" stroke-width="0.6"/>
<path d="M212.4,431.2L219.2,419.8L228.3,408.4L242.0,410.7L253.4,415.3L255.6,424.4L246.5,431.2L239.7,440.1M214.7,440.1L212.4,431.2" fill="none" stroke="#fff" stroke-opacity="0.5" stroke-width="0.8" stroke-linejoin="round"/>
<path d="M257.9,140.0 300.0,140.0 300.0,171.8 292.0,174.1 285.2,178.7 280.7,167.3 273.8,160.5 269.3,153.6 262.5,149.1Z" fill="#a80f15" stroke="#a80f15" stroke-width="0.6"/>
<path d="M300.0,171.8L292.0,174.1L285.2,178.7L280.7,167.3L273.8,160.5L269.3,153.6L262.5,149.1L257.9,140.0" fill="none" stroke="#fff" stroke-opacity="0.5" stroke-width="0.8" stroke-linejoin="round"/>
<path d="M190.0,321.8 199.1,319.6 208.2,315.0 217.3,319.6 219.6,330.9 226.4,342.3 212.7,343.5 203.6,349.1 190.0,346.9Z" fill="#a80f15" stroke="#a80f15" stroke-width="0.6"/>
<path d="M190.0,321.8L199.1,319.6L208.2,315.0L217.3,319.6L219.6,330.9L226.4,342.3L212.7,343.5L203.6,349.1L190.0,346.9" fill="none" stroke="#fff" stroke-opacity="0.5" stroke-width="0.8" stroke-linejoin="round"/>
<path d="M303.7,376.4 310.6,369.6 321.9,368.5 327.6,376.4 329.9,387.8 319.7,390.1 308.3,391.2 302.6,390.1Z" fill="#a80f15" stroke="#a80f15" stroke-width="0.6"/>
<path d="M303.7,376.4L310.6,369.6L321.9,368.5L327.6,376.4L329.9,387.8L319.7,390.1L308.3,391.2L302.6,390.1L303.7,376.4" fill="none" stroke="#fff" stroke-opacity="0.5" stroke-width="0.8" stroke-linejoin="round"/>
<path d="M211.6,432.2 219.6,419.7 226.4,407.2 237.8,410.6 249.1,414.0 256.0,420.8 246.9,426.5 242.3,435.6 238.9,447.0 230.9,451.5 219.6,447.0 215.0,437.9Z" fill="#a80f15" stroke="#a80f15" stroke-width="0.6"/>
<path d="M211.6,432.2L219.6,419.7L226.4,407.2L237.8,410.6L249.1,414.0L256.0,420.8L246.9,426.5L242.3,435.6L238.9,447.0L230.9,451.5L219.6,447.0L215.0,437.9L211.6,432.2" fill="none" stroke="#fff" stroke-opacity="0.5" stroke-width="0.8" stroke-linejoin="round"/>
<path d="M362.9,444.7 369.7,437.9 372.0,428.8 381.1,425.4 390.2,427.6 395.9,433.3 392.5,442.4 390.2,449.2 378.8,452.7 367.4,452.7Z" fill="#a80f15" stroke="#a80f15" stroke-width="0.6"/>
<path d="M362.9,444.7L369.7,437.9L372.0,428.8L381.1,425.4L390.2,427.6L395.9,433.3L392.5,442.4L390.2,449.2L378.8,452.7L367.4,452.7L362.9,444.7" fill="none" stroke="#fff" stroke-opacity="0.5" stroke-width="0.8" stroke-linejoin="round"/>
<path d="M318.5,497.0 326.5,492.5 335.6,495.9 342.4,497.0 345.8,508.4 337.9,508.4 331.0,511.8 326.5,517.5 320.8,514.1 321.9,506.1Z" fill="#a80f15" stroke="#a80f15" stroke-width="0.6"/>
<path d="M318.5,497.0L326.5,492.5L335.6,495.9L342.4,497.0L345.8,508.4L337.9,508.4L331.0,511.8L326.5,517.5L320.8,514.1L321.9,506.1L318.5,497.0" fill="none" stroke="#fff" stroke-opacity="0.5" stroke-width="0.8" stroke-linejoin="round"/>
<path d="M228.7,555.0 246.9,553.9 249.1,563.0 256.0,569.8 265.1,576.6 274.2,581.2 276.4,590.1 242.3,590.1 238.9,576.6 235.5,565.3Z" fill="#a80f15" stroke="#a80f15" stroke-width="0.6"/>
<path d="M228.7,555.0L246.9,553.9L249.1,563.0L256.0,569.8L265.1,576.6L274.2,581.2L276.4,590.1M242.3,590.1L238.9,576.6L235.5,565.3L228.7,555.0" fill="none" stroke="#fff" stroke-opacity="0.5" stroke-width="0.8" stroke-linejoin="round"/>
<path d="M375.0,424.9 385.4,425.9 393.8,432.2 395.9,438.4 389.6,446.8 383.3,450.9 375.0,452.0Z" fill="#a80f15" stroke="#a80f15" stroke-width="0.6"/>
<path d="M375.0,424.9L385.4,425.9L393.8,432.2L395.9,438.4L389.6,446.8L383.3,450.9L375.0,452.0" fill="none" stroke="#fff" stroke-opacity="0.5" stroke-width="0.8" stroke-linejoin="round"/>
<path d="M230.4,556.4 238.4,553.0 247.5,554.1 252.0,560.9 260.0,563.2 260.0,592.8 247.5,590.5 239.5,583.7 238.4,570.0 232.7,563.2Z" fill="#a80f15" stroke="#a80f15" stroke-width="0.6"/>
<path d="M230.4,556.4L238.4,553.0L247.5,554.1L252.0,560.9L260.0,563.2M260.0,592.8L247.5,590.5L239.5,583.7L238.4,570.0L232.7,563.2L230.4,556.4" fill="none" stroke="#fff" stroke-opacity="0.5" stroke-width="0.8" stroke-linejoin="round"/>
<path d="M224.7,713.4 232.7,707.7 247.5,707.7 260.0,708.8 260.0,731.6 249.8,729.3 238.4,724.7 229.3,720.2Z" fill="#a80f15" stroke="#a80f15" stroke-width="0.6"/>
<path d="M224.7,713.4L232.7,707.7L247.5,707.7L260.0,708.8M260.0,731.6L249.8,729.3L238.4,724.7L229.3,720.2L224.7,713.4" fill="none" stroke="#fff" stroke-opacity="0.5" stroke-width="0.8" stroke-linejoin="round"/>
<path d="M248.6,649.7 254.3,640.6 252.0,633.7 260.0,633.7 260.0,656.5 254.3,655.4Z" fill="#a80f15" stroke="#a80f15" stroke-width="0.6"/>
<path d="M248.6,649.7L254.3,640.6L252.0,633.7L260.0,633.7M260.0,656.5L254.3,655.4L248.6,649.7" fill="none" stroke="#fff" stroke-opacity="0.5" stroke-width="0.8" stroke-linejoin="round"/>
<path d="M229.6,555.1 245.5,554.0 248.9,560.8 256.9,559.7 261.4,571.0 268.2,580.1 277.3,581.3 279.6,589.2 268.2,591.5 261.4,593.8 254.6,589.2 240.9,585.8 239.8,575.6 242.1,566.5 234.1,561.9Z" fill="#a80f15" stroke="#a80f15" stroke-width="0.6"/>
<path d="M229.6,555.1L245.5,554.0L248.9,560.8L256.9,559.7L261.4,571.0L268.2,580.1L277.3,581.3L279.6,589.2L268.2,591.5L261.4,593.8L254.6,589.2L240.9,585.8L239.8,575.6L242.1,566.5L234.1,561.9L229.6,555.1" fill="none" stroke="#fff" stroke-opacity="0.5" stroke-width="0.8" stroke-linejoin="round"/>
<path d="M248.9,650.7 254.6,643.8 256.9,634.7 268.2,627.9 277.3,625.6 287.6,625.6 295.5,630.2 300.1,639.3 297.8,650.7 295.5,656.4 286.4,655.2 279.6,651.8 268.2,655.2 259.1,652.9Z" fill="#a80f15" stroke="#a80f15" stroke-width="0.6"/>
<path d="M248.9,650.7L254.6,643.8L256.9,634.7L268.2,627.9L277.3,625.6L287.6,625.6L295.5,630.2L300.1,639.3L297.8,650.7L295.5,656.4L286.4,655.2L279.6,651.8L268.2,655.2L259.1,652.9L248.9,650.7" fill="none" stroke="#fff" stroke-opacity="0.5" stroke-width="0.8" stroke-linejoin="round"/>
<path d="M300.1,632.5 306.9,627.9 313.7,634.7 322.8,637.0 331.9,645.0 335.4,655.2 336.5,666.6 329.7,668.9 322.8,666.6 320.6,678.0 309.2,680.2 293.3,679.1 292.1,668.9 300.1,662.0 304.6,655.2 300.1,648.4 301.2,639.3Z" fill="#a80f15" stroke="#a80f15" stroke-width="0.6"/>
<path d="M300.1,632.5L306.9,627.9L313.7,634.7L322.8,637.0L331.9,645.0L335.4,655.2L336.5,666.6L329.7,668.9L322.8,666.6L320.6,678.0L309.2,680.2L293.3,679.1L292.1,668.9L300.1,662.0L304.6,655.2L300.1,648.4L301.2,639.3L300.1,632.5" fill="none" stroke="#fff" stroke-opacity="0.5" stroke-width="0.8" stroke-linejoin="round"/>
<path d="M329.7,678.0 336.5,670.0 345.6,671.1 351.3,678.0 355.8,682.5 350.1,689.3 345.6,700.7 338.8,708.7 333.1,705.3 334.2,693.9 330.8,684.8Z" fill="#a80f15" stroke="#a80f15" stroke-width="0.6"/>
<path d="M329.7,678.0L336.5,670.0L345.6,671.1L351.3,678.0L355.8,682.5L350.1,689.3L345.6,700.7L338.8,708.7L333.1,705.3L334.2,693.9L330.8,684.8L329.7,678.0" fill="none" stroke="#fff" stroke-opacity="0.5" stroke-width="0.8" stroke-linejoin="round"/>
<path d="M223.9,709.8 229.6,707.5 238.7,711.0 245.5,709.8 254.6,707.5 263.7,703.0 272.8,709.8 277.3,718.9 278.5,730.3 268.2,732.6 256.9,730.3 245.5,730.3 240.9,723.5 231.8,718.9 226.2,714.4Z" fill="#a80f15" stroke="#a80f15" stroke-width="0.6"/>
<path d="M223.9,709.8L229.6,707.5L238.7,711.0L245.5,709.8L254.6,707.5L263.7,703.0L272.8,709.8L277.3,718.9L278.5,730.3L268.2,732.6L256.9,730.3L245.5,730.3L240.9,723.5L231.8,718.9L226.2,714.4L223.9,709.8" fill="none" stroke="#fff" stroke-opacity="0.5" stroke-width="0.8" stroke-linejoin="round"/>
<path d="M377.4,630.2 386.5,626.8 395.6,630.2 404.7,634.7 409.3,643.8 408.2,651.8 396.8,662.0 394.5,668.9 386.5,666.6 380.9,657.5 384.3,646.1 384.3,637.0Z" fill="#a80f15" stroke="#a80f15" stroke-width="0.6"/>
<path d="M377.4,630.2L386.5,626.8L395.6,630.2L404.7,634.7L409.3,643.8L408.2,651.8L396.8,662.0L394.5,668.9L386.5,666.6L380.9,657.5L384.3,646.1L384.3,637.0L377.4,630.2" fill="none" stroke="#fff" stroke-opacity="0.5" stroke-width="0.8" stroke-linejoin="round"/>
<path d="M377.7,630.2 386.8,626.8 395.9,630.2 405.0,634.7 409.6,643.8 408.5,651.8 397.1,662.0 394.8,668.9 386.8,666.6 381.2,657.5 384.6,646.1 384.6,637.0Z" fill="#a80f15" stroke="#a80f15" stroke-width="0.6"/>
<path d="M377.7,630.2L386.8,626.8L395.9,630.2L405.0,634.7L409.6,643.8L408.5,651.8L397.1,662.0L394.8,668.9L386.8,666.6L381.2,657.5L384.6,646.1L384.6,637.0L377.7,630.2" fill="none" stroke="#fff" stroke-opacity="0.5" stroke-width="0.8" stroke-linejoin="round"/>
<path d="M208.9,179.2 216.9,175.8 223.7,179.2 228.2,183.8 235.1,188.3 239.6,195.2 246.4,197.4 247.6,202.0 251.0,208.8 253.3,215.6 251.0,217.9 249.9,224.7 251.0,233.8 244.2,238.4 237.3,245.2 230.5,236.1 226.0,229.3 220.3,224.7 216.9,217.9 218.0,211.1 214.6,202.0 208.9,192.9 206.6,186.1Z" fill="#6c1e43" stroke="#6c1e43" stroke-width="0.6"/>
<path d="M208.9,179.2L216.9,175.8L223.7,179.2L228.2,183.8L235.1,188.3L239.6,195.2L246.4,197.4L247.6,202.0L251.0,208.8L253.3,215.6L251.0,217.9L249.9,224.7L251.0,233.8L244.2,238.4L237.3,245.2L230.5,236.1L226.0,229.3L220.3,224.7L216.9,217.9L218.0,211.1L214.6,202.0L208.9,192.9L206.6,186.1L208.9,179.2" fill="none" stroke="#fff" stroke-opacity="0.5" stroke-width="0.8" stroke-linejoin="round"/>
<path d="M160.0,217.9 169.1,216.8 180.5,220.2 189.6,224.7 191.8,231.6 205.5,231.6 216.9,217.9 220.3,224.7 226.0,229.3 230.5,236.1 237.3,245.2 231.7,252.0 235.1,256.6 241.9,265.7 232.8,270.2 226.0,277.1 226.0,283.9 216.9,288.4 212.3,297.5 211.2,308.9 205.5,313.5 198.7,320.1 160.0,320.1Z" fill="#6c1e43" stroke="#6c1e43" stroke-width="0.6"/>
<path d="M160.0,217.9L169.1,216.8L180.5,220.2L189.6,224.7L191.8,231.6L205.5,231.6L216.9,217.9L220.3,224.7L226.0,229.3L230.5,236.1L237.3,245.2L231.7,252.0L235.1,256.6L241.9,265.7L232.8,270.2L226.0,277.1L226.0,283.9L216.9,288.4L212.3,297.5L211.2,308.9L205.5,313.5L198.7,320.1" fill="none" stroke="#fff" stroke-opacity="0.5" stroke-width="0.8" stroke-linejoin="round"/>
<path d="M22.5,342.9 30.2,340.9 35.5,336.7 46.9,339.8 52.1,340.9 60.5,338.8 68.8,335.6 75.1,329.4 73.0,323.1 70.9,320.0 220.0,320.0 220.0,384.6 206.4,380.5 203.3,376.3 198.1,378.4 187.7,382.6 177.3,384.6 166.8,388.8 158.5,384.6 146.0,380.5 136.6,381.5 123.0,382.6 120.9,372.1 112.6,369.0 106.4,370.0 95.9,373.2 92.8,376.3 86.5,377.3 79.2,375.3 77.2,370.0 68.8,372.1 62.6,376.3 52.1,382.6 37.5,387.8 37.1,380.5 34.4,368.0 29.2,358.6 24.0,351.3Z" fill="#6c1e43" stroke="#6c1e43" stroke-width="0.6"/>
<path d="M22.5,342.9L30.2,340.9L35.5,336.7L46.9,339.8L52.1,340.9L60.5,338.8L68.8,335.6L75.1,329.4L73.0,323.1L70.9,320.0M220.0,384.6L206.4,380.5L203.3,376.3L198.1,378.4L187.7,382.6L177.3,384.6L166.8,388.8L158.5,384.6L146.0,380.5L136.6,381.5L123.0,382.6L120.9,372.1L112.6,369.0L106.4,370.0L95.9,373.2L92.8,376.3L86.5,377.3L79.2,375.3L77.2,370.0L68.8,372.1L62.6,376.3L52.1,382.6L37.5,387.8L37.1,380.5L34.4,368.0L29.2,358.6L24.0,351.3L22.5,342.9" fill="none" stroke="#fff" stroke-opacity="0.5" stroke-width="0.8" stroke-linejoin="round"/>
<path d="M103.2,218.5 116.9,219.6 124.8,218.5 130.5,212.8 139.6,215.1 151.0,219.6 155.5,221.9 160.1,218.5 169.2,219.6 173.7,216.2 182.8,218.5 187.4,224.2 194.2,226.4 205.6,227.6 209.0,219.6 207.9,208.2 205.6,192.3 207.9,180.9 214.7,176.4 223.8,179.8 230.6,185.5 237.4,194.6 244.3,196.9 248.8,206.0 251.1,215.1 248.8,221.9 247.7,231.0 242.0,235.5 235.2,242.4 230.6,251.5 232.9,258.3 239.7,262.8 242.0,267.4 232.9,271.9 226.1,276.5 223.8,287.9 217.0,292.4 210.1,297.0 207.9,308.3 210.1,315.2 217.0,319.7 221.5,328.8 228.3,340.2 235.2,347.0 232.9,358.4 228.3,367.5 223.8,376.6 219.2,383.4 210.1,378.9 201.0,376.6 196.5,378.9 187.4,381.1 178.3,383.4 166.9,390.2 157.8,385.7 148.7,383.4 137.3,381.1 123.7,383.4 119.1,388.0 116.9,381.1 105.5,372.0 94.1,376.6 89.6,374.3 85.0,367.5 80.5,362.9 73.6,353.8 60.0,349.3 60.0,337.9 69.1,326.5 73.6,319.7 69.1,317.4 80.5,315.2 89.6,306.1 91.8,302.7 89.6,294.7 90.7,285.6 85.0,282.2 77.1,281.0 71.4,276.5 70.9,270.8 73.6,265.1 82.7,262.8 89.6,265.1 94.1,264.0 94.1,253.7 97.5,242.4 100.9,231.0 102.1,221.9Z" fill="#6c1e43" stroke="#6c1e43" stroke-width="0.6"/>
<path d="M103.2,218.5L116.9,219.6L124.8,218.5L130.5,212.8L139.6,215.1L151.0,219.6L155.5,221.9L160.1,218.5L169.2,219.6L173.7,216.2L182.8,218.5L187.4,224.2L194.2,226.4L205.6,227.6L209.0,219.6L207.9,208.2L205.6,192.3L207.9,180.9L214.7,176.4L223.8,179.8L230.6,185.5L237.4,194.6L244.3,196.9L248.8,206.0L251.1,215.1L248.8,221.9L247.7,231.0L242.0,235.5L235.2,242.4L230.6,251.5L232.9,258.3L239.7,262.8L242.0,267.4L232.9,271.9L226.1,276.5L223.8,287.9L217.0,292.4L210.1,297.0L207.9,308.3L210.1,315.2L217.0,319.7L221.5,328.8L228.3,340.2L235.2,347.0L232.9,358.4L228.3,367.5L223.8,376.6L219.2,383.4L210.1,378.9L201.0,376.6L196.5,378.9L187.4,381.1L178.3,383.4L166.9,390.2L157.8,385.7L148.7,383.4L137.3,381.1L123.7,383.4L119.1,388.0L116.9,381.1L105.5,372.0L94.1,376.6L89.6,374.3L85.0,367.5L80.5,362.9L73.6,353.8L60.0,349.3M60.0,337.9L69.1,326.5L73.6,319.7L69.1,317.4L80.5,315.2L89.6,306.1L91.8,302.7L89.6,294.7L90.7,285.6L85.0,282.2L77.1,281.0L71.4,276.5L70.9,270.8L73.6,265.1L82.7,262.8L89.6,265.1L94.1,264.0L94.1,253.7L97.5,242.4L100.9,231.0L102.1,221.9L103.2,218.5" fill="none" stroke="#fff" stroke-opacity="0.5" stroke-width="0.8" stroke-linejoin="round"/>
<path d="M190.0,290.0 215.0,290.0 212.7,299.1 205.9,305.9 196.8,308.2 190.0,305.9Z" fill="#6c1e43" stroke="#6c1e43" stroke-width="0.6"/>
<path d="M215.0,290.0L212.7,299.1L205.9,305.9L196.8,308.2L190.0,305.9" fill="none" stroke="#fff" stroke-opacity="0.5" stroke-width="0.8" stroke-linejoin="round"/>
<path d="M190.0,346.9 203.6,349.1 212.7,343.5 224.1,344.6 234.4,348.0 232.1,360.5 230.9,371.9 224.1,378.7 217.3,385.5 210.5,378.7 203.6,376.4 196.8,383.3 190.0,381.0Z" fill="#6c1e43" stroke="#6c1e43" stroke-width="0.6"/>
<path d="M190.0,346.9L203.6,349.1L212.7,343.5L224.1,344.6L234.4,348.0L232.1,360.5L230.9,371.9L224.1,378.7L217.3,385.5L210.5,378.7L203.6,376.4L196.8,383.3L190.0,381.0" fill="none" stroke="#fff" stroke-opacity="0.5" stroke-width="0.8" stroke-linejoin="round"/>
<path d="M276.4,572.1 287.8,567.5 294.6,558.4 303.7,555.0 312.8,558.4 319.7,565.3 323.1,574.4 317.4,578.9 312.8,585.7 296.9,588.0 285.5,583.5 278.7,578.9Z" fill="#6c1e43" stroke="#6c1e43" stroke-width="0.6"/>
<path d="M276.4,572.1L287.8,567.5L294.6,558.4L303.7,555.0L312.8,558.4L319.7,565.3L323.1,574.4L317.4,578.9L312.8,585.7L296.9,588.0L285.5,583.5L278.7,578.9L276.4,572.1" fill="none" stroke="#fff" stroke-opacity="0.5" stroke-width="0.8" stroke-linejoin="round"/>
<path d="M230.4,611.0 238.4,599.6 236.1,592.8 247.5,590.5 260.0,592.8 260.0,633.7 252.0,631.5 247.5,622.4 238.4,617.8Z" fill="#6c1e43" stroke="#6c1e43" stroke-width="0.6"/>
<path d="M230.4,611.0L238.4,599.6L236.1,592.8L247.5,590.5L260.0,592.8M260.0,633.7L252.0,631.5L247.5,622.4L238.4,617.8L230.4,611.0" fill="none" stroke="#fff" stroke-opacity="0.5" stroke-width="0.8" stroke-linejoin="round"/>
<path d="M240.7,699.7 245.2,688.3 246.4,679.2 252.0,674.7 260.0,674.7 260.0,708.8 247.5,707.7Z" fill="#6c1e43" stroke="#6c1e43" stroke-width="0.6"/>
<path d="M240.7,699.7L245.2,688.3L246.4,679.2L252.0,674.7L260.0,674.7M260.0,708.8L247.5,707.7L240.7,699.7" fill="none" stroke="#fff" stroke-opacity="0.5" stroke-width="0.8" stroke-linejoin="round"/>
<path d="M278.5,572.2 288.7,566.5 295.5,557.4 306.9,555.1 318.3,563.1 322.8,573.3 313.7,582.4 304.6,587.0 291.0,588.1 281.9,582.4Z" fill="#6c1e43" stroke="#6c1e43" stroke-width="0.6"/>
<path d="M278.5,572.2L288.7,566.5L295.5,557.4L306.9,555.1L318.3,563.1L322.8,573.3L313.7,582.4L304.6,587.0L291.0,588.1L281.9,582.4L278.5,572.2" fill="none" stroke="#fff" stroke-opacity="0.5" stroke-width="0.8" stroke-linejoin="round"/>
<path d="M231.8,612.0 236.4,598.3 240.9,591.5 254.6,589.2 261.4,593.8 277.3,591.5 279.6,602.9 286.4,616.5 287.6,621.1 277.3,625.6 268.2,627.9 261.4,637.0 254.6,632.5 247.8,625.6 240.9,621.1 238.7,616.5Z" fill="#6c1e43" stroke="#6c1e43" stroke-width="0.6"/>
<path d="M231.8,612.0L236.4,598.3L240.9,591.5L254.6,589.2L261.4,593.8L277.3,591.5L279.6,602.9L286.4,616.5L287.6,621.1L277.3,625.6L268.2,627.9L261.4,637.0L254.6,632.5L247.8,625.6L240.9,621.1L238.7,616.5L231.8,612.0" fill="none" stroke="#fff" stroke-opacity="0.5" stroke-width="0.8" stroke-linejoin="round"/>
<path d="M239.8,703.0 245.5,689.3 248.9,678.0 259.1,673.4 268.2,667.7 277.3,671.1 285.3,678.0 277.3,682.5 270.5,687.1 268.2,693.9 272.8,700.7 272.8,709.8 263.7,703.0 254.6,707.5 245.5,709.8Z" fill="#6c1e43" stroke="#6c1e43" stroke-width="0.6"/>
<path d="M239.8,703.0L245.5,689.3L248.9,678.0L259.1,673.4L268.2,667.7L277.3,671.1L285.3,678.0L277.3,682.5L270.5,687.1L268.2,693.9L272.8,700.7L272.8,709.8L263.7,703.0L254.6,707.5L245.5,709.8L239.8,703.0" fill="none" stroke="#fff" stroke-opacity="0.5" stroke-width="0.8" stroke-linejoin="round"/>
<path d="M396.8,662.0 404.7,655.2 416.1,651.8 425.2,655.2 432.0,652.9 440.0,655.2 440.0,675.7 434.3,680.2 432.0,689.3 422.9,693.9 413.8,689.3 404.7,684.8 402.5,675.7 397.9,671.1Z" fill="#6c1e43" stroke="#6c1e43" stroke-width="0.6"/>
<path d="M396.8,662.0L404.7,655.2L416.1,651.8L425.2,655.2L432.0,652.9L440.0,655.2M440.0,675.7L434.3,680.2L432.0,689.3L422.9,693.9L413.8,689.3L404.7,684.8L402.5,675.7L397.9,671.1L396.8,662.0" fill="none" stroke="#fff" stroke-opacity="0.5" stroke-width="0.8" stroke-linejoin="round"/>
<path d="M397.1,662.0 405.0,655.2 416.4,651.8 425.5,655.2 432.3,652.9 435.8,657.5 434.6,675.7 433.5,684.8 423.2,693.9 414.1,689.3 405.0,684.8 402.8,675.7 398.2,671.1Z" fill="#6c1e43" stroke="#6c1e43" stroke-width="0.6"/>
<path d="M397.1,662.0L405.0,655.2L416.4,651.8L425.5,655.2L432.3,652.9L435.8,657.5L434.6,675.7L433.5,684.8L423.2,693.9L414.1,689.3L405.0,684.8L402.8,675.7L398.2,671.1L397.1,662.0" fill="none" stroke="#fff" stroke-opacity="0.5" stroke-width="0.8" stroke-linejoin="round"/>
<path d="M426.7,657.5 434.6,652.9 446.0,651.8 451.7,648.4 457.4,655.2 464.2,662.0 455.1,666.6 450.5,673.4 443.7,676.8 436.9,673.4 432.3,668.9 427.8,666.6Z" fill="#6c1e43" stroke="#6c1e43" stroke-width="0.6"/>
<path d="M426.7,657.5L434.6,652.9L446.0,651.8L451.7,648.4L457.4,655.2L464.2,662.0L455.1,666.6L450.5,673.4L443.7,676.8L436.9,673.4L432.3,668.9L427.8,666.6L426.7,657.5" fill="none" stroke="#fff" stroke-opacity="0.5" stroke-width="0.8" stroke-linejoin="round"/>
<path d="M471.0,664.3 477.8,657.5 489.2,654.1 493.8,649.5 500.6,652.9 512.0,655.2 521.1,652.9 522.2,662.0 517.7,671.1 512.0,666.6 502.9,666.6 498.3,671.1 497.2,680.2 493.8,689.3 484.7,695.0 479.0,689.3 480.1,680.2 477.8,671.1Z" fill="#6c1e43" stroke="#6c1e43" stroke-width="0.6"/>
<path d="M471.0,664.3L477.8,657.5L489.2,654.1L493.8,649.5L500.6,652.9L512.0,655.2L521.1,652.9L522.2,662.0L517.7,671.1L512.0,666.6L502.9,666.6L498.3,671.1L497.2,680.2L493.8,689.3L484.7,695.0L479.0,689.3L480.1,680.2L477.8,671.1L471.0,664.3" fill="none" stroke="#fff" stroke-opacity="0.5" stroke-width="0.8" stroke-linejoin="round"/>
<path d="M273.7,93.9 282.8,92.8 284.0,105.3 277.2,107.6 273.7,100.8Z" fill="#f4c6d0" stroke="#f4c6d0" stroke-width="0.6"/>
<path d="M273.7,93.9L282.8,92.8L284.0,105.3L277.2,107.6L273.7,100.8L273.7,93.9" fill="none" stroke="#fff" stroke-opacity="0.5" stroke-width="0.8" stroke-linejoin="round"/>
<path d="M233.9,50.7 240.8,48.4 241.9,55.3 236.2,57.5Z" fill="#e48e9f" stroke="#e48e9f" stroke-width="0.6"/>
<path d="M233.9,50.7L240.8,48.4L241.9,55.3L236.2,57.5L233.9,50.7" fill="none" stroke="#fff" stroke-opacity="0.5" stroke-width="0.8" stroke-linejoin="round"/>
<path d="M460.8,269.8 468.7,265.2 482.4,267.5 493.8,274.3 499.5,281.1 496.0,288.0 484.7,288.0 473.3,286.8 464.2,286.8 459.6,281.1Z" fill="#f4c6d0" stroke="#f4c6d0" stroke-width="0.6"/>
<path d="M460.8,269.8L468.7,265.2L482.4,267.5L493.8,274.3L499.5,281.1L496.0,288.0L484.7,288.0L473.3,286.8L464.2,286.8L459.6,281.1L460.8,269.8" fill="none" stroke="#fff" stroke-opacity="0.5" stroke-width="0.8" stroke-linejoin="round"/>
<path d="M42.7,361.7 48.0,353.4 56.3,347.1 66.7,351.3 77.2,353.4 81.3,359.6 77.2,365.9 70.9,370.0 62.6,376.3 60.5,384.6 52.1,382.6 51.1,372.1 45.9,365.9Z" fill="#a80f15" stroke="#a80f15" stroke-width="0.6"/>
<path d="M42.7,361.7L48.0,353.4L56.3,347.1L66.7,351.3L77.2,353.4L81.3,359.6L77.2,365.9L70.9,370.0L62.6,376.3L60.5,384.6L52.1,382.6L51.1,372.1L45.9,365.9L42.7,361.7" fill="none" stroke="#fff" stroke-opacity="0.5" stroke-width="0.8" stroke-linejoin="round"/>
<path d="M85.5,365.9 90.7,364.8 92.8,376.3 86.5,377.3Z" fill="#a80f15" stroke="#a80f15" stroke-width="0.6"/>
<path d="M85.5,365.9L90.7,364.8L92.8,376.3L86.5,377.3L85.5,365.9" fill="none" stroke="#fff" stroke-opacity="0.5" stroke-width="0.8" stroke-linejoin="round"/>
<path d="M175.2,320.0 220.0,320.0 220.0,338.8 208.5,347.1 198.1,349.2 191.8,338.8 183.5,336.7 177.3,332.5 173.1,326.3Z" fill="#a80f15" stroke="#a80f15" stroke-width="0.6"/>
<path d="M220.0,338.8L208.5,347.1L198.1,349.2L191.8,338.8L183.5,336.7L177.3,332.5L173.1,326.3L175.2,320.0" fill="none" stroke="#fff" stroke-opacity="0.5" stroke-width="0.8" stroke-linejoin="round"/>
<path d="M173.7,322.0 182.8,319.7 189.7,322.0 196.5,317.4 205.6,315.2 210.1,319.7 217.0,322.0 221.5,328.8 228.3,340.2 219.2,342.5 207.9,344.7 201.0,349.3 194.2,344.7 189.7,335.6 182.8,337.9 176.0,333.4 172.6,328.8Z" fill="#a80f15" stroke="#a80f15" stroke-width="0.6"/>
<path d="M173.7,322.0L182.8,319.7L189.7,322.0L196.5,317.4L205.6,315.2L210.1,319.7L217.0,322.0L221.5,328.8L228.3,340.2L219.2,342.5L207.9,344.7L201.0,349.3L194.2,344.7L189.7,335.6L182.8,337.9L176.0,333.4L172.6,328.8L173.7,322.0" fill="none" stroke="#fff" stroke-opacity="0.5" stroke-width="0.8" stroke-linejoin="round"/>
<path d="M248.8,221.9 255.6,215.1 264.7,215.1 273.8,219.6 278.4,228.7 282.9,235.5 273.8,240.1 264.7,242.4 260.2,249.2 255.6,258.3 251.1,267.4 242.0,262.8 232.9,258.3 230.6,251.5 235.2,242.4 242.0,235.5 247.7,231.0Z" fill="#a80f15" stroke="#a80f15" stroke-width="0.6"/>
<path d="M248.8,221.9L255.6,215.1L264.7,215.1L273.8,219.6L278.4,228.7L282.9,235.5L273.8,240.1L264.7,242.4L260.2,249.2L255.6,258.3L251.1,267.4L242.0,262.8L232.9,258.3L230.6,251.5L235.2,242.4L242.0,235.5L247.7,231.0L248.8,221.9" fill="none" stroke="#fff" stroke-opacity="0.5" stroke-width="0.8" stroke-linejoin="round"/>
<path d="M60.0,349.3 73.6,353.8 80.5,358.4 75.9,365.2 69.1,369.8 64.5,376.6 60.0,381.1Z" fill="#a80f15" stroke="#a80f15" stroke-width="0.6"/>
<path d="M60.0,349.3L73.6,353.8L80.5,358.4L75.9,365.2L69.1,369.8L64.5,376.6L60.0,381.1" fill="none" stroke="#fff" stroke-opacity="0.5" stroke-width="0.8" stroke-linejoin="round"/>
<path d="M84.6,365.7 90.7,365.2 92.3,375.5 86.2,376.6Z" fill="#a80f15" stroke="#a80f15" stroke-width="0.6"/>
<path d="M84.6,365.7L90.7,365.2L92.3,375.5L86.2,376.6L84.6,365.7" fill="none" stroke="#fff" stroke-opacity="0.5" stroke-width="0.8" stroke-linejoin="round"/>
<path d="M365.6,432.2 373.1,431.0 374.7,442.4 367.0,444.7Z" fill="#e48e9f" stroke="#e48e9f" stroke-width="0.6"/>
<path d="M365.6,432.2L373.1,431.0L374.7,442.4L367.0,444.7L365.6,432.2" fill="none" stroke="#fff" stroke-opacity="0.5" stroke-width="0.8" stroke-linejoin="round"/>
<path d="M489.7,663.9 500.1,663.2 498.3,668.9 491.5,669.3Z" fill="#e48e9f" stroke="#e48e9f" stroke-width="0.6"/>
<path d="M489.7,663.9L500.1,663.2L498.3,668.9L491.5,669.3L489.7,663.9" fill="none" stroke="#fff" stroke-opacity="0.5" stroke-width="0.8" stroke-linejoin="round"/>
<path d="M403.9,673.4 418.7,666.6 421.4,669.3 406.2,678.0Z" fill="#f4c6d0" stroke="#f4c6d0" stroke-width="0.6"/>
<path d="M403.9,673.4L418.7,666.6L421.4,669.3L406.2,678.0L403.9,673.4" fill="none" stroke="#fff" stroke-opacity="0.5" stroke-width="0.8" stroke-linejoin="round"/>
<path d="M255.5,174.7 260.1,170.1 266.9,165.6 273.7,159.9 278.3,162.2 280.6,170.1 284.0,179.2 287.4,183.8 282.8,188.3 273.7,189.5 266.9,188.3 260.1,189.5 256.7,183.8Z" fill="#cfc5b9" stroke="#cfc5b9" stroke-width="0.6"/>
<path d="M255.5,174.7L260.1,170.1L266.9,165.6L273.7,159.9L278.3,162.2L280.6,170.1L284.0,179.2L287.4,183.8L282.8,188.3L273.7,189.5L266.9,188.3L260.1,189.5L256.7,183.8L255.5,174.7" fill="none" stroke="#fff" stroke-opacity="0.5" stroke-width="0.8" stroke-linejoin="round"/>
<path d="M189.6,217.9 205.5,219.1 208.9,224.7 205.5,231.6 196.4,229.3 190.7,224.7Z" fill="#cfc5b9" stroke="#cfc5b9" stroke-width="0.6"/>
<path d="M189.6,217.9L205.5,219.1L208.9,224.7L205.5,231.6L196.4,229.3L190.7,224.7L189.6,217.9" fill="none" stroke="#fff" stroke-opacity="0.5" stroke-width="0.8" stroke-linejoin="round"/>
<path d="M266.5,120.1 271.5,117.8 272.6,126.9 267.4,128.7Z" fill="#cfc5b9" stroke="#cfc5b9" stroke-width="0.6"/>
<path d="M266.5,120.1L271.5,117.8L272.6,126.9L267.4,128.7L266.5,120.1" fill="none" stroke="#fff" stroke-opacity="0.5" stroke-width="0.8" stroke-linejoin="round"/>
<path d="M539.3,284.5 548.4,284.5 549.5,294.8 540.4,295.9Z" fill="#cfc5b9" stroke="#cfc5b9" stroke-width="0.6"/>
<path d="M539.3,284.5L548.4,284.5L549.5,294.8L540.4,295.9L539.3,284.5" fill="none" stroke="#fff" stroke-opacity="0.5" stroke-width="0.8" stroke-linejoin="round"/>
<path d="M460.1,113.9 472.2,112.8 473.3,120.8 461.9,121.9Z" fill="#cfc5b9" stroke="#cfc5b9" stroke-width="0.6"/>
<path d="M460.1,113.9L472.2,112.8L473.3,120.8L461.9,121.9L460.1,113.9" fill="none" stroke="#fff" stroke-opacity="0.5" stroke-width="0.8" stroke-linejoin="round"/>
<path d="M364.1,314.1 376.6,313.0 377.7,323.2 366.4,324.4Z" fill="#cfc5b9" stroke="#cfc5b9" stroke-width="0.6"/>
<path d="M364.1,314.1L376.6,313.0L377.7,323.2L366.4,324.4L364.1,314.1" fill="none" stroke="#fff" stroke-opacity="0.5" stroke-width="0.8" stroke-linejoin="round"/>
<path d="M71.9,424.3 83.4,424.3 89.7,432.6 89.7,443.0 81.3,443.0 73.0,434.7Z" fill="#cfc5b9" stroke="#cfc5b9" stroke-width="0.6"/>
<path d="M71.9,424.3L83.4,424.3L89.7,432.6L89.7,443.0L81.3,443.0L73.0,434.7L71.9,424.3" fill="none" stroke="#fff" stroke-opacity="0.5" stroke-width="0.8" stroke-linejoin="round"/>
<path d="M83.4,450.3 90.7,449.3 92.8,457.6 89.7,463.9 83.4,461.8Z" fill="#cfc5b9" stroke="#cfc5b9" stroke-width="0.6"/>
<path d="M83.4,450.3L90.7,449.3L92.8,457.6L89.7,463.9L83.4,461.8L83.4,450.3" fill="none" stroke="#fff" stroke-opacity="0.5" stroke-width="0.8" stroke-linejoin="round"/>
<path d="M110.5,457.6 118.9,451.4 127.2,447.2 133.5,440.9 139.7,443.0 143.9,453.5 141.8,459.7 133.5,455.5 127.2,457.6 120.9,463.9 113.6,470.1 110.5,463.9Z" fill="#cfc5b9" stroke="#cfc5b9" stroke-width="0.6"/>
<path d="M110.5,457.6L118.9,451.4L127.2,447.2L133.5,440.9L139.7,443.0L143.9,453.5L141.8,459.7L133.5,455.5L127.2,457.6L120.9,463.9L113.6,470.1L110.5,463.9L110.5,457.6" fill="none" stroke="#fff" stroke-opacity="0.5" stroke-width="0.8" stroke-linejoin="round"/>
<path d="M46.9,493.1 54.2,488.9 64.6,493.1 77.2,497.3 83.4,501.4 77.2,506.6 78.2,513.9 73.0,518.1 62.6,513.9 56.3,516.0 52.1,507.7Z" fill="#cfc5b9" stroke="#cfc5b9" stroke-width="0.6"/>
<path d="M46.9,493.1L54.2,488.9L64.6,493.1L77.2,497.3L83.4,501.4L77.2,506.6L78.2,513.9L73.0,518.1L62.6,513.9L56.3,516.0L52.1,507.7L46.9,493.1" fill="none" stroke="#fff" stroke-opacity="0.5" stroke-width="0.8" stroke-linejoin="round"/>
<path d="M78.2,378.4 87.6,376.3 91.8,384.6 87.6,390.9 80.3,388.8Z" fill="#cfc5b9" stroke="#cfc5b9" stroke-width="0.6"/>
<path d="M78.2,378.4L87.6,376.3L91.8,384.6L87.6,390.9L80.3,388.8L78.2,378.4" fill="none" stroke="#fff" stroke-opacity="0.5" stroke-width="0.8" stroke-linejoin="round"/>
<path d="M179.3,535.8 187.7,534.8 188.7,548.3 180.4,549.4Z" fill="#cfc5b9" stroke="#cfc5b9" stroke-width="0.6"/>
<path d="M179.3,535.8L187.7,534.8L188.7,548.3L180.4,549.4L179.3,535.8" fill="none" stroke="#fff" stroke-opacity="0.5" stroke-width="0.8" stroke-linejoin="round"/>
<path d="M193.1,217.3 201.0,216.2 209.0,219.6 207.9,227.6 198.8,228.7 194.2,224.2Z" fill="#cfc5b9" stroke="#cfc5b9" stroke-width="0.6"/>
<path d="M193.1,217.3L201.0,216.2L209.0,219.6L207.9,227.6L198.8,228.7L194.2,224.2L193.1,217.3" fill="none" stroke="#fff" stroke-opacity="0.5" stroke-width="0.8" stroke-linejoin="round"/>
<path d="M256.8,176.4 262.5,167.3 271.6,162.7 278.4,165.0 279.5,176.4 282.9,185.5 278.4,188.9 264.7,187.8 257.9,186.6Z" fill="#cfc5b9" stroke="#cfc5b9" stroke-width="0.6"/>
<path d="M256.8,176.4L262.5,167.3L271.6,162.7L278.4,165.0L279.5,176.4L282.9,185.5L278.4,188.9L264.7,187.8L257.9,186.6L256.8,176.4" fill="none" stroke="#fff" stroke-opacity="0.5" stroke-width="0.8" stroke-linejoin="round"/>
<path d="M153.3,168.4 159.6,167.3 160.5,177.5 154.4,178.7Z" fill="#cfc5b9" stroke="#cfc5b9" stroke-width="0.6"/>
<path d="M153.3,168.4L159.6,167.3L160.5,177.5L154.4,178.7L153.3,168.4" fill="none" stroke="#fff" stroke-opacity="0.5" stroke-width="0.8" stroke-linejoin="round"/>
<path d="M160.5,213.3 167.4,212.8 168.3,221.4 161.5,221.9Z" fill="#cfc5b9" stroke="#cfc5b9" stroke-width="0.6"/>
<path d="M160.5,213.3L167.4,212.8L168.3,221.4L161.5,221.9L160.5,213.3" fill="none" stroke="#fff" stroke-opacity="0.5" stroke-width="0.8" stroke-linejoin="round"/>
<path d="M251.1,399.3 260.2,390.2 269.3,392.5 278.4,401.6 284.1,413.0 282.9,426.6 273.8,433.5 264.7,422.1 253.4,415.3Z" fill="#cfc5b9" stroke="#cfc5b9" stroke-width="0.6"/>
<path d="M251.1,399.3L260.2,390.2L269.3,392.5L278.4,401.6L284.1,413.0L282.9,426.6L273.8,433.5L264.7,422.1L253.4,415.3L251.1,399.3" fill="none" stroke="#fff" stroke-opacity="0.5" stroke-width="0.8" stroke-linejoin="round"/>
<path d="M386.8,375.3 398.2,374.6 399.3,386.7 391.3,389.0 386.1,383.3Z" fill="#cfc5b9" stroke="#cfc5b9" stroke-width="0.6"/>
<path d="M386.8,375.3L398.2,374.6L399.3,386.7L391.3,389.0L386.1,383.3L386.8,375.3" fill="none" stroke="#fff" stroke-opacity="0.5" stroke-width="0.8" stroke-linejoin="round"/>
<path d="M251.4,408.3 258.2,392.4 265.1,390.1 269.6,401.5 278.7,410.6 283.3,417.4 281.0,428.8 271.9,426.5 262.8,421.9 253.7,417.4Z" fill="#cfc5b9" stroke="#cfc5b9" stroke-width="0.6"/>
<path d="M251.4,408.3L258.2,392.4L265.1,390.1L269.6,401.5L278.7,410.6L283.3,417.4L281.0,428.8L271.9,426.5L262.8,421.9L253.7,417.4L251.4,408.3" fill="none" stroke="#fff" stroke-opacity="0.5" stroke-width="0.8" stroke-linejoin="round"/>
<path d="M333.3,480.0 347.0,477.7 351.5,487.9 349.2,499.3 340.1,494.7 334.5,490.2Z" fill="#cfc5b9" stroke="#cfc5b9" stroke-width="0.6"/>
<path d="M333.3,480.0L347.0,477.7L351.5,487.9L349.2,499.3L340.1,494.7L334.5,490.2L333.3,480.0" fill="none" stroke="#fff" stroke-opacity="0.5" stroke-width="0.8" stroke-linejoin="round"/>
<path d="M386.5,375.9 396.9,374.8 398.4,387.3 390.6,389.4 385.8,384.2Z" fill="#cfc5b9" stroke="#cfc5b9" stroke-width="0.6"/>
<path d="M386.5,375.9L396.9,374.8L398.4,387.3L390.6,389.4L385.8,384.2L386.5,375.9" fill="none" stroke="#fff" stroke-opacity="0.5" stroke-width="0.8" stroke-linejoin="round"/>
<path d="M535.2,338.3 547.0,337.3 548.1,351.9 536.0,352.9Z" fill="#cfc5b9" stroke="#cfc5b9" stroke-width="0.6"/>
<path d="M535.2,338.3L547.0,337.3L548.1,351.9L536.0,352.9L535.2,338.3" fill="none" stroke="#fff" stroke-opacity="0.5" stroke-width="0.8" stroke-linejoin="round"/>
<path d="M331.9,771.2 338.8,759.9 350.1,756.5 359.2,758.7 360.4,766.7 364.9,780.3 357.0,786.0 347.9,784.9 338.8,788.3 336.5,780.3Z" fill="#cfc5b9" stroke="#cfc5b9" stroke-width="0.6"/>
<path d="M331.9,771.2L338.8,759.9L350.1,756.5L359.2,758.7L360.4,766.7L364.9,780.3L357.0,786.0L347.9,784.9L338.8,788.3L336.5,780.3L331.9,771.2" fill="none" stroke="#fff" stroke-opacity="0.5" stroke-width="0.8" stroke-linejoin="round"/>
<path d="M362.0,706.4 380.9,705.3 382.0,717.8 363.3,718.9Z" fill="#cfc5b9" stroke="#cfc5b9" stroke-width="0.6"/>
<path d="M362.0,706.4L380.9,705.3L382.0,717.8L363.3,718.9L362.0,706.4" fill="none" stroke="#fff" stroke-opacity="0.5" stroke-width="0.8" stroke-linejoin="round"/>
<use href="#tex" fill="none" stroke="#fff" stroke-opacity="0.5" stroke-width="0.8"/>
<use href="#stb" fill="none" stroke="#fff" stroke-opacity="0.95" stroke-width="2" stroke-linejoin="round" stroke-linecap="round"/>
</g>
<path d="M181.8,27.5 179.1,30.5 175.9,37.7 174.1,44.6 173.2,51.8 171.8,57.1 173.6,59.1 175.9,54.1 176.8,46.8 181.8,45.0 179.1,42.3 179.1,36.4 183.2,30.0Z" fill="#d6476a"/>
<path d="M179.3,59.1 185.0,56.9 189.6,59.1 189.1,63.2 182.7,65.0 179.1,62.8Z" fill="#d6476a"/>
<path d="M174.6,64.6 177.7,65.0 178.2,70.5 175.5,70.0Z" fill="#d6476a"/>
<path d="M185.5,68.2 191.8,66.6 192.3,68.7 186.2,70.0Z" fill="#d6476a"/>
<path d="M190.0,78.0 195.9,76.9 197.1,81.9 191.4,83.7Z" fill="#d6476a"/>
<path d="M201.4,81.0 208.2,79.6 210.5,84.2 203.2,86.4Z" fill="#d6476a"/>
<path d="M72.7,168.2 77.7,166.4 81.8,168.7 79.6,171.8 74.1,171.8Z" fill="#f4c6d0"/>
<path d="M85.0,162.1 94.1,160.7 94.1,163.0 85.0,164.3Z" fill="#f4c6d0"/>
<path d="M97.5,159.8 106.6,158.0 106.6,160.2 97.5,162.1Z" fill="#f4c6d0"/>
<path d="M108.9,157.5 121.4,155.7 121.4,158.0 108.9,159.8Z" fill="#f4c6d0"/>
<path d="M124.8,154.8 135.1,153.0 135.1,155.2 124.8,157.1Z" fill="#f4c6d0"/>
<path d="M138.5,152.5 151.0,151.6 151.0,153.9 138.5,154.8Z" fill="#f4c6d0"/>
<path d="M330.6,81.4 336.3,79.1 342.0,82.6 344.3,88.2 339.7,91.7 334.0,90.5 330.6,87.1Z" fill="#d6476a"/>
<path d="M448.5,80.9 451.9,69.6 457.6,61.6 465.5,60.0 470.1,62.7 467.8,69.6 474.6,70.7 481.5,68.4 483.7,74.1 481.5,80.9 486.0,87.8 487.2,96.9 483.7,102.6 476.9,104.8 470.1,102.6 463.3,101.4 456.4,96.9 450.8,91.2 448.5,85.5Z" fill="#f4c6d0"/>
</g>
<g opacity="0.999">
<circle cx="280.1" cy="97.3" r="3.1" fill="#000"/>
<text x="284.0" y="86.4" font-size="16" textLength="23.4" lengthAdjust="spacingAndGlyphs" stroke="#111" stroke-width="0.3">Kiel</text>
<circle cx="268.7" cy="179.9" r="3.1" fill="#000"/>
<text x="261.7" y="200.8" font-size="16" textLength="60.3" lengthAdjust="spacingAndGlyphs" stroke="#111" stroke-width="0.3">Hamburg</text>
<circle cx="353.4" cy="169.7" r="3.1" fill="#000"/>
<text x="328.8" y="160.4" font-size="16" textLength="59.8" lengthAdjust="spacingAndGlyphs" stroke="#111" stroke-width="0.3">Schwerin</text>
<circle cx="195.7" cy="218.6" r="3.1" fill="#000"/>
<text x="189.1" y="238.4" font-size="16" textLength="50.5" lengthAdjust="spacingAndGlyphs" stroke="#111" stroke-width="0.3">Bremen</text>
<circle cx="253.7" cy="297.5" r="3.1" fill="#000"/>
<text x="239.6" y="289.6" font-size="16" textLength="61.9" lengthAdjust="spacingAndGlyphs" stroke="#111" stroke-width="0.3">Hannover</text>
<circle cx="476.9" cy="276.1" r="3.1" fill="#000"/>
<text x="470.1" y="268.2" font-size="16" textLength="37.5" lengthAdjust="spacingAndGlyphs" stroke="#111" stroke-width="0.3">Berlin</text>
<circle cx="456.0" cy="285.7" r="3.1" fill="#000"/>
<text x="397.8" y="279.3" font-size="16" textLength="57.5" lengthAdjust="spacingAndGlyphs" stroke="#111" stroke-width="0.3">Potsdam</text>
<circle cx="370.4" cy="317.8" r="3.1" fill="#000"/>
<text x="345.8" y="307.7" font-size="16" textLength="74.0" lengthAdjust="spacingAndGlyphs" stroke="#111" stroke-width="0.3">Magdeburg</text>
<circle cx="332.9" cy="432.6" r="3.1" fill="#000"/>
<text x="301.9" y="447.4" font-size="16" textLength="37.1" lengthAdjust="spacingAndGlyphs" stroke="#111" stroke-width="0.3">Erfurt</text>
<circle cx="506.8" cy="417.6" r="3.1" fill="#000"/>
<text x="494.7" y="434.3" font-size="16" textLength="53.2" lengthAdjust="spacingAndGlyphs" stroke="#111" stroke-width="0.3">Dresden</text>
<circle cx="72.0" cy="403.0" r="3.1" fill="#000"/>
<text x="15.6" y="419.1" font-size="16" textLength="70.9" lengthAdjust="spacingAndGlyphs" stroke="#111" stroke-width="0.3">Düsseldorf</text>
<circle cx="156.4" cy="521.7" r="3.1" fill="#000"/>
<text x="162.3" y="518.5" font-size="16" textLength="70.6" lengthAdjust="spacingAndGlyphs" stroke="#111" stroke-width="0.3">Wiesbaden</text>
<circle cx="157.9" cy="534.2" r="3.1" fill="#000"/>
<text x="121.6" y="550.4" font-size="16" textLength="38.6" lengthAdjust="spacingAndGlyphs" stroke="#111" stroke-width="0.3">Mainz</text>
<circle cx="71.0" cy="601.4" r="3.1" fill="#000"/>
<text x="54.6" y="592.3" font-size="16" textLength="83.2" lengthAdjust="spacingAndGlyphs" stroke="#111" stroke-width="0.3">Saarbrücken</text>
<circle cx="215.0" cy="650.8" r="3.1" fill="#000"/>
<text x="177.0" y="665.1" font-size="16" textLength="58.6" lengthAdjust="spacingAndGlyphs" stroke="#111" stroke-width="0.3">Stuttgart</text>
<circle cx="372.2" cy="713.6" r="3.1" fill="#000"/>
<text x="324.0" y="704.2" font-size="16" textLength="58.4" lengthAdjust="spacingAndGlyphs" stroke="#111" stroke-width="0.3">München</text>
<circle cx="740.1" cy="622.3" r="3.1" fill="#000"/>
<text x="744.0" y="611.4" font-size="16" textLength="23.4" lengthAdjust="spacingAndGlyphs" stroke="#111" stroke-width="0.3">Kiel</text>
<circle cx="728.7" cy="704.9" r="3.1" fill="#000"/>
<text x="719.7" y="724.2" font-size="16" textLength="60.3" lengthAdjust="spacingAndGlyphs" stroke="#111" stroke-width="0.3">Hamburg</text>
<circle cx="813.4" cy="694.7" r="3.1" fill="#000"/>
<text x="788.8" y="685.4" font-size="16" textLength="59.8" lengthAdjust="spacingAndGlyphs" stroke="#111" stroke-width="0.3">Schwerin</text>
<circle cx="655.7" cy="743.6" r="3.1" fill="#000"/>
<text x="617.8" y="735.1" font-size="16" textLength="51.2" lengthAdjust="spacingAndGlyphs" stroke="#111" stroke-width="0.3">Bremen</text>
<circle cx="713.7" cy="822.5" r="3.1" fill="#000"/>
<text x="699.6" y="814.6" font-size="16" textLength="61.9" lengthAdjust="spacingAndGlyphs" stroke="#111" stroke-width="0.3">Hannover</text>
<circle cx="936.9" cy="801.1" r="3.1" fill="#000"/>
<text x="930.1" y="793.2" font-size="16" textLength="37.5" lengthAdjust="spacingAndGlyphs" stroke="#111" stroke-width="0.3">Berlin</text>
<circle cx="916.0" cy="810.7" r="3.1" fill="#000"/>
<text x="857.8" y="804.3" font-size="16" textLength="57.5" lengthAdjust="spacingAndGlyphs" stroke="#111" stroke-width="0.3">Potsdam</text>
<circle cx="830.4" cy="842.8" r="3.1" fill="#000"/>
<text x="805.8" y="832.7" font-size="16" textLength="74.0" lengthAdjust="spacingAndGlyphs" stroke="#111" stroke-width="0.3">Magdeburg</text>
<circle cx="792.9" cy="957.6" r="3.1" fill="#000"/>
<text x="761.9" y="972.4" font-size="16" textLength="37.1" lengthAdjust="spacingAndGlyphs" stroke="#111" stroke-width="0.3">Erfurt</text>
<circle cx="966.8" cy="942.6" r="3.1" fill="#000"/>
<text x="954.7" y="959.3" font-size="16" textLength="53.2" lengthAdjust="spacingAndGlyphs" stroke="#111" stroke-width="0.3">Dresden</text>
<circle cx="532.0" cy="928.0" r="3.1" fill="#000"/>
<text x="491.3" y="944.1" font-size="16" textLength="70.9" lengthAdjust="spacingAndGlyphs" stroke="#111" stroke-width="0.3">Düsseldorf</text>
<circle cx="616.4" cy="1046.7" r="3.1" fill="#000"/>
<text x="622.3" y="1043.5" font-size="16" textLength="70.6" lengthAdjust="spacingAndGlyphs" stroke="#111" stroke-width="0.3">Wiesbaden</text>
<circle cx="617.9" cy="1059.2" r="3.1" fill="#000"/>
<text x="581.6" y="1075.4" font-size="16" textLength="38.6" lengthAdjust="spacingAndGlyphs" stroke="#111" stroke-width="0.3">Mainz</text>
<circle cx="531.0" cy="1126.4" r="3.1" fill="#000"/>
<text x="514.6" y="1117.3" font-size="16" textLength="83.2" lengthAdjust="spacingAndGlyphs" stroke="#111" stroke-width="0.3">Saarbrücken</text>
<circle cx="675.0" cy="1175.8" r="3.1" fill="#000"/>
<text x="637.0" y="1190.1" font-size="16" textLength="58.6" lengthAdjust="spacingAndGlyphs" stroke="#111" stroke-width="0.3">Stuttgart</text>
<circle cx="832.2" cy="1238.6" r="3.1" fill="#000"/>
<text x="817.0" y="1256.4" font-size="16" textLength="59.1" lengthAdjust="spacingAndGlyphs" stroke="#111" stroke-width="0.3">München</text>
<text x="655.3" y="169.2" font-size="20.8" font-weight="bold" textLength="61.4" lengthAdjust="spacingAndGlyphs">RINDER</text>
<text x="655.3" y="214.2" font-size="17" textLength="162.6" lengthAdjust="spacingAndGlyphs" stroke="#111" stroke-width="0.25">je 100 Hektar Landfläche</text>
<rect x="655.0" y="225.6" width="15.0" height="14.0" fill="#c8dcea"/>
<text x="675.7" y="238.1" font-size="17" textLength="91.0" lengthAdjust="spacingAndGlyphs" stroke="#111" stroke-width="0.25">0 bis unter 30</text>
<rect x="655.0" y="246.5" width="15.0" height="13.8" fill="#86b1d0"/>
<text x="675.7" y="259.0" font-size="17" textLength="100.1" lengthAdjust="spacingAndGlyphs" stroke="#111" stroke-width="0.25">30 bis unter 60</text>
<rect x="655.0" y="267.0" width="15.0" height="13.8" fill="#4192b6"/>
<text x="675.7" y="279.7" font-size="17" textLength="100.1" lengthAdjust="spacingAndGlyphs" stroke="#111" stroke-width="0.25">60 bis unter 90</text>
<rect x="655.0" y="288.0" width="15.0" height="13.8" fill="#4d7d75"/>
<text x="675.7" y="300.7" font-size="17" textLength="106.3" lengthAdjust="spacingAndGlyphs" stroke="#111" stroke-width="0.25">90 bis unter 120</text>
<rect x="655.0" y="308.6" width="15.0" height="13.8" fill="#3b2752"/>
<text x="675.7" y="321.1" font-size="17" textLength="89.9" lengthAdjust="spacingAndGlyphs" stroke="#111" stroke-width="0.25">120 und mehr</text>
<rect x="655.0" y="349.5" width="15.0" height="14.2" fill="#d4c6b7"/>
<text x="676.4" y="362.5" font-size="17" textLength="94.2" lengthAdjust="spacingAndGlyphs" stroke="#111" stroke-width="0.25">keine Angaben</text>
<text x="177.5" y="994.4" font-size="20.8" font-weight="bold" textLength="86.5" lengthAdjust="spacingAndGlyphs">SCHWEINE</text>
<text x="177.5" y="1039.4" font-size="17" textLength="163.1" lengthAdjust="spacingAndGlyphs" stroke="#111" stroke-width="0.25">je 100 Hektar Landfläche</text>
<rect x="176.9" y="1050.0" width="15.0" height="14.7" fill="#f4c6d0"/>
<text x="196.9" y="1062.9" font-size="17" textLength="92.1" lengthAdjust="spacingAndGlyphs" stroke="#111" stroke-width="0.25">0 bis unter 20</text>
<rect x="176.9" y="1070.8" width="15.0" height="14.2" fill="#e48e9f"/>
<text x="196.9" y="1083.3" font-size="17" textLength="106.9" lengthAdjust="spacingAndGlyphs" stroke="#111" stroke-width="0.25">20 bis unter 100</text>
<rect x="176.9" y="1091.7" width="15.0" height="14.1" fill="#d6476a"/>
<text x="196.9" y="1104.3" font-size="17" textLength="117.1" lengthAdjust="spacingAndGlyphs" stroke="#111" stroke-width="0.25">100 bis unter 200</text>
<rect x="176.9" y="1112.0" width="15.0" height="14.6" fill="#a80f15"/>
<text x="196.9" y="1124.7" font-size="17" textLength="119.4" lengthAdjust="spacingAndGlyphs" stroke="#111" stroke-width="0.25">200 bis unter 300</text>
<rect x="176.9" y="1133.0" width="15.0" height="14.5" fill="#6c1e43"/>
<text x="196.9" y="1145.7" font-size="17" textLength="93.2" lengthAdjust="spacingAndGlyphs" stroke="#111" stroke-width="0.25">300 und mehr</text>
<rect x="176.9" y="1174.0" width="15.0" height="15.0" fill="#cfc5b9"/>
<text x="197.3" y="1187.3" font-size="17" textLength="95.6" lengthAdjust="spacingAndGlyphs" stroke="#111" stroke-width="0.25">keine Angaben</text>
</g>
<path d="M729.2,104.6 732.5,104.1 735.6,103.6 734.6,99.9 736.7,101.5 738.8,103.3 744.0,103.0 747.6,102.5 749.7,99.4 751.8,97.1 751.3,100.4 749.7,103.6 753.4,104.1 757.0,104.1 755.5,106.5 752.3,107.7 750.2,108.2 753.4,109.8 759.6,110.3 764.8,111.4 769.0,112.4 774.2,112.9 782.6,112.7 790.9,112.1 796.1,111.4 801.3,110.9 806.5,111.4 811.8,112.9 815.9,115.5 818.0,119.2 818.8,124.4 818.5,131.7 818.0,139.0 818.5,144.2 820.1,148.4 821.7,152.6 820.6,153.6 819.1,151.5 818.0,154.6 818.5,158.8 818.0,165.1 817.5,168.2 811.8,168.4 812.8,166.1 814.4,163.0 813.8,157.8 812.3,152.6 809.7,149.4 807.6,146.8 805.5,145.8 799.2,145.8 795.1,146.8 793.0,147.3 790.9,145.3 788.8,144.2 782.6,143.7 776.3,143.4 772.1,143.7 771.1,148.4 770.6,154.6 771.1,160.9 770.0,165.1 769.5,168.2 763.8,168.4 764.8,166.6 766.9,164.5 766.4,158.8 764.8,152.6 763.3,148.4 760.7,145.8 755.5,144.2 751.3,142.1 748.2,138.0 746.1,133.8 745.0,129.6 743.5,128.1 740.3,125.5 738.2,121.3 736.7,118.7 733.0,118.2 730.4,116.6 730.9,114.0 733.0,111.4 734.1,108.8 732.5,107.7 729.9,106.2Z" fill="#b39d83"/>
<path d="M292.5,959.9 293.5,956.1 295.9,952.3 299.6,949.5 305.3,948.1 312.9,947.6 320.5,947.6 328.1,948.1 335.7,949.5 343.2,952.3 348.9,954.7 352.7,956.1 355.6,956.6 358.4,958.5 363.2,960.4 360.3,961.6 356.5,962.0 354.6,963.7 355.1,966.5 357.5,969.4 359.8,972.2 358.9,975.1 356.5,975.8 352.7,974.6 348.9,973.6 345.1,973.6 341.4,973.4 336.6,973.2 334.2,974.1 333.3,977.9 332.8,983.6 332.6,989.3 333.0,992.3 329.2,992.6 329.0,989.3 328.6,983.6 327.6,978.9 326.2,975.1 322.4,975.5 316.7,976.5 312.0,976.0 307.7,974.6 305.3,974.1 303.4,977.9 303.0,980.8 304.4,984.5 305.8,988.3 307.2,992.1 303.4,992.6 302.0,989.3 299.6,984.5 296.8,980.8 295.4,977.9 295.9,974.1 295.4,969.4 294.4,965.6 293.0,962.7Z" fill="#b39d83"/>
<path d="M293.0,960.1 290.2,961.4 286.8,962.0 284.0,961.4" fill="none" stroke="#b39d83" stroke-width="1.5"/>
<circle cx="287.6" cy="957.6" r="1.9" fill="none" stroke="#b39d83" stroke-width="1.5"/>
</svg></body></html>
